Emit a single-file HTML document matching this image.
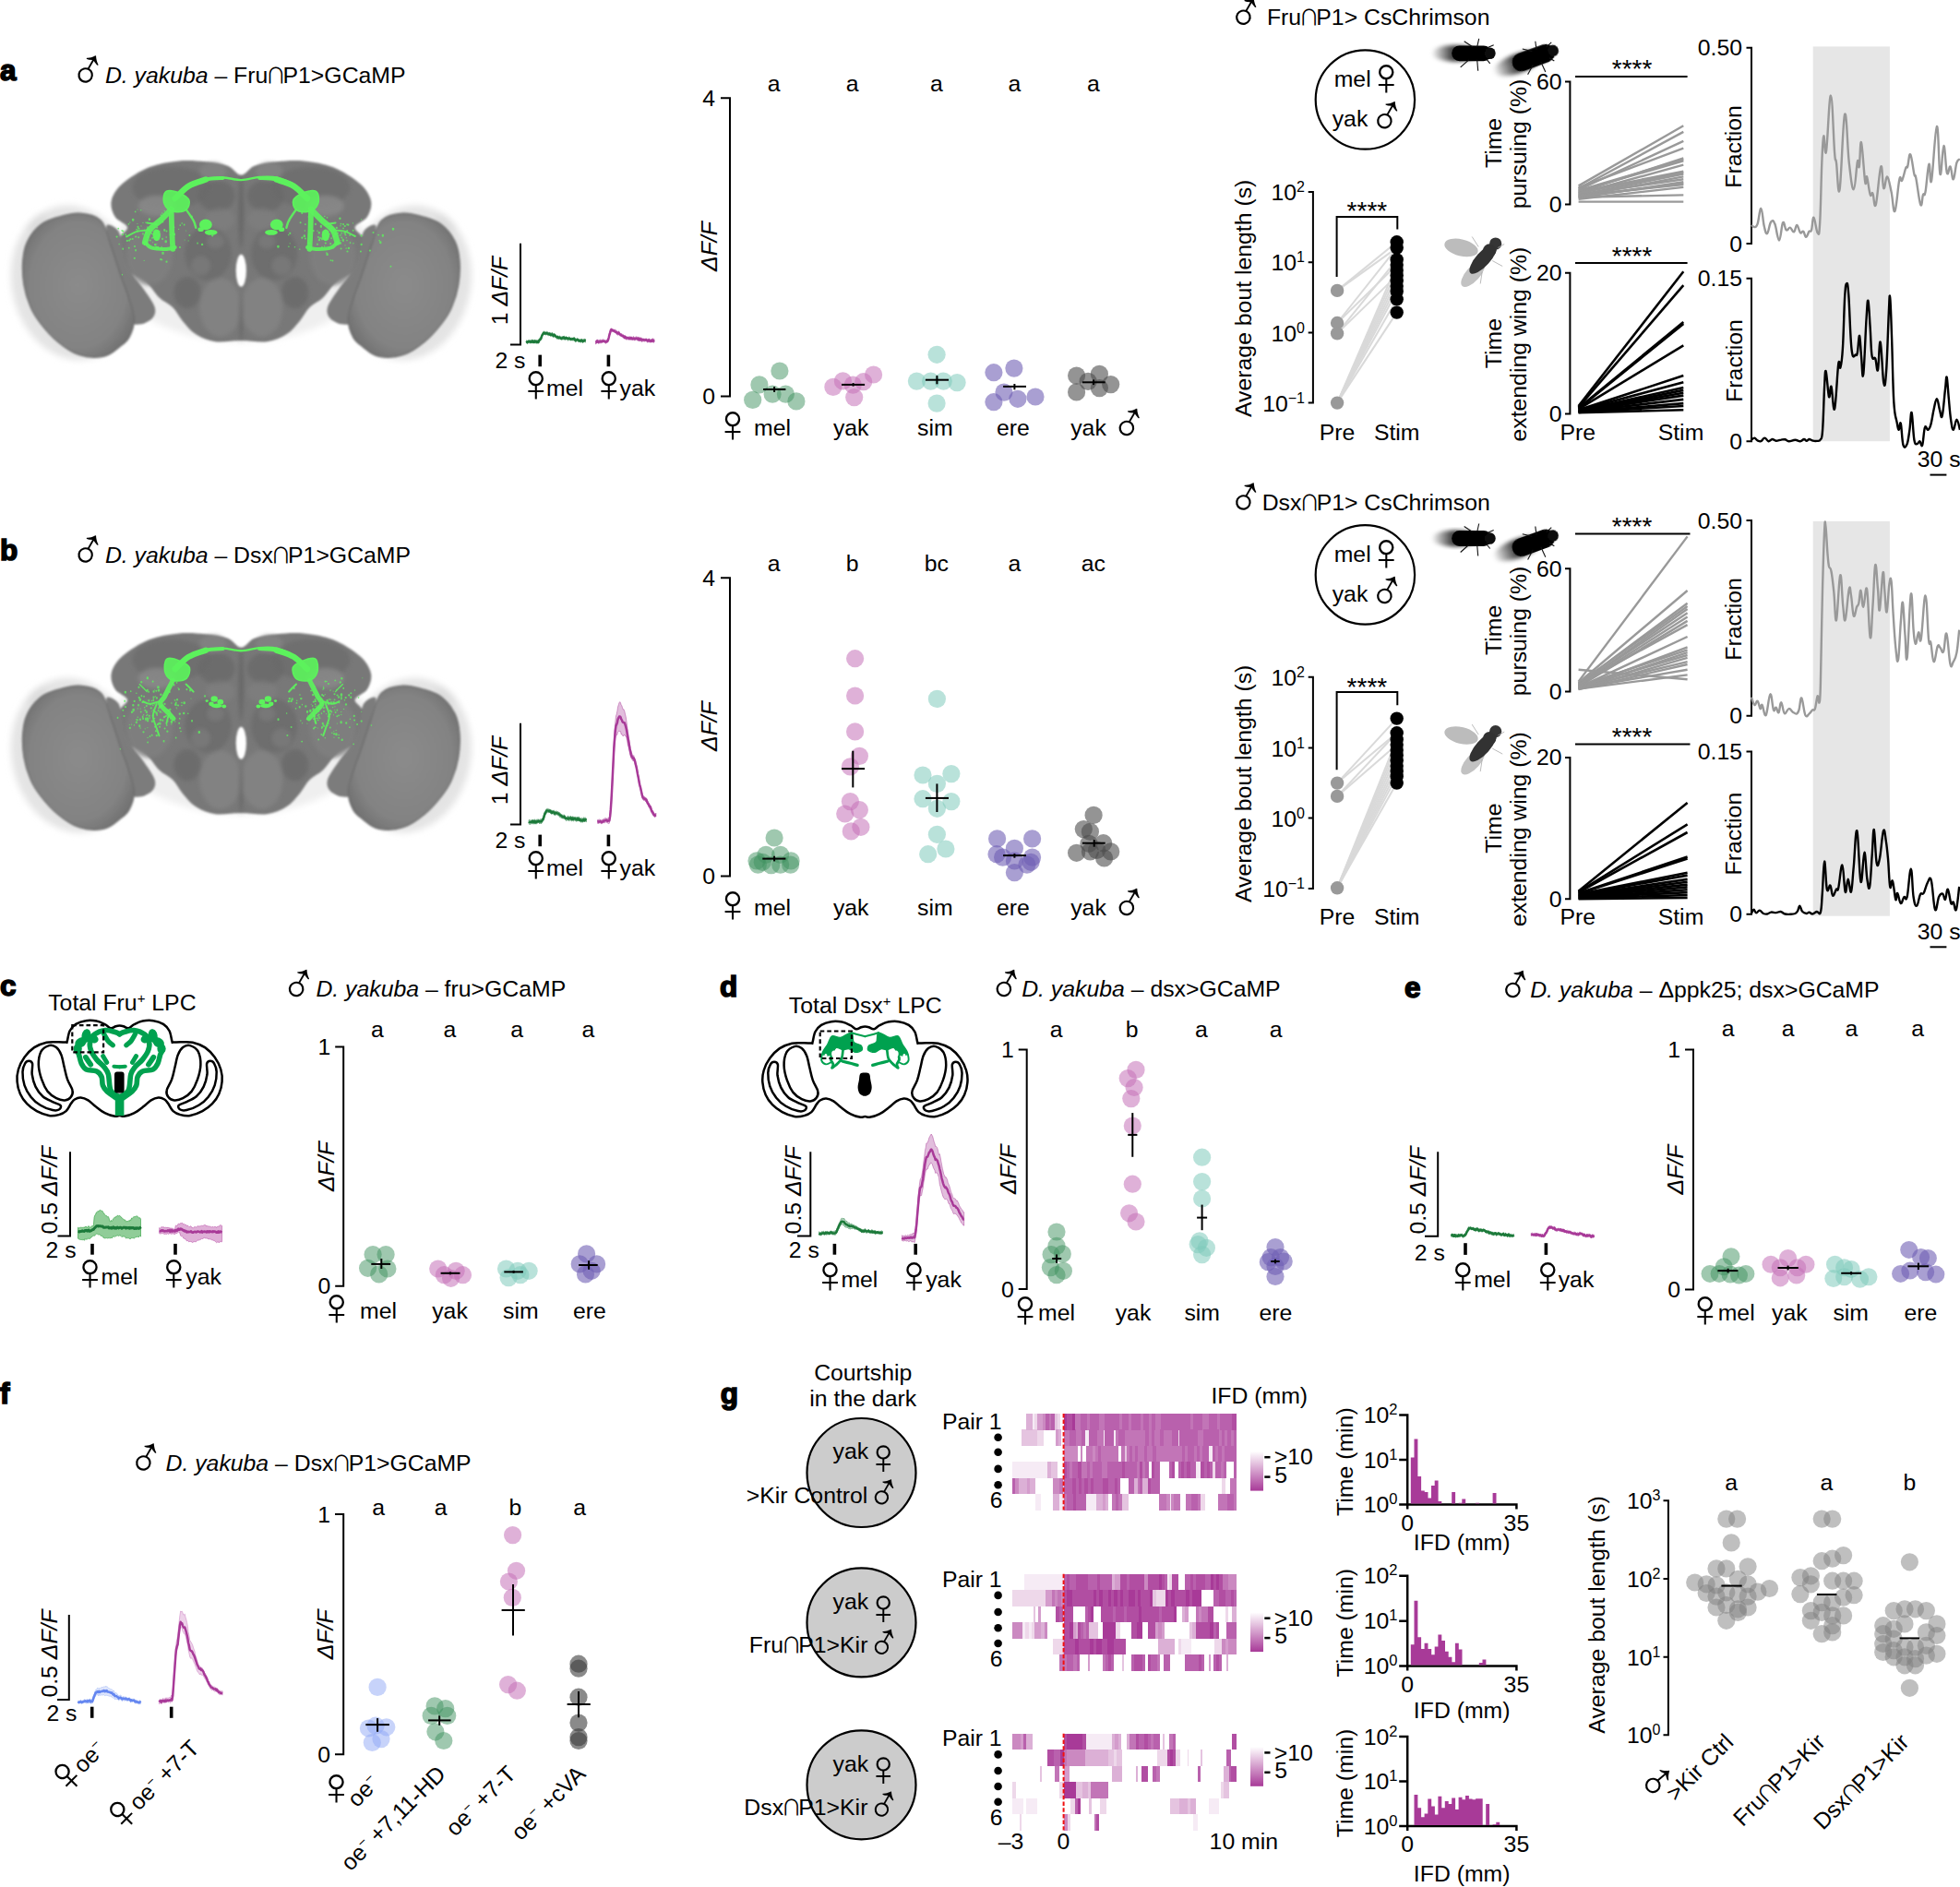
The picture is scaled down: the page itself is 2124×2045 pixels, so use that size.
<!DOCTYPE html><html><head><meta charset="utf-8"><title>figure</title><style>html,body{margin:0;padding:0;background:#fff}svg{display:block}text{font-family:'Liberation Sans',sans-serif;fill:#000}</style></head><body><svg width="2124" height="2045" viewBox="0 0 2124 2045"><rect width="2124" height="2045" fill="#fff"/><defs><filter id="bl05" x="-10%" y="-10%" width="120%" height="120%"><feGaussianBlur stdDeviation="0.5"/></filter><filter id="bl1" x="-10%" y="-10%" width="120%" height="120%"><feGaussianBlur stdDeviation="1.3"/></filter><filter id="bl2" x="-20%" y="-20%" width="140%" height="140%"><feGaussianBlur stdDeviation="3.5"/></filter><linearGradient id="cbar" x1="0" y1="0" x2="0" y2="1"><stop offset="0" stop-color="#fff"/><stop offset="1" stop-color="#a83a98"/></linearGradient><linearGradient id="tailg" x1="0" y1="0" x2="1" y2="0"><stop offset="0" stop-color="#000" stop-opacity="0"/><stop offset="0.45" stop-color="#000" stop-opacity="0.75"/><stop offset="1" stop-color="#000" stop-opacity="0.9"/></linearGradient><radialGradient id="eyeg" cx="0.5" cy="0.5" r="0.62"><stop offset="0" stop-color="#8b8b8b"/><stop offset="0.7" stop-color="#838383"/><stop offset="1" stop-color="#6b6b6b"/></radialGradient><filter id="bl4" x="-20%" y="-20%" width="140%" height="140%"><feGaussianBlur stdDeviation="2"/></filter></defs>
<text x="0.0" y="87.4" font-size="31.5" font-weight="bold" stroke="#000" stroke-width="1.6">a</text>
<text x="-9.9" y="8.0" font-size="62" font-weight="200" style="font-family:'DejaVu Sans',sans-serif" transform="translate(83.8 90.0) translate(8.0 -8.0) rotate(-15) scale(0.95) translate(-8.0 8.0)">♂</text>
<text x="113.9" y="90.0" font-size="24.8"><tspan font-style="italic">D. yakuba</tspan> – Fru<tspan style="font-family:'Noto Sans CJK JP',sans-serif" font-size="0.9em" dx="-2.5" letter-spacing="-3.6">∩</tspan>P1&gt;GCaMP</text>
<g filter="url(#bl2)">
<ellipse cx="261.3" cy="282.7" rx="143.3" ry="87.6" fill="#efefef"/>
<ellipse cx="79.6" cy="306.5" rx="66.9" ry="84.4" fill="#e4e4e4" transform="rotate(-12 79.6 306.5)"/>
<ellipse cx="443.1" cy="306.5" rx="66.9" ry="84.4" fill="#e4e4e4" transform="rotate(12 443.1 306.5)"/>
<ellipse cx="39.8" cy="241.5" rx="13.3" ry="5.8" fill="#dcdcdc" transform="rotate(-42 39.8 241.5)"/>
<ellipse cx="482.9" cy="241.5" rx="13.3" ry="5.8" fill="#dcdcdc" transform="rotate(42 482.9 241.5)"/>
</g>
<g filter="url(#bl1)">
<path d="M261.3,189.8 C256.5,189.8 253.2,182.1 246.7,179.7 C240.3,177.3 231.7,176.1 222.9,175.2 C214.0,174.3 203.9,173.4 193.7,174.4 C183.5,175.4 172.0,177.2 161.8,181.3 C151.7,185.4 139.5,193.0 132.7,199.1 C125.8,205.1 122.0,211.7 120.7,217.7 C119.4,223.6 121.8,230.2 124.7,234.9 C127.6,239.6 137.1,242.3 138.0,246.0 C138.9,249.8 131.4,252.7 130.0,257.5 C128.6,262.2 127.9,268.7 129.5,274.7 C131.0,280.7 134.3,288.0 139.3,293.3 C144.2,298.6 153.7,301.7 159.2,306.5 C164.7,311.4 167.8,318.0 172.5,322.5 C177.1,326.9 182.9,328.9 187.1,333.1 C191.3,337.3 193.5,342.8 197.7,347.7 C201.9,352.5 206.3,358.5 212.3,362.3 C218.2,366.0 225.3,369.1 233.5,370.2 C241.7,371.3 252.1,368.9 261.3,368.9 C270.6,368.9 281.0,371.3 289.2,370.2 C297.4,369.1 304.5,366.0 310.4,362.3 C316.4,358.5 320.8,352.5 325.0,347.7 C329.2,342.8 331.4,337.3 335.6,333.1 C339.8,328.9 345.6,326.9 350.2,322.5 C354.9,318.0 358.0,311.4 363.5,306.5 C369.0,301.7 378.4,298.6 383.4,293.3 C388.3,288.0 391.7,280.7 393.2,274.7 C394.8,268.7 394.1,262.2 392.7,257.5 C391.3,252.7 383.8,249.8 384.7,246.0 C385.6,242.3 395.1,239.6 398.0,234.9 C400.9,230.2 403.3,223.6 402.0,217.7 C400.6,211.7 396.9,205.1 390.0,199.1 C383.2,193.0 371.0,185.4 360.8,181.3 C350.7,177.2 339.2,175.4 329.0,174.4 C318.8,173.4 308.7,174.3 299.8,175.2 C291.0,176.1 282.3,177.3 275.9,179.7 C269.5,182.1 266.2,189.8 261.3,189.8Z" fill="#787878"/>
<path d="M115.4,244.5 C116.7,241.6 125.0,246.0 127.9,249.8 C130.8,253.5 131.3,261.3 132.7,266.7 C134.0,272.2 133.9,277.4 135.8,282.7 C137.8,288.0 141.2,293.3 144.6,298.6 C148.0,303.9 152.7,308.8 156.5,314.5 C160.4,320.2 166.3,328.0 167.7,333.1 C169.1,338.2 167.8,341.9 165.0,345.0 C162.3,348.1 155.7,351.3 151.2,351.6 C146.8,352.0 141.4,351.7 138.5,346.9 C135.6,342.0 135.8,331.4 134.0,322.5 C132.1,313.5 129.7,302.6 127.4,293.3 C125.0,284.0 121.9,274.9 119.9,266.7 C117.9,258.6 114.1,247.3 115.4,244.5Z" fill="#7b7b7b"/>
<path d="M407.3,244.5 C405.9,241.6 397.7,246.0 394.8,249.8 C391.9,253.5 391.4,261.3 390.0,266.7 C388.7,272.2 388.8,277.4 386.8,282.7 C384.9,288.0 381.5,293.3 378.1,298.6 C374.6,303.9 370.0,308.8 366.1,314.5 C362.3,320.2 356.4,328.0 355.0,333.1 C353.6,338.2 354.9,341.9 357.7,345.0 C360.4,348.1 367.0,351.3 371.5,351.6 C375.9,352.0 381.3,351.7 384.2,346.9 C387.1,342.0 386.8,331.4 388.7,322.5 C390.6,313.5 393.0,302.6 395.3,293.3 C397.7,284.0 400.8,274.9 402.8,266.7 C404.7,258.6 408.6,247.3 407.3,244.5Z" fill="#7b7b7b"/>
<path d="M86.2,231.2 C78.4,230.6 69.4,233.4 62.4,235.4 C55.3,237.5 49.2,239.3 43.8,243.7 C38.3,248.0 32.9,254.9 29.7,261.4 C26.5,267.9 25.3,274.7 24.7,282.7 C24.1,290.6 24.6,300.8 26.0,309.2 C27.4,317.6 30.2,326.2 33.2,333.1 C36.1,339.9 38.9,344.1 43.8,350.3 C48.6,356.5 55.3,364.5 62.4,370.2 C69.4,376.0 77.8,382.2 86.2,384.8 C94.6,387.5 105.5,387.7 112.8,386.1 C120.1,384.6 125.5,379.0 130.0,375.5 C134.6,372.1 137.5,370.4 140.1,365.4 C142.7,360.5 145.5,353.0 145.4,345.8 C145.3,338.6 141.5,329.7 139.3,322.5 C137.1,315.3 134.6,309.6 132.1,302.6 C129.7,295.5 126.9,286.6 124.7,280.0 C122.5,273.4 121.4,269.6 118.9,262.8 C116.3,255.9 114.8,244.1 109.3,238.9 C103.9,233.6 94.1,231.8 86.2,231.2Z" fill="url(#eyeg)" stroke="#6c6c6c" stroke-width="1.2"/>
<path d="M436.5,231.2 C444.3,230.6 453.3,233.4 460.3,235.4 C467.4,237.5 473.5,239.3 478.9,243.7 C484.3,248.0 489.8,254.9 493.0,261.4 C496.2,267.9 497.4,274.7 498.0,282.7 C498.6,290.6 498.1,300.8 496.7,309.2 C495.3,317.6 492.5,326.2 489.5,333.1 C486.6,339.9 483.8,344.1 478.9,350.3 C474.0,356.5 467.4,364.5 460.3,370.2 C453.3,376.0 444.9,382.2 436.5,384.8 C428.1,387.5 417.2,387.7 409.9,386.1 C402.6,384.6 397.2,379.0 392.7,375.5 C388.1,372.1 385.2,370.4 382.6,365.4 C380.0,360.5 377.2,353.0 377.3,345.8 C377.4,338.6 381.2,329.7 383.4,322.5 C385.6,315.3 388.1,309.6 390.6,302.6 C393.0,295.5 395.8,286.6 398.0,280.0 C400.2,273.4 401.3,269.6 403.8,262.8 C406.4,255.9 407.9,244.1 413.4,238.9 C418.8,233.6 428.6,231.8 436.5,231.2Z" fill="url(#eyeg)" stroke="#6c6c6c" stroke-width="1.2"/>
</g>
<g filter="url(#bl4)">
<ellipse cx="185.7" cy="203.1" rx="42.5" ry="22.6" fill="#6d6d6d" fill-opacity="0.8"/>
<ellipse cx="337.0" cy="203.1" rx="42.5" ry="22.6" fill="#6d6d6d" fill-opacity="0.8"/>
<ellipse cx="169.8" cy="223.0" rx="19.9" ry="11.1" fill="#8b8b8b" fill-opacity="0.8"/>
<ellipse cx="352.9" cy="223.0" rx="19.9" ry="11.1" fill="#8b8b8b" fill-opacity="0.8"/>
<ellipse cx="230.8" cy="185.8" rx="14.6" ry="10.1" fill="#858585" fill-opacity="0.7"/>
<ellipse cx="291.9" cy="185.8" rx="14.6" ry="10.1" fill="#858585" fill-opacity="0.7"/>
<ellipse cx="234.8" cy="212.4" rx="19.9" ry="17.2" fill="#696969" fill-opacity="0.8"/>
<ellipse cx="287.9" cy="212.4" rx="19.9" ry="17.2" fill="#696969" fill-opacity="0.8"/>
<ellipse cx="161.8" cy="277.4" rx="25.2" ry="31.8" fill="#808080" fill-opacity="0.8"/>
<ellipse cx="360.8" cy="277.4" rx="25.2" ry="31.8" fill="#808080" fill-opacity="0.8"/>
<ellipse cx="225.5" cy="274.7" rx="25.2" ry="29.2" fill="#6b6b6b" fill-opacity="0.8"/>
<ellipse cx="297.2" cy="274.7" rx="25.2" ry="29.2" fill="#6b6b6b" fill-opacity="0.8"/>
<ellipse cx="217.6" cy="288.0" rx="10.6" ry="10.6" fill="#808080" fill-opacity="0.6"/>
<ellipse cx="305.1" cy="288.0" rx="10.6" ry="10.6" fill="#808080" fill-opacity="0.6"/>
<ellipse cx="233.5" cy="261.4" rx="9.3" ry="8.0" fill="#7e7e7e" fill-opacity="0.6"/>
<ellipse cx="289.2" cy="261.4" rx="9.3" ry="8.0" fill="#7e7e7e" fill-opacity="0.6"/>
<ellipse cx="238.8" cy="333.1" rx="22.6" ry="31.8" fill="#858585" fill-opacity="0.75"/>
<ellipse cx="283.9" cy="333.1" rx="22.6" ry="31.8" fill="#858585" fill-opacity="0.75"/>
<ellipse cx="203.0" cy="317.2" rx="14.6" ry="17.2" fill="#696969" fill-opacity="0.8"/>
<ellipse cx="319.7" cy="317.2" rx="14.6" ry="17.2" fill="#696969" fill-opacity="0.8"/>
<ellipse cx="238.8" cy="237.6" rx="15.9" ry="11.9" fill="#808080" fill-opacity="0.6"/>
<ellipse cx="283.9" cy="237.6" rx="15.9" ry="11.9" fill="#808080" fill-opacity="0.6"/>
<ellipse cx="261.3" cy="229.6" rx="2.4" ry="39.8" fill="#5e5e5e" fill-opacity="0.7"/>
<ellipse cx="261.3" cy="343.7" rx="1.6" ry="26.5" fill="#5e5e5e" fill-opacity="0.7"/>
</g>
<g filter="url(#bl1)">
<ellipse cx="261.3" cy="293.3" rx="5.6" ry="17.5" fill="#fff"/>
</g>
<g filter="url(#bl05)" fill="none" stroke-linecap="round" stroke-linejoin="round">
<path d="M189.7,215.0 C192.1,212.8 198.8,205.1 204.3,201.7 C209.8,198.3 216.7,196.1 222.9,194.6 C229.1,193.0 235.0,192.4 241.4,192.5 C247.9,192.5 254.7,195.2 261.3,195.1 C268.0,195.0 274.8,192.4 281.2,191.9 C287.7,191.5 293.6,191.0 299.8,192.5 C306.0,193.9 312.9,196.7 318.4,200.4 C323.9,204.2 330.5,212.6 333.0,215.0" stroke="#5cf25c" stroke-width="2.4"/>
<path d="M189.7,215.0 C192.1,212.8 198.8,205.1 204.3,201.7 C209.8,198.3 219.8,195.8 222.9,194.6" stroke="#5cf25c" stroke-width="6.4"/>
<path d="M204.3,201.7 C207.4,200.5 216.7,196.0 222.9,194.6 C229.1,193.1 238.3,193.2 241.4,193.0" stroke="#5cf25c" stroke-width="4.0"/>
<path d="M180.9,207.0 C183.9,206.0 191.0,207.8 195.0,209.4 C199.0,211.1 203.6,213.9 204.8,216.9 C206.0,219.8 204.5,224.8 202.2,226.9 C199.9,229.1 194.6,229.9 191.0,229.6 C187.5,229.3 183.2,227.7 180.9,225.4 C178.7,223.1 177.2,218.9 177.2,215.8 C177.2,212.7 178.0,208.1 180.9,207.0Z" fill="#5cf25c" stroke="#5cf25c" stroke-width="1.6" fill-opacity="0.92"/>
<path d="M185.7,226.9 C183.7,228.9 177.8,235.1 173.8,238.9 C169.8,242.6 164.6,245.5 161.8,249.5 C159.1,253.5 157.9,260.6 157.1,262.8" stroke="#5cf25c" stroke-width="6.4" stroke-opacity="0.92"/>
<path d="M157.1,262.8 C158.3,263.7 160.6,267.4 164.5,268.6 C168.4,269.8 176.2,270.0 180.4,269.9 C184.6,269.8 188.2,268.4 189.7,268.1" stroke="#5cf25c" stroke-width="4.0" stroke-opacity="0.92"/>
<path d="M185.7,229.6 C185.8,233.1 186.0,244.1 186.3,250.8 C186.5,257.5 187.1,266.7 187.3,269.9" stroke="#5cf25c" stroke-width="5.8" stroke-opacity="0.92"/>
<path d="M201.6,226.9 C203.0,228.9 207.8,235.6 209.6,238.9 C211.4,242.2 211.8,245.5 212.3,246.8" stroke="#5cf25c" stroke-width="2.4" stroke-opacity="0.92"/>
<path d="M161.8,249.5 C159.6,249.7 152.6,249.7 148.6,250.8 C144.6,251.9 139.7,255.2 138.0,256.1" stroke="#5cf25c" stroke-width="1.9" stroke-opacity="0.92"/>
<path d="M169.8,242.9 C168.0,242.6 161.0,241.8 159.2,241.5" stroke="#5cf25c" stroke-width="2.1" stroke-opacity="0.92"/>
<ellipse cx="222.9" cy="243.4" rx="6.9" ry="5.8" fill="#5cf25c" stroke="none"/>
<ellipse cx="228.7" cy="251.9" rx="6.9" ry="2.9" fill="#5cf25c" stroke="none"/>
<ellipse cx="217.6" cy="248.7" rx="3.2" ry="2.4" fill="#5cf25c" stroke="none"/>
<ellipse cx="169.8" cy="254.8" rx="4.2" ry="6.4" fill="#5cf25c" stroke="none"/>
<path d="M139.0,260.6a1.1,1.1 0 1,0 2.3,0a1.1,1.1 0 1,0 -2.3,0M140.4,259.2a0.9,0.9 0 1,0 1.8,0a0.9,0.9 0 1,0 -1.8,0M173.1,269.2a0.9,0.9 0 1,0 1.9,0a0.9,0.9 0 1,0 -1.9,0M166.1,251.0a0.7,0.7 0 1,0 1.4,0a0.7,0.7 0 1,0 -1.4,0M194.0,267.9a1.0,1.0 0 1,0 2.0,0a1.0,1.0 0 1,0 -2.0,0M217.9,264.9a1.2,1.2 0 1,0 2.4,0a1.2,1.2 0 1,0 -2.4,0M148.3,242.5a0.6,0.6 0 1,0 1.2,0a0.6,0.6 0 1,0 -1.2,0M188.2,257.5a0.5,0.5 0 1,0 1.1,0a0.5,0.5 0 1,0 -1.1,0M169.4,264.4a0.5,0.5 0 1,0 1.0,0a0.5,0.5 0 1,0 -1.0,0M142.5,259.0a1.1,1.1 0 1,0 2.2,0a1.1,1.1 0 1,0 -2.2,0M135.4,254.1a0.8,0.8 0 1,0 1.7,0a0.8,0.8 0 1,0 -1.7,0M152.3,244.9a0.7,0.7 0 1,0 1.4,0a0.7,0.7 0 1,0 -1.4,0M229.1,255.5a1.1,1.1 0 1,0 2.2,0a1.1,1.1 0 1,0 -2.2,0M159.3,246.1a0.7,0.7 0 1,0 1.3,0a0.7,0.7 0 1,0 -1.3,0M161.6,260.5a1.0,1.0 0 1,0 2.1,0a1.0,1.0 0 1,0 -2.1,0M132.5,269.7a0.8,0.8 0 1,0 1.5,0a0.8,0.8 0 1,0 -1.5,0M201.2,250.1a0.5,0.5 0 1,0 1.0,0a0.5,0.5 0 1,0 -1.0,0M174.6,281.5a0.8,0.8 0 1,0 1.7,0a0.8,0.8 0 1,0 -1.7,0M183.8,254.6a0.6,0.6 0 1,0 1.1,0a0.6,0.6 0 1,0 -1.1,0M140.1,241.1a0.7,0.7 0 1,0 1.4,0a0.7,0.7 0 1,0 -1.4,0M178.6,261.7a1.2,1.2 0 1,0 2.3,0a1.2,1.2 0 1,0 -2.3,0M164.3,250.2a0.7,0.7 0 1,0 1.3,0a0.7,0.7 0 1,0 -1.3,0M169.1,258.6a1.1,1.1 0 1,0 2.1,0a1.1,1.1 0 1,0 -2.1,0M174.9,269.9a0.8,0.8 0 1,0 1.6,0a0.8,0.8 0 1,0 -1.6,0M175.7,274.2a0.6,0.6 0 1,0 1.2,0a0.6,0.6 0 1,0 -1.2,0M157.6,251.5a0.8,0.8 0 1,0 1.6,0a0.8,0.8 0 1,0 -1.6,0M167.0,265.3a1.2,1.2 0 1,0 2.4,0a1.2,1.2 0 1,0 -2.4,0M169.0,246.5a1.1,1.1 0 1,0 2.2,0a1.1,1.1 0 1,0 -2.2,0M168.3,267.7a1.1,1.1 0 1,0 2.2,0a1.1,1.1 0 1,0 -2.2,0M157.6,251.9a1.2,1.2 0 1,0 2.4,0a1.2,1.2 0 1,0 -2.4,0M167.0,265.1a1.0,1.0 0 1,0 2.1,0a1.0,1.0 0 1,0 -2.1,0M156.0,264.9a0.6,0.6 0 1,0 1.1,0a0.6,0.6 0 1,0 -1.1,0M186.0,264.6a0.7,0.7 0 1,0 1.3,0a0.7,0.7 0 1,0 -1.3,0M148.3,249.3a0.8,0.8 0 1,0 1.6,0a0.8,0.8 0 1,0 -1.6,0M185.7,252.6a0.9,0.9 0 1,0 1.8,0a0.9,0.9 0 1,0 -1.8,0M172.3,250.5a0.6,0.6 0 1,0 1.2,0a0.6,0.6 0 1,0 -1.2,0M194.6,244.1a0.7,0.7 0 1,0 1.3,0a0.7,0.7 0 1,0 -1.3,0M175.4,274.3a1.2,1.2 0 1,0 2.3,0a1.2,1.2 0 1,0 -2.3,0M179.4,283.7a1.1,1.1 0 1,0 2.2,0a1.1,1.1 0 1,0 -2.2,0M147.4,248.6a0.6,0.6 0 1,0 1.1,0a0.6,0.6 0 1,0 -1.1,0M213.4,263.5a0.7,0.7 0 1,0 1.3,0a0.7,0.7 0 1,0 -1.3,0M159.1,247.3a1.1,1.1 0 1,0 2.2,0a1.1,1.1 0 1,0 -2.2,0M150.2,250.5a0.6,0.6 0 1,0 1.2,0a0.6,0.6 0 1,0 -1.2,0M162.4,251.7a0.7,0.7 0 1,0 1.3,0a0.7,0.7 0 1,0 -1.3,0M127.3,247.6a0.9,0.9 0 1,0 1.9,0a0.9,0.9 0 1,0 -1.9,0M155.5,282.3a0.6,0.6 0 1,0 1.3,0a0.6,0.6 0 1,0 -1.3,0M179.4,257.1a0.8,0.8 0 1,0 1.6,0a0.8,0.8 0 1,0 -1.6,0M175.3,258.9a0.8,0.8 0 1,0 1.5,0a0.8,0.8 0 1,0 -1.5,0M154.2,253.4a0.8,0.8 0 1,0 1.5,0a0.8,0.8 0 1,0 -1.5,0M206.8,234.9a1.0,1.0 0 1,0 1.9,0a1.0,1.0 0 1,0 -1.9,0M154.4,241.4a0.6,0.6 0 1,0 1.2,0a0.6,0.6 0 1,0 -1.2,0M167.1,256.6a1.1,1.1 0 1,0 2.3,0a1.1,1.1 0 1,0 -2.3,0M148.5,226.9a0.5,0.5 0 1,0 1.0,0a0.5,0.5 0 1,0 -1.0,0M148.5,245.8a1.0,1.0 0 1,0 2.0,0a1.0,1.0 0 1,0 -2.0,0M131.9,297.7a0.6,0.6 0 1,0 1.1,0a0.6,0.6 0 1,0 -1.1,0M132.2,250.6a1.1,1.1 0 1,0 2.3,0a1.1,1.1 0 1,0 -2.3,0M160.9,237.6a1.1,1.1 0 1,0 2.1,0a1.1,1.1 0 1,0 -2.1,0M179.5,250.5a1.0,1.0 0 1,0 2.0,0a1.0,1.0 0 1,0 -2.0,0M196.4,242.0a0.8,0.8 0 1,0 1.6,0a0.8,0.8 0 1,0 -1.6,0M173.6,233.1a0.9,0.9 0 1,0 1.8,0a0.9,0.9 0 1,0 -1.8,0M149.8,247.8a0.9,0.9 0 1,0 1.8,0a0.9,0.9 0 1,0 -1.8,0M157.2,253.0a0.9,0.9 0 1,0 1.9,0a0.9,0.9 0 1,0 -1.9,0M204.4,255.1a1.0,1.0 0 1,0 2.0,0a1.0,1.0 0 1,0 -2.0,0M138.8,268.7a0.9,0.9 0 1,0 1.8,0a0.9,0.9 0 1,0 -1.8,0M128.6,264.5a0.6,0.6 0 1,0 1.1,0a0.6,0.6 0 1,0 -1.1,0M163.6,253.2a0.9,0.9 0 1,0 1.8,0a0.9,0.9 0 1,0 -1.8,0M149.2,257.2a1.0,1.0 0 1,0 2.0,0a1.0,1.0 0 1,0 -2.0,0M135.9,256.4a1.1,1.1 0 1,0 2.3,0a1.1,1.1 0 1,0 -2.3,0M163.7,257.9a0.7,0.7 0 1,0 1.4,0a0.7,0.7 0 1,0 -1.4,0M158.0,248.9a0.6,0.6 0 1,0 1.2,0a0.6,0.6 0 1,0 -1.2,0M187.9,246.3a0.8,0.8 0 1,0 1.6,0a0.8,0.8 0 1,0 -1.6,0M177.3,249.4a1.0,1.0 0 1,0 1.9,0a1.0,1.0 0 1,0 -1.9,0M170.2,268.1a1.1,1.1 0 1,0 2.1,0a1.1,1.1 0 1,0 -2.1,0M198.9,243.5a0.8,0.8 0 1,0 1.5,0a0.8,0.8 0 1,0 -1.5,0M148.9,250.9a0.6,0.6 0 1,0 1.2,0a0.6,0.6 0 1,0 -1.2,0M125.5,256.6a1.1,1.1 0 1,0 2.2,0a1.1,1.1 0 1,0 -2.2,0M152.1,227.8a0.7,0.7 0 1,0 1.4,0a0.7,0.7 0 1,0 -1.4,0M174.4,267.5a0.7,0.7 0 1,0 1.4,0a0.7,0.7 0 1,0 -1.4,0M168.2,268.2a0.9,0.9 0 1,0 1.9,0a0.9,0.9 0 1,0 -1.9,0M146.1,256.5a1.1,1.1 0 1,0 2.2,0a1.1,1.1 0 1,0 -2.2,0M185.6,254.7a0.6,0.6 0 1,0 1.1,0a0.6,0.6 0 1,0 -1.1,0M203.6,260.9a0.5,0.5 0 1,0 1.1,0a0.5,0.5 0 1,0 -1.1,0M157.1,241.1a0.7,0.7 0 1,0 1.4,0a0.7,0.7 0 1,0 -1.4,0M164.9,253.9a0.6,0.6 0 1,0 1.2,0a0.6,0.6 0 1,0 -1.2,0M159.1,256.9a1.1,1.1 0 1,0 2.2,0a1.1,1.1 0 1,0 -2.2,0M164.8,262.7a0.5,0.5 0 1,0 1.1,0a0.5,0.5 0 1,0 -1.1,0M148.7,246.7a0.9,0.9 0 1,0 1.9,0a0.9,0.9 0 1,0 -1.9,0M143.0,238.2a1.2,1.2 0 1,0 2.3,0a1.2,1.2 0 1,0 -2.3,0M158.4,248.8a0.8,0.8 0 1,0 1.7,0a0.8,0.8 0 1,0 -1.7,0M164.9,257.7a0.8,0.8 0 1,0 1.7,0a0.8,0.8 0 1,0 -1.7,0M161.0,248.8a0.7,0.7 0 1,0 1.4,0a0.7,0.7 0 1,0 -1.4,0M146.2,271.3a0.9,0.9 0 1,0 1.7,0a0.9,0.9 0 1,0 -1.7,0M138.6,242.9a0.8,0.8 0 1,0 1.6,0a0.8,0.8 0 1,0 -1.6,0M175.2,231.0a0.6,0.6 0 1,0 1.1,0a0.6,0.6 0 1,0 -1.1,0M193.0,248.3a0.6,0.6 0 1,0 1.2,0a0.6,0.6 0 1,0 -1.2,0M136.7,260.9a1.1,1.1 0 1,0 2.3,0a1.1,1.1 0 1,0 -2.3,0M144.9,267.0a1.1,1.1 0 1,0 2.2,0a1.1,1.1 0 1,0 -2.2,0M177.5,228.7a0.8,0.8 0 1,0 1.6,0a0.8,0.8 0 1,0 -1.6,0M155.7,249.5a1.0,1.0 0 1,0 2.0,0a1.0,1.0 0 1,0 -2.0,0M175.4,240.6a1.0,1.0 0 1,0 2.0,0a1.0,1.0 0 1,0 -2.0,0M173.1,281.1a1.2,1.2 0 1,0 2.4,0a1.2,1.2 0 1,0 -2.4,0M187.9,254.0a1.1,1.1 0 1,0 2.1,0a1.1,1.1 0 1,0 -2.1,0M144.7,279.8a1.1,1.1 0 1,0 2.2,0a1.1,1.1 0 1,0 -2.2,0M158.9,260.2a0.8,0.8 0 1,0 1.6,0a0.8,0.8 0 1,0 -1.6,0M131.3,249.8a0.8,0.8 0 1,0 1.7,0a0.8,0.8 0 1,0 -1.7,0M199.6,260.0a0.5,0.5 0 1,0 1.1,0a0.5,0.5 0 1,0 -1.1,0M167.5,249.1a0.7,0.7 0 1,0 1.5,0a0.7,0.7 0 1,0 -1.5,0M166.5,249.7a0.6,0.6 0 1,0 1.2,0a0.6,0.6 0 1,0 -1.2,0M131.7,254.1a1.1,1.1 0 1,0 2.2,0a1.1,1.1 0 1,0 -2.2,0M145.8,229.4a0.8,0.8 0 1,0 1.7,0a0.8,0.8 0 1,0 -1.7,0" fill="#5cf25c" fill-opacity="0.8" stroke="none"/>
<path d="M333.0,215.0 C330.5,212.8 323.9,205.1 318.4,201.7 C312.9,198.3 302.9,195.8 299.8,194.6" stroke="#5cf25c" stroke-width="6.4"/>
<path d="M318.4,201.7 C315.3,200.5 306.0,196.0 299.8,194.6 C293.6,193.1 284.3,193.2 281.2,193.0" stroke="#5cf25c" stroke-width="4.0"/>
<path d="M341.7,207.0 C338.8,206.0 331.7,207.8 327.7,209.4 C323.7,211.1 319.1,213.9 317.9,216.9 C316.7,219.8 318.2,224.8 320.5,226.9 C322.8,229.1 328.1,229.9 331.7,229.6 C335.2,229.3 339.4,227.7 341.7,225.4 C344.0,223.1 345.4,218.9 345.4,215.8 C345.4,212.7 344.7,208.1 341.7,207.0Z" fill="#5cf25c" stroke="#5cf25c" stroke-width="1.6" fill-opacity="0.92"/>
<path d="M337.0,226.9 C338.9,228.9 344.9,235.1 348.9,238.9 C352.9,242.6 358.1,245.5 360.8,249.5 C363.6,253.5 364.8,260.6 365.6,262.8" stroke="#5cf25c" stroke-width="6.4" stroke-opacity="0.92"/>
<path d="M365.6,262.8 C364.4,263.7 362.1,267.4 358.2,268.6 C354.3,269.8 346.5,270.0 342.3,269.9 C338.1,269.8 334.5,268.4 333.0,268.1" stroke="#5cf25c" stroke-width="4.0" stroke-opacity="0.92"/>
<path d="M337.0,229.6 C336.9,233.1 336.7,244.1 336.4,250.8 C336.2,257.5 335.5,266.7 335.4,269.9" stroke="#5cf25c" stroke-width="5.8" stroke-opacity="0.92"/>
<path d="M321.0,226.9 C319.7,228.9 314.8,235.6 313.1,238.9 C311.3,242.2 310.9,245.5 310.4,246.8" stroke="#5cf25c" stroke-width="2.4" stroke-opacity="0.92"/>
<path d="M360.8,249.5 C363.0,249.7 370.1,249.7 374.1,250.8 C378.1,251.9 382.9,255.2 384.7,256.1" stroke="#5cf25c" stroke-width="1.9" stroke-opacity="0.92"/>
<path d="M352.9,242.9 C354.6,242.6 361.7,241.8 363.5,241.5" stroke="#5cf25c" stroke-width="2.1" stroke-opacity="0.92"/>
<ellipse cx="299.8" cy="243.4" rx="6.9" ry="5.8" fill="#5cf25c" stroke="none"/>
<ellipse cx="294.0" cy="251.9" rx="6.9" ry="2.9" fill="#5cf25c" stroke="none"/>
<ellipse cx="305.1" cy="248.7" rx="3.2" ry="2.4" fill="#5cf25c" stroke="none"/>
<ellipse cx="352.9" cy="254.8" rx="4.2" ry="6.4" fill="#5cf25c" stroke="none"/>
<path d="M349.5,254.5a0.7,0.7 0 1,0 1.3,0a0.7,0.7 0 1,0 -1.3,0M373.4,254.5a1.0,1.0 0 1,0 2.0,0a1.0,1.0 0 1,0 -2.0,0M372.7,245.0a1.1,1.1 0 1,0 2.2,0a1.1,1.1 0 1,0 -2.2,0M373.4,252.3a0.8,0.8 0 1,0 1.5,0a0.8,0.8 0 1,0 -1.5,0M333.5,234.9a0.6,0.6 0 1,0 1.3,0a0.6,0.6 0 1,0 -1.3,0M326.4,230.8a0.9,0.9 0 1,0 1.7,0a0.9,0.9 0 1,0 -1.7,0M369.3,252.6a0.9,0.9 0 1,0 1.8,0a0.9,0.9 0 1,0 -1.8,0M384.8,255.8a0.5,0.5 0 1,0 1.0,0a0.5,0.5 0 1,0 -1.0,0M333.9,253.4a0.8,0.8 0 1,0 1.6,0a0.8,0.8 0 1,0 -1.6,0M349.3,241.6a0.8,0.8 0 1,0 1.7,0a0.8,0.8 0 1,0 -1.7,0M360.0,252.0a0.9,0.9 0 1,0 1.8,0a0.9,0.9 0 1,0 -1.8,0M399.8,271.6a1.1,1.1 0 1,0 2.3,0a1.1,1.1 0 1,0 -2.3,0M360.3,269.5a0.6,0.6 0 1,0 1.2,0a0.6,0.6 0 1,0 -1.2,0M390.5,265.0a1.1,1.1 0 1,0 2.3,0a1.1,1.1 0 1,0 -2.3,0M374.7,257.7a0.6,0.6 0 1,0 1.3,0a0.6,0.6 0 1,0 -1.3,0M391.0,237.8a0.6,0.6 0 1,0 1.2,0a0.6,0.6 0 1,0 -1.2,0M356.8,253.6a0.6,0.6 0 1,0 1.3,0a0.6,0.6 0 1,0 -1.3,0M353.1,274.1a0.7,0.7 0 1,0 1.5,0a0.7,0.7 0 1,0 -1.5,0M374.6,269.2a0.6,0.6 0 1,0 1.1,0a0.6,0.6 0 1,0 -1.1,0M358.5,250.1a0.9,0.9 0 1,0 1.7,0a0.9,0.9 0 1,0 -1.7,0M357.4,264.1a0.9,0.9 0 1,0 1.7,0a0.9,0.9 0 1,0 -1.7,0M375.2,260.6a0.8,0.8 0 1,0 1.6,0a0.8,0.8 0 1,0 -1.6,0M369.1,254.8a0.6,0.6 0 1,0 1.3,0a0.6,0.6 0 1,0 -1.3,0M376.6,243.6a0.9,0.9 0 1,0 1.7,0a0.9,0.9 0 1,0 -1.7,0M340.8,242.9a1.1,1.1 0 1,0 2.2,0a1.1,1.1 0 1,0 -2.2,0M353.6,275.6a1.1,1.1 0 1,0 2.1,0a1.1,1.1 0 1,0 -2.1,0M343.3,250.2a0.7,0.7 0 1,0 1.4,0a0.7,0.7 0 1,0 -1.4,0M344.6,252.2a1.2,1.2 0 1,0 2.4,0a1.2,1.2 0 1,0 -2.4,0M349.4,252.0a0.7,0.7 0 1,0 1.3,0a0.7,0.7 0 1,0 -1.3,0M359.9,247.0a0.6,0.6 0 1,0 1.1,0a0.6,0.6 0 1,0 -1.1,0M346.9,245.3a1.1,1.1 0 1,0 2.1,0a1.1,1.1 0 1,0 -2.1,0M343.0,264.8a1.0,1.0 0 1,0 2.0,0a1.0,1.0 0 1,0 -2.0,0M344.0,257.0a1.0,1.0 0 1,0 2.0,0a1.0,1.0 0 1,0 -2.0,0M313.2,239.5a0.6,0.6 0 1,0 1.2,0a0.6,0.6 0 1,0 -1.2,0M390.8,255.4a0.9,0.9 0 1,0 1.7,0a0.9,0.9 0 1,0 -1.7,0M362.7,249.0a0.5,0.5 0 1,0 1.1,0a0.5,0.5 0 1,0 -1.1,0M353.0,258.2a0.9,0.9 0 1,0 1.8,0a0.9,0.9 0 1,0 -1.8,0M383.3,254.7a0.6,0.6 0 1,0 1.2,0a0.6,0.6 0 1,0 -1.2,0M351.7,263.5a1.1,1.1 0 1,0 2.2,0a1.1,1.1 0 1,0 -2.2,0M312.2,254.5a0.6,0.6 0 1,0 1.1,0a0.6,0.6 0 1,0 -1.1,0M312.1,267.3a0.8,0.8 0 1,0 1.6,0a0.8,0.8 0 1,0 -1.6,0M355.7,245.6a0.8,0.8 0 1,0 1.7,0a0.8,0.8 0 1,0 -1.7,0M378.3,254.9a0.9,0.9 0 1,0 1.8,0a0.9,0.9 0 1,0 -1.8,0M326.3,257.7a1.1,1.1 0 1,0 2.2,0a1.1,1.1 0 1,0 -2.2,0M348.0,268.1a1.0,1.0 0 1,0 2.0,0a1.0,1.0 0 1,0 -2.0,0M368.4,260.5a0.6,0.6 0 1,0 1.2,0a0.6,0.6 0 1,0 -1.2,0M360.6,256.0a1.1,1.1 0 1,0 2.3,0a1.1,1.1 0 1,0 -2.3,0M347.2,238.5a1.1,1.1 0 1,0 2.2,0a1.1,1.1 0 1,0 -2.2,0M371.2,247.3a0.9,0.9 0 1,0 1.8,0a0.9,0.9 0 1,0 -1.8,0M413.8,255.2a1.1,1.1 0 1,0 2.1,0a1.1,1.1 0 1,0 -2.1,0M359.4,282.4a1.0,1.0 0 1,0 2.0,0a1.0,1.0 0 1,0 -2.0,0M351.0,234.5a0.8,0.8 0 1,0 1.6,0a0.8,0.8 0 1,0 -1.6,0M324.6,241.3a1.0,1.0 0 1,0 2.0,0a1.0,1.0 0 1,0 -2.0,0M353.7,235.9a0.8,0.8 0 1,0 1.6,0a0.8,0.8 0 1,0 -1.6,0M358.7,251.6a0.7,0.7 0 1,0 1.5,0a0.7,0.7 0 1,0 -1.5,0M360.3,256.5a0.7,0.7 0 1,0 1.5,0a0.7,0.7 0 1,0 -1.5,0M375.4,243.3a0.7,0.7 0 1,0 1.3,0a0.7,0.7 0 1,0 -1.3,0M329.7,250.1a0.7,0.7 0 1,0 1.5,0a0.7,0.7 0 1,0 -1.5,0M371.2,243.1a0.9,0.9 0 1,0 1.7,0a0.9,0.9 0 1,0 -1.7,0M422.5,288.7a0.9,0.9 0 1,0 1.9,0a0.9,0.9 0 1,0 -1.9,0M367.2,236.8a1.2,1.2 0 1,0 2.4,0a1.2,1.2 0 1,0 -2.4,0M329.9,258.5a1.0,1.0 0 1,0 2.0,0a1.0,1.0 0 1,0 -2.0,0M358.5,268.2a0.5,0.5 0 1,0 1.1,0a0.5,0.5 0 1,0 -1.1,0M351.1,267.0a0.6,0.6 0 1,0 1.1,0a0.6,0.6 0 1,0 -1.1,0M357.5,282.1a0.9,0.9 0 1,0 1.8,0a0.9,0.9 0 1,0 -1.8,0M409.2,254.6a0.9,0.9 0 1,0 1.8,0a0.9,0.9 0 1,0 -1.8,0M328.8,255.6a1.1,1.1 0 1,0 2.1,0a1.1,1.1 0 1,0 -2.1,0M333.3,263.5a1.0,1.0 0 1,0 2.1,0a1.0,1.0 0 1,0 -2.1,0M313.5,263.8a0.6,0.6 0 1,0 1.2,0a0.6,0.6 0 1,0 -1.2,0M369.3,257.4a0.8,0.8 0 1,0 1.7,0a0.8,0.8 0 1,0 -1.7,0M362.3,253.5a1.2,1.2 0 1,0 2.3,0a1.2,1.2 0 1,0 -2.3,0M378.6,263.1a0.9,0.9 0 1,0 1.8,0a0.9,0.9 0 1,0 -1.8,0M368.1,263.5a1.0,1.0 0 1,0 1.9,0a1.0,1.0 0 1,0 -1.9,0M372.3,252.5a1.0,1.0 0 1,0 2.0,0a1.0,1.0 0 1,0 -2.0,0M358.5,258.1a0.7,0.7 0 1,0 1.3,0a0.7,0.7 0 1,0 -1.3,0M346.0,258.0a1.0,1.0 0 1,0 2.1,0a1.0,1.0 0 1,0 -2.1,0M389.9,272.4a1.0,1.0 0 1,0 2.0,0a1.0,1.0 0 1,0 -2.0,0M300.3,267.2a1.2,1.2 0 1,0 2.3,0a1.2,1.2 0 1,0 -2.3,0M318.7,267.7a0.8,0.8 0 1,0 1.6,0a0.8,0.8 0 1,0 -1.6,0M410.5,260.6a0.7,0.7 0 1,0 1.3,0a0.7,0.7 0 1,0 -1.3,0M403.5,252.0a1.0,1.0 0 1,0 2.0,0a1.0,1.0 0 1,0 -2.0,0M411.3,262.7a1.1,1.1 0 1,0 2.1,0a1.1,1.1 0 1,0 -2.1,0M365.1,252.6a0.9,0.9 0 1,0 1.9,0a0.9,0.9 0 1,0 -1.9,0M370.6,258.3a0.5,0.5 0 1,0 1.1,0a0.5,0.5 0 1,0 -1.1,0M367.5,255.0a0.8,0.8 0 1,0 1.6,0a0.8,0.8 0 1,0 -1.6,0M368.3,244.7a0.7,0.7 0 1,0 1.4,0a0.7,0.7 0 1,0 -1.4,0M375.2,250.0a1.0,1.0 0 1,0 2.1,0a1.0,1.0 0 1,0 -2.1,0M424.9,248.2a1.2,1.2 0 1,0 2.3,0a1.2,1.2 0 1,0 -2.3,0M359.1,247.4a0.6,0.6 0 1,0 1.2,0a0.6,0.6 0 1,0 -1.2,0M330.0,243.1a0.9,0.9 0 1,0 1.9,0a0.9,0.9 0 1,0 -1.9,0M367.2,263.5a1.0,1.0 0 1,0 2.0,0a1.0,1.0 0 1,0 -2.0,0M381.7,249.8a0.9,0.9 0 1,0 1.9,0a0.9,0.9 0 1,0 -1.9,0M357.2,248.4a0.7,0.7 0 1,0 1.3,0a0.7,0.7 0 1,0 -1.3,0M313.2,252.8a1.1,1.1 0 1,0 2.2,0a1.1,1.1 0 1,0 -2.2,0M350.7,257.2a0.7,0.7 0 1,0 1.4,0a0.7,0.7 0 1,0 -1.4,0M382.4,263.7a0.6,0.6 0 1,0 1.1,0a0.6,0.6 0 1,0 -1.1,0M365.1,254.9a0.6,0.6 0 1,0 1.1,0a0.6,0.6 0 1,0 -1.1,0M368.5,242.6a0.9,0.9 0 1,0 1.9,0a0.9,0.9 0 1,0 -1.9,0M373.4,265.9a0.6,0.6 0 1,0 1.3,0a0.6,0.6 0 1,0 -1.3,0M375.4,272.5a1.1,1.1 0 1,0 2.2,0a1.1,1.1 0 1,0 -2.2,0M348.1,258.8a1.1,1.1 0 1,0 2.1,0a1.1,1.1 0 1,0 -2.1,0M381.8,241.8a0.6,0.6 0 1,0 1.3,0a0.6,0.6 0 1,0 -1.3,0M370.8,260.4a1.1,1.1 0 1,0 2.1,0a1.1,1.1 0 1,0 -2.1,0M376.7,268.9a1.2,1.2 0 1,0 2.4,0a1.2,1.2 0 1,0 -2.4,0M368.6,269.5a1.0,1.0 0 1,0 2.0,0a1.0,1.0 0 1,0 -2.0,0M339.0,250.1a0.8,0.8 0 1,0 1.5,0a0.8,0.8 0 1,0 -1.5,0M324.3,270.1a0.6,0.6 0 1,0 1.1,0a0.6,0.6 0 1,0 -1.1,0M335.1,263.8a0.8,0.8 0 1,0 1.7,0a0.8,0.8 0 1,0 -1.7,0M363.8,246.9a1.0,1.0 0 1,0 2.1,0a1.0,1.0 0 1,0 -2.1,0M345.0,259.9a1.0,1.0 0 1,0 1.9,0a1.0,1.0 0 1,0 -1.9,0" fill="#5cf25c" fill-opacity="0.8" stroke="none"/>
</g>
<path d="M553,373.6 H564 V263.8" stroke="#000" stroke-width="2" fill="none"/>
<text x="550.0" y="315.0" font-size="24.8" text-anchor="middle" transform="rotate(-90 550.0 315.0)">1 <tspan font-style="italic">ΔF/F</tspan></text>
<text x="536.4" y="398.6" font-size="24.8">2 s</text>
<line x1="585.2" y1="384.6" x2="585.2" y2="397.2" stroke="#000" stroke-width="3.6" stroke-linecap="butt"/>
<line x1="659.4" y1="384.6" x2="659.4" y2="397.2" stroke="#000" stroke-width="3.6" stroke-linecap="butt"/>
<text x="-13.5" y="6.3" font-size="58.6" font-weight="200" style="font-family:'DejaVu Sans',sans-serif" transform="translate(572.5 428.7)">♀</text>
<text x="592.0" y="428.7" font-size="24.8">mel</text>
<text x="-13.5" y="6.3" font-size="58.6" font-weight="200" style="font-family:'DejaVu Sans',sans-serif" transform="translate(651.5 428.7)">♀</text>
<text x="671.6" y="428.7" font-size="24.8">yak</text>
<path d="M570.5,368.7 L571.2,369.7 L571.9,369.7 L572.7,368.8 L573.4,368.9 L574.1,368.2 L574.8,369.1 L575.5,369.3 L576.3,368.0 L577.0,368.1 L577.7,369.5 L578.4,368.2 L579.1,368.9 L579.8,368.4 L580.6,369.0 L581.3,368.9 L582.0,368.6 L582.7,369.0 L583.4,369.7 L584.2,367.2 L584.9,366.5 L585.6,365.8 L586.3,365.0 L587.0,363.2 L587.8,361.1 L588.5,360.0 L589.2,359.1 L589.9,358.9 L590.6,359.8 L591.4,360.1 L592.1,359.1 L592.8,359.4 L593.5,359.6 L594.2,360.7 L594.9,360.1 L595.7,360.4 L596.4,361.0 L597.1,360.8 L597.8,361.0 L598.5,360.2 L599.3,362.7 L600.0,362.0 L600.7,361.2 L601.4,362.3 L602.1,362.7 L602.9,363.7 L603.6,364.4 L604.3,363.6 L605.0,364.9 L605.7,364.7 L606.5,364.0 L607.2,364.4 L607.9,365.3 L608.6,364.9 L609.3,364.6 L610.1,364.8 L610.8,364.5 L611.5,364.1 L612.2,366.0 L612.9,364.7 L613.6,364.7 L614.4,365.7 L615.1,366.0 L615.8,365.6 L616.5,364.9 L617.2,365.0 L618.0,366.1 L618.7,366.5 L619.4,366.3 L620.1,365.7 L620.8,366.5 L621.6,366.0 L622.3,365.3 L623.0,366.4 L623.7,366.9 L624.4,367.2 L625.2,366.5 L625.9,366.8 L626.6,367.2 L627.3,367.5 L628.0,368.2 L628.7,368.0 L629.5,367.8 L630.2,367.5 L630.9,367.9 L631.6,368.0 L632.3,367.3 L633.1,368.3 L633.8,367.0 L634.5,367.6 L634.5,371.2 L633.8,370.1 L633.1,370.6 L632.3,370.6 L631.6,371.9 L630.9,370.2 L630.2,369.6 L629.5,371.4 L628.7,370.4 L628.0,370.8 L627.3,370.7 L626.6,369.8 L625.9,369.3 L625.2,369.9 L624.4,370.3 L623.7,370.8 L623.0,369.3 L622.3,368.7 L621.6,369.0 L620.8,369.2 L620.1,368.6 L619.4,368.8 L618.7,369.3 L618.0,368.4 L617.2,368.1 L616.5,368.5 L615.8,369.2 L615.1,368.8 L614.4,368.1 L613.6,367.9 L612.9,367.5 L612.2,368.7 L611.5,367.3 L610.8,366.6 L610.1,368.4 L609.3,367.8 L608.6,368.5 L607.9,368.0 L607.2,367.9 L606.5,366.9 L605.7,367.5 L605.0,368.0 L604.3,366.1 L603.6,367.5 L602.9,365.8 L602.1,365.4 L601.4,364.9 L600.7,364.9 L600.0,365.7 L599.3,365.6 L598.5,363.5 L597.8,364.4 L597.1,364.0 L596.4,364.5 L595.7,363.0 L594.9,363.9 L594.2,363.6 L593.5,363.2 L592.8,363.1 L592.1,362.1 L591.4,363.3 L590.6,362.4 L589.9,362.8 L589.2,361.9 L588.5,363.4 L587.8,364.3 L587.0,365.9 L586.3,368.1 L585.6,369.2 L584.9,369.2 L584.2,370.7 L583.4,372.1 L582.7,372.0 L582.0,370.9 L581.3,372.5 L580.6,372.1 L579.8,371.3 L579.1,372.3 L578.4,371.4 L577.7,372.3 L577.0,371.2 L576.3,371.0 L575.5,372.2 L574.8,371.7 L574.1,372.1 L573.4,371.7 L572.7,371.4 L571.9,372.5 L571.2,372.7 L570.5,370.7Z" fill="#1c7a3a" fill-opacity="0.33" stroke="#1c7a3a" stroke-opacity="0.53" stroke-width="0.9"/>
<path d="M570.5,369.7 L571.2,370.9 L571.9,370.7 L572.7,369.9 L573.4,370.3 L574.1,370.2 L574.8,370.5 L575.5,370.8 L576.3,369.7 L577.0,369.5 L577.7,370.8 L578.4,370.2 L579.1,370.7 L579.8,369.5 L580.6,370.2 L581.3,370.7 L582.0,369.9 L582.7,371.0 L583.4,370.9 L584.2,369.1 L584.9,368.2 L585.6,367.7 L586.3,366.9 L587.0,364.5 L587.8,362.8 L588.5,362.0 L589.2,360.7 L589.9,360.9 L590.6,361.3 L591.4,361.5 L592.1,361.2 L592.8,361.3 L593.5,361.5 L594.2,362.0 L594.9,361.9 L595.7,361.5 L596.4,362.8 L597.1,362.5 L597.8,362.7 L598.5,362.2 L599.3,363.7 L600.0,363.8 L600.7,362.9 L601.4,363.5 L602.1,364.5 L602.9,364.8 L603.6,365.5 L604.3,365.0 L605.0,365.9 L605.7,366.0 L606.5,365.6 L607.2,366.2 L607.9,366.8 L608.6,366.8 L609.3,366.3 L610.1,366.5 L610.8,365.6 L611.5,366.0 L612.2,366.9 L612.9,366.4 L613.6,366.0 L614.4,366.7 L615.1,367.1 L615.8,367.1 L616.5,366.7 L617.2,367.0 L618.0,367.2 L618.7,367.7 L619.4,367.4 L620.1,367.4 L620.8,367.6 L621.6,367.0 L622.3,367.2 L623.0,368.4 L623.7,368.9 L624.4,368.4 L625.2,368.2 L625.9,368.0 L626.6,368.6 L627.3,369.5 L628.0,369.3 L628.7,369.0 L629.5,369.6 L630.2,368.6 L630.9,369.2 L631.6,369.9 L632.3,369.4 L633.1,369.2 L633.8,368.9 L634.5,369.4" stroke="#1c7a3a" stroke-width="2.5" fill="none" stroke-linejoin="round"/>
<path d="M645.5,369.2 L646.2,369.1 L646.9,368.5 L647.6,367.8 L648.4,369.2 L649.1,368.6 L649.8,368.6 L650.5,367.9 L651.2,368.2 L651.9,368.2 L652.6,369.0 L653.3,367.6 L654.1,368.2 L654.8,368.8 L655.5,368.2 L656.2,369.3 L656.9,368.6 L657.6,367.8 L658.3,368.5 L659.1,367.2 L659.8,364.4 L660.5,361.0 L661.2,359.0 L661.9,356.0 L662.6,356.0 L663.3,356.7 L664.1,356.4 L664.8,357.5 L665.5,357.3 L666.2,356.8 L666.9,357.9 L667.6,357.7 L668.3,358.4 L669.0,359.8 L669.8,360.0 L670.5,358.7 L671.2,360.2 L671.9,360.9 L672.6,361.4 L673.3,361.8 L674.0,361.6 L674.8,362.6 L675.5,362.8 L676.2,363.6 L676.9,364.1 L677.6,363.5 L678.3,364.6 L679.0,364.6 L679.7,365.2 L680.5,364.8 L681.2,364.9 L681.9,365.4 L682.6,364.5 L683.3,365.8 L684.0,364.7 L684.7,365.7 L685.5,366.2 L686.2,364.5 L686.9,364.9 L687.6,366.3 L688.3,365.2 L689.0,365.3 L689.7,364.8 L690.4,364.9 L691.2,365.9 L691.9,364.9 L692.6,366.3 L693.3,365.6 L694.0,367.1 L694.7,365.6 L695.4,366.7 L696.2,367.0 L696.9,366.9 L697.6,367.0 L698.3,367.3 L699.0,366.9 L699.7,367.1 L700.4,366.7 L701.2,367.8 L701.9,368.5 L702.6,367.4 L703.3,366.8 L704.0,368.0 L704.7,368.4 L705.4,368.7 L706.1,367.1 L706.9,367.7 L707.6,366.6 L708.3,368.5 L709.0,367.6 L709.0,370.0 L708.3,371.6 L707.6,369.6 L706.9,371.1 L706.1,370.8 L705.4,370.9 L704.7,371.1 L704.0,371.3 L703.3,369.5 L702.6,370.3 L701.9,371.4 L701.2,370.6 L700.4,369.7 L699.7,369.5 L699.0,370.0 L698.3,370.1 L697.6,370.1 L696.9,369.1 L696.2,370.4 L695.4,370.5 L694.7,368.6 L694.0,369.7 L693.3,368.7 L692.6,369.7 L691.9,368.6 L691.2,369.6 L690.4,368.1 L689.7,368.2 L689.0,368.4 L688.3,368.7 L687.6,369.1 L686.9,368.1 L686.2,368.3 L685.5,368.5 L684.7,368.4 L684.0,368.2 L683.3,368.3 L682.6,367.4 L681.9,368.5 L681.2,367.3 L680.5,367.9 L679.7,367.9 L679.0,368.4 L678.3,367.9 L677.6,366.5 L676.9,367.1 L676.2,366.7 L675.5,365.2 L674.8,365.3 L674.0,364.7 L673.3,365.0 L672.6,363.9 L671.9,364.1 L671.2,363.6 L670.5,361.9 L669.8,363.0 L669.0,363.3 L668.3,362.0 L667.6,360.8 L666.9,360.8 L666.2,360.4 L665.5,360.0 L664.8,359.8 L664.1,359.0 L663.3,359.5 L662.6,358.2 L661.9,359.4 L661.2,361.7 L660.5,363.7 L659.8,367.2 L659.1,370.0 L658.3,371.4 L657.6,371.3 L656.9,371.9 L656.2,372.4 L655.5,371.5 L654.8,370.8 L654.1,370.8 L653.3,371.1 L652.6,371.2 L651.9,371.4 L651.2,372.0 L650.5,371.8 L649.8,372.1 L649.1,371.9 L648.4,372.5 L647.6,371.5 L646.9,370.8 L646.2,372.5 L645.5,373.0Z" fill="#a83a98" fill-opacity="0.33" stroke="#a83a98" stroke-opacity="0.53" stroke-width="0.9"/>
<path d="M645.5,371.0 L646.2,371.0 L646.9,369.6 L647.6,369.6 L648.4,370.8 L649.1,370.6 L649.8,370.4 L650.5,369.8 L651.2,370.3 L651.9,370.2 L652.6,370.1 L653.3,369.4 L654.1,369.8 L654.8,369.7 L655.5,370.2 L656.2,370.6 L656.9,370.5 L657.6,369.9 L658.3,369.7 L659.1,368.2 L659.8,365.5 L660.5,362.5 L661.2,360.4 L661.9,357.9 L662.6,357.1 L663.3,358.1 L664.1,357.9 L664.8,358.5 L665.5,358.6 L666.2,358.9 L666.9,359.8 L667.6,359.7 L668.3,360.4 L669.0,361.3 L669.8,361.0 L670.5,360.5 L671.2,362.0 L671.9,362.3 L672.6,362.7 L673.3,363.4 L674.0,363.7 L674.8,364.2 L675.5,364.0 L676.2,365.5 L676.9,365.9 L677.6,365.0 L678.3,366.3 L679.0,366.4 L679.7,366.2 L680.5,366.3 L681.2,366.3 L681.9,367.0 L682.6,366.4 L683.3,366.9 L684.0,366.2 L684.7,367.1 L685.5,367.2 L686.2,366.6 L686.9,366.8 L687.6,367.4 L688.3,367.2 L689.0,366.9 L689.7,366.6 L690.4,366.9 L691.2,367.6 L691.9,366.8 L692.6,368.1 L693.3,367.2 L694.0,368.3 L694.7,367.5 L695.4,368.6 L696.2,368.4 L696.9,368.1 L697.6,368.3 L698.3,368.6 L699.0,368.6 L699.7,368.3 L700.4,368.2 L701.2,368.8 L701.9,369.5 L702.6,369.1 L703.3,368.3 L704.0,369.6 L704.7,369.5 L705.4,369.8 L706.1,368.7 L706.9,369.6 L707.6,368.6 L708.3,369.5 L709.0,368.9" stroke="#a83a98" stroke-width="2.5" fill="none" stroke-linejoin="round"/>
<text x="0.0" y="607.4" font-size="31.5" font-weight="bold" stroke="#000" stroke-width="1.6">b</text>
<text x="-9.9" y="8.0" font-size="62" font-weight="200" style="font-family:'DejaVu Sans',sans-serif" transform="translate(83.8 610.0) translate(8.0 -8.0) rotate(-15) scale(0.95) translate(-8.0 8.0)">♂</text>
<text x="113.9" y="610.0" font-size="24.8"><tspan font-style="italic">D. yakuba</tspan> – Dsx<tspan style="font-family:'Noto Sans CJK JP',sans-serif" font-size="0.9em" dx="-2.5" letter-spacing="-3.6">∩</tspan>P1&gt;GCaMP</text>
<g filter="url(#bl2)">
<ellipse cx="261.3" cy="794.7" rx="143.3" ry="87.6" fill="#efefef"/>
<ellipse cx="79.6" cy="818.5" rx="66.9" ry="84.4" fill="#e4e4e4" transform="rotate(-12 79.6 818.5)"/>
<ellipse cx="443.1" cy="818.5" rx="66.9" ry="84.4" fill="#e4e4e4" transform="rotate(12 443.1 818.5)"/>
<ellipse cx="39.8" cy="753.5" rx="13.3" ry="5.8" fill="#dcdcdc" transform="rotate(-42 39.8 753.5)"/>
<ellipse cx="482.9" cy="753.5" rx="13.3" ry="5.8" fill="#dcdcdc" transform="rotate(42 482.9 753.5)"/>
</g>
<g filter="url(#bl1)">
<path d="M261.3,701.8 C256.5,701.8 253.2,694.1 246.7,691.7 C240.3,689.3 231.7,688.1 222.9,687.2 C214.0,686.3 203.9,685.4 193.7,686.4 C183.5,687.4 172.0,689.2 161.8,693.3 C151.7,697.4 139.5,705.0 132.7,711.1 C125.8,717.1 122.0,723.7 120.7,729.7 C119.4,735.6 121.8,742.2 124.7,746.9 C127.6,751.6 137.1,754.3 138.0,758.0 C138.9,761.8 131.4,764.7 130.0,769.5 C128.6,774.2 127.9,780.7 129.5,786.7 C131.0,792.7 134.3,800.0 139.3,805.3 C144.2,810.6 153.7,813.7 159.2,818.5 C164.7,823.4 167.8,830.0 172.5,834.5 C177.1,838.9 182.9,840.9 187.1,845.1 C191.3,849.3 193.5,854.8 197.7,859.7 C201.9,864.5 206.3,870.5 212.3,874.3 C218.2,878.0 225.3,881.1 233.5,882.2 C241.7,883.3 252.1,880.9 261.3,880.9 C270.6,880.9 281.0,883.3 289.2,882.2 C297.4,881.1 304.5,878.0 310.4,874.3 C316.4,870.5 320.8,864.5 325.0,859.7 C329.2,854.8 331.4,849.3 335.6,845.1 C339.8,840.9 345.6,838.9 350.2,834.5 C354.9,830.0 358.0,823.4 363.5,818.5 C369.0,813.7 378.4,810.6 383.4,805.3 C388.3,800.0 391.7,792.7 393.2,786.7 C394.8,780.7 394.1,774.2 392.7,769.5 C391.3,764.7 383.8,761.8 384.7,758.0 C385.6,754.3 395.1,751.6 398.0,746.9 C400.9,742.2 403.3,735.6 402.0,729.7 C400.6,723.7 396.9,717.1 390.0,711.1 C383.2,705.0 371.0,697.4 360.8,693.3 C350.7,689.2 339.2,687.4 329.0,686.4 C318.8,685.4 308.7,686.3 299.8,687.2 C291.0,688.1 282.3,689.3 275.9,691.7 C269.5,694.1 266.2,701.8 261.3,701.8Z" fill="#787878"/>
<path d="M115.4,756.5 C116.7,753.6 125.0,758.0 127.9,761.8 C130.8,765.5 131.3,773.3 132.7,778.7 C134.0,784.2 133.9,789.4 135.8,794.7 C137.8,800.0 141.2,805.3 144.6,810.6 C148.0,815.9 152.7,820.8 156.5,826.5 C160.4,832.2 166.3,840.0 167.7,845.1 C169.1,850.2 167.8,853.9 165.0,857.0 C162.3,860.1 155.7,863.3 151.2,863.6 C146.8,864.0 141.4,863.7 138.5,858.9 C135.6,854.0 135.8,843.4 134.0,834.5 C132.1,825.5 129.7,814.6 127.4,805.3 C125.0,796.0 121.9,786.9 119.9,778.7 C117.9,770.6 114.1,759.3 115.4,756.5Z" fill="#7b7b7b"/>
<path d="M407.3,756.5 C405.9,753.6 397.7,758.0 394.8,761.8 C391.9,765.5 391.4,773.3 390.0,778.7 C388.7,784.2 388.8,789.4 386.8,794.7 C384.9,800.0 381.5,805.3 378.1,810.6 C374.6,815.9 370.0,820.8 366.1,826.5 C362.3,832.2 356.4,840.0 355.0,845.1 C353.6,850.2 354.9,853.9 357.7,857.0 C360.4,860.1 367.0,863.3 371.5,863.6 C375.9,864.0 381.3,863.7 384.2,858.9 C387.1,854.0 386.8,843.4 388.7,834.5 C390.6,825.5 393.0,814.6 395.3,805.3 C397.7,796.0 400.8,786.9 402.8,778.7 C404.7,770.6 408.6,759.3 407.3,756.5Z" fill="#7b7b7b"/>
<path d="M86.2,743.2 C78.4,742.6 69.4,745.4 62.4,747.4 C55.3,749.5 49.2,751.3 43.8,755.7 C38.3,760.0 32.9,766.9 29.7,773.4 C26.5,779.9 25.3,786.7 24.7,794.7 C24.1,802.6 24.6,812.8 26.0,821.2 C27.4,829.6 30.2,838.2 33.2,845.1 C36.1,851.9 38.9,856.1 43.8,862.3 C48.6,868.5 55.3,876.5 62.4,882.2 C69.4,888.0 77.8,894.2 86.2,896.8 C94.6,899.5 105.5,899.7 112.8,898.1 C120.1,896.6 125.5,891.0 130.0,887.5 C134.6,884.1 137.5,882.4 140.1,877.4 C142.7,872.5 145.5,865.0 145.4,857.8 C145.3,850.6 141.5,841.7 139.3,834.5 C137.1,827.3 134.6,821.6 132.1,814.6 C129.7,807.5 126.9,798.6 124.7,792.0 C122.5,785.4 121.4,781.6 118.9,774.8 C116.3,767.9 114.8,756.1 109.3,750.9 C103.9,745.6 94.1,743.8 86.2,743.2Z" fill="url(#eyeg)" stroke="#6c6c6c" stroke-width="1.2"/>
<path d="M436.5,743.2 C444.3,742.6 453.3,745.4 460.3,747.4 C467.4,749.5 473.5,751.3 478.9,755.7 C484.3,760.0 489.8,766.9 493.0,773.4 C496.2,779.9 497.4,786.7 498.0,794.7 C498.6,802.6 498.1,812.8 496.7,821.2 C495.3,829.6 492.5,838.2 489.5,845.1 C486.6,851.9 483.8,856.1 478.9,862.3 C474.0,868.5 467.4,876.5 460.3,882.2 C453.3,888.0 444.9,894.2 436.5,896.8 C428.1,899.5 417.2,899.7 409.9,898.1 C402.6,896.6 397.2,891.0 392.7,887.5 C388.1,884.1 385.2,882.4 382.6,877.4 C380.0,872.5 377.2,865.0 377.3,857.8 C377.4,850.6 381.2,841.7 383.4,834.5 C385.6,827.3 388.1,821.6 390.6,814.6 C393.0,807.5 395.8,798.6 398.0,792.0 C400.2,785.4 401.3,781.6 403.8,774.8 C406.4,767.9 407.9,756.1 413.4,750.9 C418.8,745.6 428.6,743.8 436.5,743.2Z" fill="url(#eyeg)" stroke="#6c6c6c" stroke-width="1.2"/>
</g>
<g filter="url(#bl4)">
<ellipse cx="185.7" cy="715.1" rx="42.5" ry="22.6" fill="#6d6d6d" fill-opacity="0.8"/>
<ellipse cx="337.0" cy="715.1" rx="42.5" ry="22.6" fill="#6d6d6d" fill-opacity="0.8"/>
<ellipse cx="169.8" cy="735.0" rx="19.9" ry="11.1" fill="#8b8b8b" fill-opacity="0.8"/>
<ellipse cx="352.9" cy="735.0" rx="19.9" ry="11.1" fill="#8b8b8b" fill-opacity="0.8"/>
<ellipse cx="230.8" cy="697.8" rx="14.6" ry="10.1" fill="#858585" fill-opacity="0.7"/>
<ellipse cx="291.9" cy="697.8" rx="14.6" ry="10.1" fill="#858585" fill-opacity="0.7"/>
<ellipse cx="234.8" cy="724.4" rx="19.9" ry="17.2" fill="#696969" fill-opacity="0.8"/>
<ellipse cx="287.9" cy="724.4" rx="19.9" ry="17.2" fill="#696969" fill-opacity="0.8"/>
<ellipse cx="161.8" cy="789.4" rx="25.2" ry="31.8" fill="#808080" fill-opacity="0.8"/>
<ellipse cx="360.8" cy="789.4" rx="25.2" ry="31.8" fill="#808080" fill-opacity="0.8"/>
<ellipse cx="225.5" cy="786.7" rx="25.2" ry="29.2" fill="#6b6b6b" fill-opacity="0.8"/>
<ellipse cx="297.2" cy="786.7" rx="25.2" ry="29.2" fill="#6b6b6b" fill-opacity="0.8"/>
<ellipse cx="217.6" cy="800.0" rx="10.6" ry="10.6" fill="#808080" fill-opacity="0.6"/>
<ellipse cx="305.1" cy="800.0" rx="10.6" ry="10.6" fill="#808080" fill-opacity="0.6"/>
<ellipse cx="233.5" cy="773.4" rx="9.3" ry="8.0" fill="#7e7e7e" fill-opacity="0.6"/>
<ellipse cx="289.2" cy="773.4" rx="9.3" ry="8.0" fill="#7e7e7e" fill-opacity="0.6"/>
<ellipse cx="238.8" cy="845.1" rx="22.6" ry="31.8" fill="#858585" fill-opacity="0.75"/>
<ellipse cx="283.9" cy="845.1" rx="22.6" ry="31.8" fill="#858585" fill-opacity="0.75"/>
<ellipse cx="203.0" cy="829.2" rx="14.6" ry="17.2" fill="#696969" fill-opacity="0.8"/>
<ellipse cx="319.7" cy="829.2" rx="14.6" ry="17.2" fill="#696969" fill-opacity="0.8"/>
<ellipse cx="238.8" cy="749.6" rx="15.9" ry="11.9" fill="#808080" fill-opacity="0.6"/>
<ellipse cx="283.9" cy="749.6" rx="15.9" ry="11.9" fill="#808080" fill-opacity="0.6"/>
<ellipse cx="261.3" cy="741.6" rx="2.4" ry="39.8" fill="#5e5e5e" fill-opacity="0.7"/>
<ellipse cx="261.3" cy="855.7" rx="1.6" ry="26.5" fill="#5e5e5e" fill-opacity="0.7"/>
</g>
<g filter="url(#bl1)">
<ellipse cx="261.3" cy="805.3" rx="5.6" ry="17.5" fill="#fff"/>
</g>
<g filter="url(#bl05)" fill="none" stroke-linecap="round" stroke-linejoin="round">
<path d="M189.7,725.1 C192.1,722.9 198.8,715.3 204.3,711.9 C209.8,708.5 216.7,706.3 222.9,704.7 C229.1,703.2 235.0,702.5 241.4,702.6 C247.9,702.7 254.7,705.3 261.3,705.2 C268.0,705.2 274.8,702.5 281.2,702.1 C287.7,701.6 293.6,701.2 299.8,702.6 C306.0,704.0 312.9,706.8 318.4,710.6 C323.9,714.3 330.5,722.7 333.0,725.1" stroke="#5cf25c" stroke-width="2.4"/>
<path d="M189.7,725.1 C192.1,722.9 198.8,715.3 204.3,711.9 C209.8,708.5 219.8,705.9 222.9,704.7" stroke="#5cf25c" stroke-width="6.4"/>
<path d="M204.3,711.9 C207.4,710.7 216.7,706.2 222.9,704.7 C229.1,703.3 238.3,703.4 241.4,703.1" stroke="#5cf25c" stroke-width="4.0"/>
<path d="M181.5,713.7 C184.4,712.6 191.8,715.0 195.8,716.7 C199.8,718.3 204.3,720.5 205.4,723.6 C206.4,726.7 204.7,732.8 202.2,735.2 C199.6,737.6 193.4,738.1 190.0,737.9 C186.5,737.6 183.4,736.0 181.5,733.6 C179.5,731.2 178.3,726.9 178.3,723.6 C178.3,720.2 178.6,714.9 181.5,713.7Z" fill="#5cf25c" stroke="#5cf25c" stroke-width="1.6" fill-opacity="0.92"/>
<path d="M187.1,737.6 C185.6,740.5 180.5,750.7 178.3,754.9 C176.1,759.1 173.0,759.7 173.8,762.8 C174.6,765.9 180.7,770.8 183.1,773.4 C185.4,776.1 187.1,777.9 187.8,778.7" stroke="#5cf25c" stroke-width="5.3" stroke-opacity="0.92"/>
<path d="M172.5,760.2 C170.7,760.6 164.7,762.8 161.8,762.8 C159.0,762.8 156.3,760.6 155.2,760.2" stroke="#5cf25c" stroke-width="2.1" stroke-opacity="0.92"/>
<path d="M169.8,762.8 C169.1,765.0 165.8,771.7 165.8,776.1 C165.8,780.5 168.7,785.8 169.8,789.4 C170.9,792.9 172.0,796.0 172.5,797.3" stroke="#5cf25c" stroke-width="1.9" stroke-opacity="0.92"/>
<path d="M201.6,741.6 C203.0,742.9 208.3,748.2 209.6,749.6" stroke="#5cf25c" stroke-width="2.1" stroke-opacity="0.92"/>
<path d="M159.2,749.6 C157.9,748.2 152.6,742.9 151.2,741.6" stroke="#5cf25c" stroke-width="1.3" stroke-opacity="0.92"/>
<path d="M183.1,773.4 C182.6,775.2 180.9,782.3 180.4,784.0" stroke="#5cf25c" stroke-width="1.9" stroke-opacity="0.92"/>
<ellipse cx="232.2" cy="757.5" rx="3.7" ry="3.2" fill="#5cf25c" stroke="none"/>
<ellipse cx="238.8" cy="760.7" rx="3.4" ry="2.9" fill="#5cf25c" stroke="none"/>
<ellipse cx="234.8" cy="764.9" rx="5.8" ry="2.4" fill="#5cf25c" stroke="none"/>
<ellipse cx="229.0" cy="762.8" rx="2.7" ry="2.4" fill="#5cf25c" stroke="none"/>
<ellipse cx="242.8" cy="765.5" rx="2.4" ry="1.9" fill="#5cf25c" stroke="none"/>
<ellipse cx="224.2" cy="759.6" rx="1.6" ry="1.3" fill="#5cf25c" stroke="none"/>
<path d="M142.0,771.8a1.0,1.0 0 1,0 1.9,0a1.0,1.0 0 1,0 -1.9,0M170.8,770.0a0.8,0.8 0 1,0 1.5,0a0.8,0.8 0 1,0 -1.5,0M163.7,796.8a1.0,1.0 0 1,0 2.0,0a1.0,1.0 0 1,0 -2.0,0M149.8,756.0a1.0,1.0 0 1,0 1.9,0a1.0,1.0 0 1,0 -1.9,0M181.4,781.7a0.6,0.6 0 1,0 1.2,0a0.6,0.6 0 1,0 -1.2,0M174.1,765.0a1.1,1.1 0 1,0 2.1,0a1.1,1.1 0 1,0 -2.1,0M194.3,779.1a0.7,0.7 0 1,0 1.5,0a0.7,0.7 0 1,0 -1.5,0M139.8,785.4a0.5,0.5 0 1,0 1.0,0a0.5,0.5 0 1,0 -1.0,0M207.2,781.3a0.9,0.9 0 1,0 1.7,0a0.9,0.9 0 1,0 -1.7,0M214.7,793.5a1.2,1.2 0 1,0 2.3,0a1.2,1.2 0 1,0 -2.3,0M184.0,779.0a0.6,0.6 0 1,0 1.2,0a0.6,0.6 0 1,0 -1.2,0M159.3,788.6a0.6,0.6 0 1,0 1.2,0a0.6,0.6 0 1,0 -1.2,0M167.2,763.2a0.6,0.6 0 1,0 1.2,0a0.6,0.6 0 1,0 -1.2,0M176.6,753.4a0.8,0.8 0 1,0 1.6,0a0.8,0.8 0 1,0 -1.6,0M151.6,757.9a0.8,0.8 0 1,0 1.5,0a0.8,0.8 0 1,0 -1.5,0M198.0,773.0a1.2,1.2 0 1,0 2.4,0a1.2,1.2 0 1,0 -2.4,0M196.2,764.6a0.7,0.7 0 1,0 1.5,0a0.7,0.7 0 1,0 -1.5,0M150.3,786.6a1.0,1.0 0 1,0 1.9,0a1.0,1.0 0 1,0 -1.9,0M179.3,775.8a0.8,0.8 0 1,0 1.5,0a0.8,0.8 0 1,0 -1.5,0M135.2,766.1a0.9,0.9 0 1,0 1.7,0a0.9,0.9 0 1,0 -1.7,0M203.0,773.3a0.8,0.8 0 1,0 1.6,0a0.8,0.8 0 1,0 -1.6,0M155.9,766.8a0.8,0.8 0 1,0 1.6,0a0.8,0.8 0 1,0 -1.6,0M144.9,785.8a0.6,0.6 0 1,0 1.1,0a0.6,0.6 0 1,0 -1.1,0M157.8,765.1a1.0,1.0 0 1,0 2.0,0a1.0,1.0 0 1,0 -2.0,0M183.6,771.1a0.7,0.7 0 1,0 1.5,0a0.7,0.7 0 1,0 -1.5,0M165.0,764.2a0.8,0.8 0 1,0 1.6,0a0.8,0.8 0 1,0 -1.6,0M172.8,780.7a0.8,0.8 0 1,0 1.7,0a0.8,0.8 0 1,0 -1.7,0M189.2,763.5a1.2,1.2 0 1,0 2.3,0a1.2,1.2 0 1,0 -2.3,0M189.9,799.5a0.8,0.8 0 1,0 1.5,0a0.8,0.8 0 1,0 -1.5,0M180.2,792.7a1.1,1.1 0 1,0 2.3,0a1.1,1.1 0 1,0 -2.3,0M183.4,768.7a1.0,1.0 0 1,0 2.1,0a1.0,1.0 0 1,0 -2.1,0M161.8,778.1a0.5,0.5 0 1,0 1.0,0a0.5,0.5 0 1,0 -1.0,0M193.6,773.6a1.2,1.2 0 1,0 2.4,0a1.2,1.2 0 1,0 -2.4,0M191.3,768.0a0.5,0.5 0 1,0 1.0,0a0.5,0.5 0 1,0 -1.0,0M154.4,793.3a1.1,1.1 0 1,0 2.2,0a1.1,1.1 0 1,0 -2.2,0M160.4,759.3a0.9,0.9 0 1,0 1.7,0a0.9,0.9 0 1,0 -1.7,0M143.3,771.3a0.7,0.7 0 1,0 1.4,0a0.7,0.7 0 1,0 -1.4,0M206.4,757.0a0.6,0.6 0 1,0 1.2,0a0.6,0.6 0 1,0 -1.2,0M159.4,799.4a0.7,0.7 0 1,0 1.4,0a0.7,0.7 0 1,0 -1.4,0M189.8,761.5a1.0,1.0 0 1,0 2.0,0a1.0,1.0 0 1,0 -2.0,0M165.5,757.5a0.7,0.7 0 1,0 1.4,0a0.7,0.7 0 1,0 -1.4,0M167.9,792.3a1.0,1.0 0 1,0 2.0,0a1.0,1.0 0 1,0 -2.0,0M195.2,792.6a0.8,0.8 0 1,0 1.6,0a0.8,0.8 0 1,0 -1.6,0M169.7,785.1a1.2,1.2 0 1,0 2.4,0a1.2,1.2 0 1,0 -2.4,0M144.5,759.9a1.1,1.1 0 1,0 2.3,0a1.1,1.1 0 1,0 -2.3,0M199.5,761.8a0.8,0.8 0 1,0 1.6,0a0.8,0.8 0 1,0 -1.6,0M134.8,750.1a1.1,1.1 0 1,0 2.1,0a1.1,1.1 0 1,0 -2.1,0M154.0,761.0a0.8,0.8 0 1,0 1.5,0a0.8,0.8 0 1,0 -1.5,0M167.2,747.7a0.5,0.5 0 1,0 1.0,0a0.5,0.5 0 1,0 -1.0,0M158.8,734.8a1.1,1.1 0 1,0 2.1,0a1.1,1.1 0 1,0 -2.1,0M201.6,747.1a0.9,0.9 0 1,0 1.7,0a0.9,0.9 0 1,0 -1.7,0M173.7,753.0a0.6,0.6 0 1,0 1.1,0a0.6,0.6 0 1,0 -1.1,0M159.0,779.1a1.2,1.2 0 1,0 2.3,0a1.2,1.2 0 1,0 -2.3,0M160.2,749.7a0.9,0.9 0 1,0 1.9,0a0.9,0.9 0 1,0 -1.9,0M185.1,782.0a1.0,1.0 0 1,0 2.0,0a1.0,1.0 0 1,0 -2.0,0M158.0,775.5a0.8,0.8 0 1,0 1.6,0a0.8,0.8 0 1,0 -1.6,0M156.6,789.8a0.6,0.6 0 1,0 1.2,0a0.6,0.6 0 1,0 -1.2,0M182.4,775.6a1.0,1.0 0 1,0 2.0,0a1.0,1.0 0 1,0 -2.0,0M170.3,744.8a1.2,1.2 0 1,0 2.3,0a1.2,1.2 0 1,0 -2.3,0M165.9,771.1a0.8,0.8 0 1,0 1.7,0a0.8,0.8 0 1,0 -1.7,0M157.9,771.6a1.0,1.0 0 1,0 1.9,0a1.0,1.0 0 1,0 -1.9,0M161.6,778.0a0.7,0.7 0 1,0 1.5,0a0.7,0.7 0 1,0 -1.5,0M171.2,767.4a0.8,0.8 0 1,0 1.5,0a0.8,0.8 0 1,0 -1.5,0M166.7,778.6a0.8,0.8 0 1,0 1.6,0a0.8,0.8 0 1,0 -1.6,0M176.7,803.2a0.9,0.9 0 1,0 1.7,0a0.9,0.9 0 1,0 -1.7,0M165.4,759.2a0.8,0.8 0 1,0 1.7,0a0.8,0.8 0 1,0 -1.7,0M141.1,749.1a0.7,0.7 0 1,0 1.3,0a0.7,0.7 0 1,0 -1.3,0M133.4,776.0a1.1,1.1 0 1,0 2.2,0a1.1,1.1 0 1,0 -2.2,0M172.0,787.7a1.0,1.0 0 1,0 2.1,0a1.0,1.0 0 1,0 -2.1,0M146.9,782.7a1.0,1.0 0 1,0 1.9,0a1.0,1.0 0 1,0 -1.9,0M192.1,764.6a1.0,1.0 0 1,0 2.0,0a1.0,1.0 0 1,0 -2.0,0M151.3,789.0a0.7,0.7 0 1,0 1.5,0a0.7,0.7 0 1,0 -1.5,0M151.5,768.1a0.7,0.7 0 1,0 1.4,0a0.7,0.7 0 1,0 -1.4,0M177.7,776.7a0.9,0.9 0 1,0 1.8,0a0.9,0.9 0 1,0 -1.8,0M168.7,773.0a1.1,1.1 0 1,0 2.1,0a1.1,1.1 0 1,0 -2.1,0M159.2,804.5a0.9,0.9 0 1,0 1.8,0a0.9,0.9 0 1,0 -1.8,0M139.7,788.9a1.1,1.1 0 1,0 2.3,0a1.1,1.1 0 1,0 -2.3,0M164.7,775.6a0.9,0.9 0 1,0 1.9,0a0.9,0.9 0 1,0 -1.9,0M182.7,749.9a1.0,1.0 0 1,0 2.1,0a1.0,1.0 0 1,0 -2.1,0M147.2,779.7a0.7,0.7 0 1,0 1.4,0a0.7,0.7 0 1,0 -1.4,0M153.9,776.7a0.8,0.8 0 1,0 1.5,0a0.8,0.8 0 1,0 -1.5,0M142.0,785.2a0.6,0.6 0 1,0 1.2,0a0.6,0.6 0 1,0 -1.2,0M172.6,779.9a1.2,1.2 0 1,0 2.4,0a1.2,1.2 0 1,0 -2.4,0M162.7,767.4a1.1,1.1 0 1,0 2.2,0a1.1,1.1 0 1,0 -2.2,0M193.2,747.1a0.8,0.8 0 1,0 1.5,0a0.8,0.8 0 1,0 -1.5,0M167.7,754.6a0.6,0.6 0 1,0 1.2,0a0.6,0.6 0 1,0 -1.2,0M192.4,745.6a0.6,0.6 0 1,0 1.3,0a0.6,0.6 0 1,0 -1.3,0M172.1,765.7a0.7,0.7 0 1,0 1.4,0a0.7,0.7 0 1,0 -1.4,0M180.5,768.9a0.6,0.6 0 1,0 1.2,0a0.6,0.6 0 1,0 -1.2,0M165.9,755.1a0.6,0.6 0 1,0 1.3,0a0.6,0.6 0 1,0 -1.3,0M175.2,780.7a1.1,1.1 0 1,0 2.2,0a1.1,1.1 0 1,0 -2.2,0M162.1,763.5a1.0,1.0 0 1,0 2.0,0a1.0,1.0 0 1,0 -2.0,0M149.2,764.2a0.9,0.9 0 1,0 1.7,0a0.9,0.9 0 1,0 -1.7,0M149.6,744.8a0.9,0.9 0 1,0 1.7,0a0.9,0.9 0 1,0 -1.7,0M155.1,754.7a0.9,0.9 0 1,0 1.9,0a0.9,0.9 0 1,0 -1.9,0M154.2,778.8a0.9,0.9 0 1,0 1.7,0a0.9,0.9 0 1,0 -1.7,0M165.4,755.6a1.1,1.1 0 1,0 2.3,0a1.1,1.1 0 1,0 -2.3,0M132.3,769.8a1.0,1.0 0 1,0 2.0,0a1.0,1.0 0 1,0 -2.0,0M196.1,761.6a0.8,0.8 0 1,0 1.6,0a0.8,0.8 0 1,0 -1.6,0M147.7,780.3a1.0,1.0 0 1,0 2.1,0a1.0,1.0 0 1,0 -2.1,0M174.5,761.0a0.5,0.5 0 1,0 1.1,0a0.5,0.5 0 1,0 -1.1,0M175.3,772.3a0.5,0.5 0 1,0 1.1,0a0.5,0.5 0 1,0 -1.1,0M183.3,768.8a0.6,0.6 0 1,0 1.2,0a0.6,0.6 0 1,0 -1.2,0M158.5,747.9a1.2,1.2 0 1,0 2.4,0a1.2,1.2 0 1,0 -2.4,0M198.5,761.7a1.2,1.2 0 1,0 2.3,0a1.2,1.2 0 1,0 -2.3,0M181.8,770.1a1.1,1.1 0 1,0 2.3,0a1.1,1.1 0 1,0 -2.3,0M156.3,769.8a1.0,1.0 0 1,0 2.1,0a1.0,1.0 0 1,0 -2.1,0M148.5,777.3a0.7,0.7 0 1,0 1.4,0a0.7,0.7 0 1,0 -1.4,0M169.3,774.9a0.9,0.9 0 1,0 1.8,0a0.9,0.9 0 1,0 -1.8,0M221.0,754.4a1.0,1.0 0 1,0 2.1,0a1.0,1.0 0 1,0 -2.1,0M185.2,762.0a0.7,0.7 0 1,0 1.4,0a0.7,0.7 0 1,0 -1.4,0M191.1,758.2a1.0,1.0 0 1,0 1.9,0a1.0,1.0 0 1,0 -1.9,0M182.3,769.0a0.8,0.8 0 1,0 1.7,0a0.8,0.8 0 1,0 -1.7,0M164.6,738.6a1.0,1.0 0 1,0 2.1,0a1.0,1.0 0 1,0 -2.1,0M159.0,781.3a1.1,1.1 0 1,0 2.2,0a1.1,1.1 0 1,0 -2.2,0M190.5,766.9a0.6,0.6 0 1,0 1.3,0a0.6,0.6 0 1,0 -1.3,0M152.7,754.2a0.8,0.8 0 1,0 1.5,0a0.8,0.8 0 1,0 -1.5,0M171.1,783.7a0.9,0.9 0 1,0 1.9,0a0.9,0.9 0 1,0 -1.9,0M184.8,782.3a1.2,1.2 0 1,0 2.3,0a1.2,1.2 0 1,0 -2.3,0M168.6,756.0a0.8,0.8 0 1,0 1.6,0a0.8,0.8 0 1,0 -1.6,0M193.2,783.7a0.9,0.9 0 1,0 1.9,0a0.9,0.9 0 1,0 -1.9,0M179.8,785.9a0.9,0.9 0 1,0 1.8,0a0.9,0.9 0 1,0 -1.8,0M153.1,760.9a0.7,0.7 0 1,0 1.4,0a0.7,0.7 0 1,0 -1.4,0M129.6,811.8a0.7,0.7 0 1,0 1.5,0a0.7,0.7 0 1,0 -1.5,0M148.6,767.9a0.6,0.6 0 1,0 1.2,0a0.6,0.6 0 1,0 -1.2,0M158.9,774.5a0.7,0.7 0 1,0 1.5,0a0.7,0.7 0 1,0 -1.5,0M157.1,779.1a1.2,1.2 0 1,0 2.3,0a1.2,1.2 0 1,0 -2.3,0M164.0,781.8a1.0,1.0 0 1,0 1.9,0a1.0,1.0 0 1,0 -1.9,0M151.0,779.7a1.0,1.0 0 1,0 1.9,0a1.0,1.0 0 1,0 -1.9,0M194.0,778.7a0.6,0.6 0 1,0 1.1,0a0.6,0.6 0 1,0 -1.1,0M168.6,797.1a1.2,1.2 0 1,0 2.4,0a1.2,1.2 0 1,0 -2.4,0M163.7,759.5a0.8,0.8 0 1,0 1.6,0a0.8,0.8 0 1,0 -1.6,0M161.9,798.0a0.7,0.7 0 1,0 1.3,0a0.7,0.7 0 1,0 -1.3,0M177.6,789.5a0.9,0.9 0 1,0 1.9,0a0.9,0.9 0 1,0 -1.9,0M150.7,758.4a1.2,1.2 0 1,0 2.3,0a1.2,1.2 0 1,0 -2.3,0M126.8,777.8a0.8,0.8 0 1,0 1.5,0a0.8,0.8 0 1,0 -1.5,0M151.7,771.4a1.0,1.0 0 1,0 2.0,0a1.0,1.0 0 1,0 -2.0,0M169.1,756.4a0.9,0.9 0 1,0 1.7,0a0.9,0.9 0 1,0 -1.7,0M165.6,749.5a1.0,1.0 0 1,0 1.9,0a1.0,1.0 0 1,0 -1.9,0M147.1,751.3a0.7,0.7 0 1,0 1.5,0a0.7,0.7 0 1,0 -1.5,0M167.2,771.5a1.1,1.1 0 1,0 2.2,0a1.1,1.1 0 1,0 -2.2,0M173.2,752.8a1.2,1.2 0 1,0 2.4,0a1.2,1.2 0 1,0 -2.4,0M177.4,762.9a1.1,1.1 0 1,0 2.2,0a1.1,1.1 0 1,0 -2.2,0M154.9,774.7a0.7,0.7 0 1,0 1.4,0a0.7,0.7 0 1,0 -1.4,0M164.1,770.8a0.5,0.5 0 1,0 1.1,0a0.5,0.5 0 1,0 -1.1,0M181.0,777.3a0.6,0.6 0 1,0 1.2,0a0.6,0.6 0 1,0 -1.2,0M194.3,789.0a0.8,0.8 0 1,0 1.5,0a0.8,0.8 0 1,0 -1.5,0M143.5,769.4a1.2,1.2 0 1,0 2.3,0a1.2,1.2 0 1,0 -2.3,0M176.8,777.2a1.1,1.1 0 1,0 2.2,0a1.1,1.1 0 1,0 -2.2,0M205.2,748.3a0.9,0.9 0 1,0 1.7,0a0.9,0.9 0 1,0 -1.7,0M160.6,775.8a1.1,1.1 0 1,0 2.3,0a1.1,1.1 0 1,0 -2.3,0M171.0,748.1a1.1,1.1 0 1,0 2.1,0a1.1,1.1 0 1,0 -2.1,0M167.1,787.7a1.1,1.1 0 1,0 2.3,0a1.1,1.1 0 1,0 -2.3,0M189.2,782.0a0.6,0.6 0 1,0 1.3,0a0.6,0.6 0 1,0 -1.3,0M187.5,742.2a1.0,1.0 0 1,0 1.9,0a1.0,1.0 0 1,0 -1.9,0M165.4,769.4a0.8,0.8 0 1,0 1.7,0a0.8,0.8 0 1,0 -1.7,0M157.4,780.6a0.6,0.6 0 1,0 1.1,0a0.6,0.6 0 1,0 -1.1,0M188.7,758.8a0.9,0.9 0 1,0 1.8,0a0.9,0.9 0 1,0 -1.8,0M190.6,739.8a0.9,0.9 0 1,0 1.8,0a0.9,0.9 0 1,0 -1.8,0M134.4,759.7a0.8,0.8 0 1,0 1.5,0a0.8,0.8 0 1,0 -1.5,0M172.1,766.1a1.1,1.1 0 1,0 2.1,0a1.1,1.1 0 1,0 -2.1,0M143.1,764.3a1.2,1.2 0 1,0 2.4,0a1.2,1.2 0 1,0 -2.4,0M172.3,784.1a1.1,1.1 0 1,0 2.1,0a1.1,1.1 0 1,0 -2.1,0M168.3,748.7a1.0,1.0 0 1,0 2.1,0a1.0,1.0 0 1,0 -2.1,0M152.3,739.3a1.0,1.0 0 1,0 1.9,0a1.0,1.0 0 1,0 -1.9,0M159.3,778.0a0.6,0.6 0 1,0 1.1,0a0.6,0.6 0 1,0 -1.1,0M172.5,771.4a1.2,1.2 0 1,0 2.4,0a1.2,1.2 0 1,0 -2.4,0M185.2,784.9a0.6,0.6 0 1,0 1.2,0a0.6,0.6 0 1,0 -1.2,0M191.6,764.0a0.6,0.6 0 1,0 1.2,0a0.6,0.6 0 1,0 -1.2,0M185.7,740.1a1.2,1.2 0 1,0 2.4,0a1.2,1.2 0 1,0 -2.4,0" fill="#5cf25c" fill-opacity="0.8" stroke="none"/>
<path d="M333.0,725.1 C330.5,722.9 323.9,715.3 318.4,711.9 C312.9,708.5 302.9,705.9 299.8,704.7" stroke="#5cf25c" stroke-width="6.4"/>
<path d="M318.4,711.9 C315.3,710.7 306.0,706.2 299.8,704.7 C293.6,703.3 284.3,703.4 281.2,703.1" stroke="#5cf25c" stroke-width="4.0"/>
<path d="M341.2,713.7 C338.3,712.6 330.9,715.0 326.9,716.7 C322.9,718.3 318.4,720.5 317.3,723.6 C316.3,726.7 317.9,732.8 320.5,735.2 C323.1,737.6 329.3,738.1 332.7,737.9 C336.2,737.6 339.3,736.0 341.2,733.6 C343.2,731.2 344.4,726.9 344.4,723.6 C344.4,720.2 344.1,714.9 341.2,713.7Z" fill="#5cf25c" stroke="#5cf25c" stroke-width="1.6" fill-opacity="0.92"/>
<path d="M335.6,737.6 C337.1,740.5 342.2,750.7 344.4,754.9 C346.6,759.1 349.7,759.7 348.9,762.8 C348.1,765.9 342.0,770.8 339.6,773.4 C337.3,776.1 335.6,777.9 334.8,778.7" stroke="#5cf25c" stroke-width="5.3" stroke-opacity="0.92"/>
<path d="M350.2,760.2 C352.0,760.6 358.0,762.8 360.8,762.8 C363.7,762.8 366.4,760.6 367.5,760.2" stroke="#5cf25c" stroke-width="2.1" stroke-opacity="0.92"/>
<path d="M352.9,762.8 C353.5,765.0 356.9,771.7 356.9,776.1 C356.9,780.5 354.0,785.8 352.9,789.4 C351.8,792.9 350.7,796.0 350.2,797.3" stroke="#5cf25c" stroke-width="1.9" stroke-opacity="0.92"/>
<path d="M321.0,741.6 C319.7,742.9 314.4,748.2 313.1,749.6" stroke="#5cf25c" stroke-width="2.1" stroke-opacity="0.92"/>
<path d="M363.5,749.6 C364.8,748.2 370.1,742.9 371.5,741.6" stroke="#5cf25c" stroke-width="1.3" stroke-opacity="0.92"/>
<path d="M339.6,773.4 C340.1,775.2 341.8,782.3 342.3,784.0" stroke="#5cf25c" stroke-width="1.9" stroke-opacity="0.92"/>
<ellipse cx="290.5" cy="757.5" rx="3.7" ry="3.2" fill="#5cf25c" stroke="none"/>
<ellipse cx="283.9" cy="760.7" rx="3.4" ry="2.9" fill="#5cf25c" stroke="none"/>
<ellipse cx="287.9" cy="764.9" rx="5.8" ry="2.4" fill="#5cf25c" stroke="none"/>
<ellipse cx="293.7" cy="762.8" rx="2.7" ry="2.4" fill="#5cf25c" stroke="none"/>
<ellipse cx="279.9" cy="765.5" rx="2.4" ry="1.9" fill="#5cf25c" stroke="none"/>
<ellipse cx="298.5" cy="759.6" rx="1.6" ry="1.3" fill="#5cf25c" stroke="none"/>
<path d="M348.8,784.1a1.0,1.0 0 1,0 1.9,0a1.0,1.0 0 1,0 -1.9,0M356.8,788.4a1.0,1.0 0 1,0 2.0,0a1.0,1.0 0 1,0 -2.0,0M351.5,738.5a1.0,1.0 0 1,0 2.1,0a1.0,1.0 0 1,0 -2.1,0M359.0,794.2a0.8,0.8 0 1,0 1.6,0a0.8,0.8 0 1,0 -1.6,0M350.1,771.0a0.9,0.9 0 1,0 1.9,0a0.9,0.9 0 1,0 -1.9,0M357.2,773.6a0.8,0.8 0 1,0 1.7,0a0.8,0.8 0 1,0 -1.7,0M366.2,775.3a0.9,0.9 0 1,0 1.8,0a0.9,0.9 0 1,0 -1.8,0M373.8,763.4a1.2,1.2 0 1,0 2.4,0a1.2,1.2 0 1,0 -2.4,0M338.8,760.6a1.1,1.1 0 1,0 2.2,0a1.1,1.1 0 1,0 -2.2,0M369.7,802.5a0.5,0.5 0 1,0 1.1,0a0.5,0.5 0 1,0 -1.1,0M369.8,801.7a1.0,1.0 0 1,0 1.9,0a1.0,1.0 0 1,0 -1.9,0M355.7,757.8a0.6,0.6 0 1,0 1.2,0a0.6,0.6 0 1,0 -1.2,0M345.6,766.7a0.6,0.6 0 1,0 1.2,0a0.6,0.6 0 1,0 -1.2,0M383.1,780.5a1.0,1.0 0 1,0 2.0,0a1.0,1.0 0 1,0 -2.0,0M319.8,767.9a0.8,0.8 0 1,0 1.6,0a0.8,0.8 0 1,0 -1.6,0M338.6,760.8a0.5,0.5 0 1,0 1.1,0a0.5,0.5 0 1,0 -1.1,0M314.8,759.8a1.0,1.0 0 1,0 1.9,0a1.0,1.0 0 1,0 -1.9,0M364.7,769.5a0.7,0.7 0 1,0 1.3,0a0.7,0.7 0 1,0 -1.3,0M344.5,771.0a0.8,0.8 0 1,0 1.7,0a0.8,0.8 0 1,0 -1.7,0M317.8,745.7a0.9,0.9 0 1,0 1.7,0a0.9,0.9 0 1,0 -1.7,0M361.5,752.3a1.0,1.0 0 1,0 2.1,0a1.0,1.0 0 1,0 -2.1,0M336.2,748.4a0.9,0.9 0 1,0 1.8,0a0.9,0.9 0 1,0 -1.8,0M341.8,783.8a0.8,0.8 0 1,0 1.6,0a0.8,0.8 0 1,0 -1.6,0M345.0,776.9a0.8,0.8 0 1,0 1.6,0a0.8,0.8 0 1,0 -1.6,0M340.5,788.0a0.7,0.7 0 1,0 1.5,0a0.7,0.7 0 1,0 -1.5,0M323.9,766.3a0.9,0.9 0 1,0 1.7,0a0.9,0.9 0 1,0 -1.7,0M369.2,774.5a0.6,0.6 0 1,0 1.3,0a0.6,0.6 0 1,0 -1.3,0M311.9,760.0a1.0,1.0 0 1,0 1.9,0a1.0,1.0 0 1,0 -1.9,0M358.1,760.9a0.9,0.9 0 1,0 1.8,0a0.9,0.9 0 1,0 -1.8,0M343.8,780.4a0.9,0.9 0 1,0 1.8,0a0.9,0.9 0 1,0 -1.8,0M345.4,778.3a1.0,1.0 0 1,0 2.0,0a1.0,1.0 0 1,0 -2.0,0M391.1,771.3a0.6,0.6 0 1,0 1.2,0a0.6,0.6 0 1,0 -1.2,0M314.7,788.0a0.9,0.9 0 1,0 1.9,0a0.9,0.9 0 1,0 -1.9,0M360.5,749.1a0.6,0.6 0 1,0 1.2,0a0.6,0.6 0 1,0 -1.2,0M330.2,765.5a1.1,1.1 0 1,0 2.3,0a1.1,1.1 0 1,0 -2.3,0M343.0,778.3a0.9,0.9 0 1,0 1.8,0a0.9,0.9 0 1,0 -1.8,0M351.6,799.7a0.7,0.7 0 1,0 1.4,0a0.7,0.7 0 1,0 -1.4,0M342.4,772.7a0.7,0.7 0 1,0 1.4,0a0.7,0.7 0 1,0 -1.4,0M315.8,757.6a1.0,1.0 0 1,0 1.9,0a1.0,1.0 0 1,0 -1.9,0M356.6,770.2a1.1,1.1 0 1,0 2.2,0a1.1,1.1 0 1,0 -2.2,0M343.4,775.7a0.8,0.8 0 1,0 1.6,0a0.8,0.8 0 1,0 -1.6,0M344.7,760.4a0.5,0.5 0 1,0 1.1,0a0.5,0.5 0 1,0 -1.1,0M349.9,767.0a1.0,1.0 0 1,0 2.0,0a1.0,1.0 0 1,0 -2.0,0M342.3,778.5a0.6,0.6 0 1,0 1.3,0a0.6,0.6 0 1,0 -1.3,0M390.6,781.6a1.1,1.1 0 1,0 2.2,0a1.1,1.1 0 1,0 -2.2,0M360.0,766.6a0.6,0.6 0 1,0 1.2,0a0.6,0.6 0 1,0 -1.2,0M361.0,795.3a1.1,1.1 0 1,0 2.3,0a1.1,1.1 0 1,0 -2.3,0M335.2,770.4a1.2,1.2 0 1,0 2.3,0a1.2,1.2 0 1,0 -2.3,0M347.8,773.4a0.7,0.7 0 1,0 1.4,0a0.7,0.7 0 1,0 -1.4,0M340.7,760.1a1.0,1.0 0 1,0 2.0,0a1.0,1.0 0 1,0 -2.0,0M332.3,784.0a0.6,0.6 0 1,0 1.2,0a0.6,0.6 0 1,0 -1.2,0M377.1,753.4a1.1,1.1 0 1,0 2.2,0a1.1,1.1 0 1,0 -2.2,0M401.6,786.1a0.8,0.8 0 1,0 1.6,0a0.8,0.8 0 1,0 -1.6,0M312.6,757.1a1.2,1.2 0 1,0 2.4,0a1.2,1.2 0 1,0 -2.4,0M340.2,776.0a1.0,1.0 0 1,0 2.0,0a1.0,1.0 0 1,0 -2.0,0M341.1,760.0a1.0,1.0 0 1,0 2.1,0a1.0,1.0 0 1,0 -2.1,0M354.0,768.3a0.6,0.6 0 1,0 1.1,0a0.6,0.6 0 1,0 -1.1,0M338.4,768.7a1.2,1.2 0 1,0 2.3,0a1.2,1.2 0 1,0 -2.3,0M367.6,739.5a1.1,1.1 0 1,0 2.3,0a1.1,1.1 0 1,0 -2.3,0M374.3,783.5a1.0,1.0 0 1,0 1.9,0a1.0,1.0 0 1,0 -1.9,0M354.7,761.6a1.1,1.1 0 1,0 2.2,0a1.1,1.1 0 1,0 -2.2,0M340.8,782.5a1.0,1.0 0 1,0 2.0,0a1.0,1.0 0 1,0 -2.0,0M353.3,738.4a0.7,0.7 0 1,0 1.4,0a0.7,0.7 0 1,0 -1.4,0M361.2,792.6a0.5,0.5 0 1,0 1.1,0a0.5,0.5 0 1,0 -1.1,0M340.8,758.2a0.8,0.8 0 1,0 1.5,0a0.8,0.8 0 1,0 -1.5,0M363.6,791.4a0.6,0.6 0 1,0 1.2,0a0.6,0.6 0 1,0 -1.2,0M347.8,772.6a0.6,0.6 0 1,0 1.2,0a0.6,0.6 0 1,0 -1.2,0M392.3,734.7a0.5,0.5 0 1,0 1.0,0a0.5,0.5 0 1,0 -1.0,0M369.1,771.6a0.7,0.7 0 1,0 1.4,0a0.7,0.7 0 1,0 -1.4,0M357.0,774.5a0.8,0.8 0 1,0 1.6,0a0.8,0.8 0 1,0 -1.6,0M353.0,773.7a0.6,0.6 0 1,0 1.2,0a0.6,0.6 0 1,0 -1.2,0M325.1,757.1a1.2,1.2 0 1,0 2.4,0a1.2,1.2 0 1,0 -2.4,0M340.3,744.1a0.7,0.7 0 1,0 1.3,0a0.7,0.7 0 1,0 -1.3,0M310.4,797.1a1.0,1.0 0 1,0 2.0,0a1.0,1.0 0 1,0 -2.0,0M353.6,759.4a1.1,1.1 0 1,0 2.1,0a1.1,1.1 0 1,0 -2.1,0M360.0,766.6a0.6,0.6 0 1,0 1.3,0a0.6,0.6 0 1,0 -1.3,0M326.9,763.6a0.6,0.6 0 1,0 1.1,0a0.6,0.6 0 1,0 -1.1,0M325.1,781.0a0.7,0.7 0 1,0 1.5,0a0.7,0.7 0 1,0 -1.5,0M362.2,769.3a0.6,0.6 0 1,0 1.2,0a0.6,0.6 0 1,0 -1.2,0M371.9,768.4a0.6,0.6 0 1,0 1.3,0a0.6,0.6 0 1,0 -1.3,0M340.5,782.1a0.6,0.6 0 1,0 1.2,0a0.6,0.6 0 1,0 -1.2,0M332.9,775.0a0.5,0.5 0 1,0 1.1,0a0.5,0.5 0 1,0 -1.1,0M355.0,741.1a1.0,1.0 0 1,0 2.0,0a1.0,1.0 0 1,0 -2.0,0M341.4,765.2a0.8,0.8 0 1,0 1.6,0a0.8,0.8 0 1,0 -1.6,0M358.0,771.3a1.1,1.1 0 1,0 2.2,0a1.1,1.1 0 1,0 -2.2,0M300.6,779.6a1.0,1.0 0 1,0 1.9,0a1.0,1.0 0 1,0 -1.9,0M345.2,767.6a1.1,1.1 0 1,0 2.3,0a1.1,1.1 0 1,0 -2.3,0M320.6,761.9a0.9,0.9 0 1,0 1.8,0a0.9,0.9 0 1,0 -1.8,0M364.5,753.5a1.1,1.1 0 1,0 2.2,0a1.1,1.1 0 1,0 -2.2,0M372.7,758.7a0.8,0.8 0 1,0 1.6,0a0.8,0.8 0 1,0 -1.6,0M368.8,752.9a1.2,1.2 0 1,0 2.3,0a1.2,1.2 0 1,0 -2.3,0M349.5,754.0a1.0,1.0 0 1,0 2.0,0a1.0,1.0 0 1,0 -2.0,0M349.8,786.3a0.9,0.9 0 1,0 1.7,0a0.9,0.9 0 1,0 -1.7,0M353.3,762.0a0.6,0.6 0 1,0 1.2,0a0.6,0.6 0 1,0 -1.2,0M341.7,788.3a0.6,0.6 0 1,0 1.2,0a0.6,0.6 0 1,0 -1.2,0M387.8,756.1a0.8,0.8 0 1,0 1.6,0a0.8,0.8 0 1,0 -1.6,0M347.9,789.3a0.8,0.8 0 1,0 1.6,0a0.8,0.8 0 1,0 -1.6,0M362.6,772.0a1.0,1.0 0 1,0 2.0,0a1.0,1.0 0 1,0 -2.0,0M382.3,806.3a0.8,0.8 0 1,0 1.7,0a0.8,0.8 0 1,0 -1.7,0M369.1,735.2a1.2,1.2 0 1,0 2.4,0a1.2,1.2 0 1,0 -2.4,0M310.1,773.0a0.6,0.6 0 1,0 1.1,0a0.6,0.6 0 1,0 -1.1,0M321.1,759.3a0.7,0.7 0 1,0 1.4,0a0.7,0.7 0 1,0 -1.4,0M357.2,748.1a0.8,0.8 0 1,0 1.6,0a0.8,0.8 0 1,0 -1.6,0M366.2,755.5a1.0,1.0 0 1,0 1.9,0a1.0,1.0 0 1,0 -1.9,0M352.6,766.5a0.9,0.9 0 1,0 1.9,0a0.9,0.9 0 1,0 -1.9,0M362.4,737.4a0.9,0.9 0 1,0 1.8,0a0.9,0.9 0 1,0 -1.8,0M362.3,765.8a0.6,0.6 0 1,0 1.3,0a0.6,0.6 0 1,0 -1.3,0M346.5,764.6a1.1,1.1 0 1,0 2.3,0a1.1,1.1 0 1,0 -2.3,0M338.9,779.1a0.9,0.9 0 1,0 1.9,0a0.9,0.9 0 1,0 -1.9,0M332.0,771.4a1.1,1.1 0 1,0 2.1,0a1.1,1.1 0 1,0 -2.1,0M361.0,774.7a0.5,0.5 0 1,0 1.1,0a0.5,0.5 0 1,0 -1.1,0M343.6,765.7a1.0,1.0 0 1,0 1.9,0a1.0,1.0 0 1,0 -1.9,0M361.7,758.3a0.9,0.9 0 1,0 1.8,0a0.9,0.9 0 1,0 -1.8,0M357.2,758.1a0.7,0.7 0 1,0 1.3,0a0.7,0.7 0 1,0 -1.3,0M340.8,763.1a0.8,0.8 0 1,0 1.7,0a0.8,0.8 0 1,0 -1.7,0M382.7,775.9a1.1,1.1 0 1,0 2.2,0a1.1,1.1 0 1,0 -2.2,0M349.8,745.9a0.9,0.9 0 1,0 1.8,0a0.9,0.9 0 1,0 -1.8,0M331.7,779.5a0.8,0.8 0 1,0 1.6,0a0.8,0.8 0 1,0 -1.6,0M351.6,752.7a0.6,0.6 0 1,0 1.2,0a0.6,0.6 0 1,0 -1.2,0M378.1,788.2a0.8,0.8 0 1,0 1.7,0a0.8,0.8 0 1,0 -1.7,0M355.3,763.4a0.7,0.7 0 1,0 1.3,0a0.7,0.7 0 1,0 -1.3,0M354.4,786.4a0.6,0.6 0 1,0 1.2,0a0.6,0.6 0 1,0 -1.2,0M336.7,763.3a0.5,0.5 0 1,0 1.0,0a0.5,0.5 0 1,0 -1.0,0M350.5,786.9a0.9,0.9 0 1,0 1.9,0a0.9,0.9 0 1,0 -1.9,0M348.6,761.9a1.2,1.2 0 1,0 2.4,0a1.2,1.2 0 1,0 -2.4,0M338.2,753.0a1.0,1.0 0 1,0 1.9,0a1.0,1.0 0 1,0 -1.9,0M356.1,776.6a0.5,0.5 0 1,0 1.0,0a0.5,0.5 0 1,0 -1.0,0M314.2,760.1a0.8,0.8 0 1,0 1.6,0a0.8,0.8 0 1,0 -1.6,0M368.9,757.3a1.0,1.0 0 1,0 2.0,0a1.0,1.0 0 1,0 -2.0,0M327.0,783.7a0.6,0.6 0 1,0 1.2,0a0.6,0.6 0 1,0 -1.2,0M373.6,756.1a1.1,1.1 0 1,0 2.2,0a1.1,1.1 0 1,0 -2.2,0M360.6,761.5a1.1,1.1 0 1,0 2.1,0a1.1,1.1 0 1,0 -2.1,0M368.6,782.7a1.1,1.1 0 1,0 2.1,0a1.1,1.1 0 1,0 -2.1,0M343.4,767.1a0.8,0.8 0 1,0 1.6,0a0.8,0.8 0 1,0 -1.6,0M366.3,796.5a0.8,0.8 0 1,0 1.6,0a0.8,0.8 0 1,0 -1.6,0M324.2,753.0a0.8,0.8 0 1,0 1.6,0a0.8,0.8 0 1,0 -1.6,0M350.0,744.2a0.6,0.6 0 1,0 1.2,0a0.6,0.6 0 1,0 -1.2,0M354.7,776.4a1.1,1.1 0 1,0 2.2,0a1.1,1.1 0 1,0 -2.2,0M364.3,776.3a1.0,1.0 0 1,0 2.0,0a1.0,1.0 0 1,0 -2.0,0M341.7,767.4a1.0,1.0 0 1,0 2.0,0a1.0,1.0 0 1,0 -2.0,0M347.4,796.0a1.0,1.0 0 1,0 2.0,0a1.0,1.0 0 1,0 -2.0,0M349.4,747.2a0.6,0.6 0 1,0 1.2,0a0.6,0.6 0 1,0 -1.2,0M346.6,761.9a0.9,0.9 0 1,0 1.8,0a0.9,0.9 0 1,0 -1.8,0M337.8,764.9a0.8,0.8 0 1,0 1.7,0a0.8,0.8 0 1,0 -1.7,0M364.2,747.6a0.7,0.7 0 1,0 1.5,0a0.7,0.7 0 1,0 -1.5,0M386.1,785.1a1.0,1.0 0 1,0 2.0,0a1.0,1.0 0 1,0 -2.0,0M338.9,789.5a1.1,1.1 0 1,0 2.2,0a1.1,1.1 0 1,0 -2.2,0M383.8,748.0a0.7,0.7 0 1,0 1.4,0a0.7,0.7 0 1,0 -1.4,0M361.3,799.1a0.7,0.7 0 1,0 1.4,0a0.7,0.7 0 1,0 -1.4,0M344.4,774.6a1.1,1.1 0 1,0 2.2,0a1.1,1.1 0 1,0 -2.2,0M346.4,758.6a1.0,1.0 0 1,0 2.0,0a1.0,1.0 0 1,0 -2.0,0M344.0,789.1a0.5,0.5 0 1,0 1.0,0a0.5,0.5 0 1,0 -1.0,0M379.4,755.8a0.9,0.9 0 1,0 1.7,0a0.9,0.9 0 1,0 -1.7,0M358.5,762.4a0.8,0.8 0 1,0 1.6,0a0.8,0.8 0 1,0 -1.6,0M348.1,753.1a1.0,1.0 0 1,0 2.0,0a1.0,1.0 0 1,0 -2.0,0M379.3,751.3a1.0,1.0 0 1,0 2.0,0a1.0,1.0 0 1,0 -2.0,0M363.4,795.8a1.1,1.1 0 1,0 2.1,0a1.1,1.1 0 1,0 -2.1,0M378.6,779.3a0.8,0.8 0 1,0 1.6,0a0.8,0.8 0 1,0 -1.6,0M366.7,761.6a0.8,0.8 0 1,0 1.6,0a0.8,0.8 0 1,0 -1.6,0M366.1,799.6a0.9,0.9 0 1,0 1.9,0a0.9,0.9 0 1,0 -1.9,0M369.1,755.4a0.8,0.8 0 1,0 1.7,0a0.8,0.8 0 1,0 -1.7,0M339.8,788.6a0.8,0.8 0 1,0 1.6,0a0.8,0.8 0 1,0 -1.6,0M364.7,784.0a0.6,0.6 0 1,0 1.2,0a0.6,0.6 0 1,0 -1.2,0M371.5,745.8a0.8,0.8 0 1,0 1.5,0a0.8,0.8 0 1,0 -1.5,0M326.2,803.6a0.9,0.9 0 1,0 1.9,0a0.9,0.9 0 1,0 -1.9,0M355.4,774.4a0.9,0.9 0 1,0 1.8,0a0.9,0.9 0 1,0 -1.8,0M344.2,801.5a1.0,1.0 0 1,0 2.0,0a1.0,1.0 0 1,0 -2.0,0M355.5,784.2a0.6,0.6 0 1,0 1.1,0a0.6,0.6 0 1,0 -1.1,0M348.0,788.2a1.1,1.1 0 1,0 2.2,0a1.1,1.1 0 1,0 -2.2,0" fill="#5cf25c" fill-opacity="0.8" stroke="none"/>
</g>
<path d="M553,893.6 H564 V783.8" stroke="#000" stroke-width="2" fill="none"/>
<text x="550.0" y="835.0" font-size="24.8" text-anchor="middle" transform="rotate(-90 550.0 835.0)">1 <tspan font-style="italic">ΔF/F</tspan></text>
<text x="536.4" y="918.6" font-size="24.8">2 s</text>
<line x1="585.2" y1="904.6" x2="585.2" y2="917.2" stroke="#000" stroke-width="3.6" stroke-linecap="butt"/>
<line x1="659.4" y1="904.6" x2="659.4" y2="917.2" stroke="#000" stroke-width="3.6" stroke-linecap="butt"/>
<text x="-13.5" y="6.3" font-size="58.6" font-weight="200" style="font-family:'DejaVu Sans',sans-serif" transform="translate(572.5 948.7)">♀</text>
<text x="592.0" y="948.7" font-size="24.8">mel</text>
<text x="-13.5" y="6.3" font-size="58.6" font-weight="200" style="font-family:'DejaVu Sans',sans-serif" transform="translate(651.5 948.7)">♀</text>
<text x="671.6" y="948.7" font-size="24.8">yak</text>
<path d="M573.0,888.7 L573.7,888.6 L574.4,888.6 L575.1,889.5 L575.8,889.0 L576.5,888.3 L577.2,888.1 L577.9,889.7 L578.6,888.2 L579.3,887.8 L580.0,889.8 L580.7,888.4 L581.4,888.8 L582.1,887.7 L582.8,888.6 L583.5,887.7 L584.2,888.5 L584.9,888.9 L585.6,887.5 L586.3,888.6 L587.0,887.9 L587.7,886.6 L588.4,886.1 L589.2,884.0 L589.9,881.5 L590.6,879.6 L591.3,878.9 L592.0,876.6 L592.7,876.8 L593.4,876.3 L594.1,876.7 L594.8,876.8 L595.5,876.9 L596.2,877.9 L596.9,877.1 L597.6,878.9 L598.3,878.5 L599.0,877.9 L599.7,878.5 L600.4,878.1 L601.1,880.1 L601.8,879.3 L602.5,878.9 L603.2,879.3 L603.9,879.3 L604.6,879.5 L605.3,880.3 L606.0,880.0 L606.7,881.3 L607.4,881.7 L608.1,882.3 L608.8,882.9 L609.5,883.1 L610.2,883.3 L610.9,883.1 L611.6,883.0 L612.3,884.8 L613.0,885.3 L613.7,885.5 L614.4,885.2 L615.1,884.6 L615.8,884.1 L616.5,885.7 L617.2,885.0 L617.9,884.8 L618.6,884.1 L619.3,885.6 L620.1,885.8 L620.8,884.6 L621.5,885.4 L622.2,885.7 L622.9,885.3 L623.6,885.4 L624.3,885.6 L625.0,886.2 L625.7,885.1 L626.4,886.5 L627.1,884.9 L627.8,886.2 L628.5,886.6 L629.2,886.6 L629.9,887.1 L630.6,886.5 L631.3,887.6 L632.0,886.2 L632.7,885.8 L633.4,887.3 L634.1,885.7 L634.8,886.4 L635.5,887.2 L635.5,890.7 L634.8,890.6 L634.1,889.9 L633.4,891.0 L632.7,890.3 L632.0,890.3 L631.3,891.4 L630.6,890.8 L629.9,891.1 L629.2,891.1 L628.5,890.5 L627.8,890.1 L627.1,889.0 L626.4,889.7 L625.7,889.2 L625.0,890.4 L624.3,889.9 L623.6,889.7 L622.9,888.4 L622.2,889.6 L621.5,890.1 L620.8,888.9 L620.1,889.6 L619.3,890.0 L618.6,888.8 L617.9,888.5 L617.2,889.6 L616.5,889.6 L615.8,888.3 L615.1,889.4 L614.4,888.8 L613.7,889.5 L613.0,889.1 L612.3,887.9 L611.6,886.7 L610.9,886.9 L610.2,887.3 L609.5,886.9 L608.8,887.0 L608.1,885.5 L607.4,886.3 L606.7,885.4 L606.0,885.0 L605.3,883.4 L604.6,883.5 L603.9,883.4 L603.2,882.7 L602.5,883.1 L601.8,882.8 L601.1,883.9 L600.4,882.2 L599.7,882.5 L599.0,881.5 L598.3,882.3 L597.6,882.4 L596.9,881.5 L596.2,881.1 L595.5,880.4 L594.8,880.9 L594.1,880.0 L593.4,880.6 L592.7,880.2 L592.0,880.5 L591.3,883.1 L590.6,882.8 L589.9,885.6 L589.2,888.3 L588.4,890.0 L587.7,890.3 L587.0,892.1 L586.3,892.9 L585.6,891.6 L584.9,892.9 L584.2,892.1 L583.5,891.5 L582.8,891.9 L582.1,892.4 L581.4,893.0 L580.7,891.8 L580.0,893.3 L579.3,891.9 L578.6,892.5 L577.9,893.3 L577.2,892.1 L576.5,892.2 L575.8,893.1 L575.1,893.0 L574.4,893.3 L573.7,893.5 L573.0,892.2Z" fill="#1c7a3a" fill-opacity="0.33" stroke="#1c7a3a" stroke-opacity="0.53" stroke-width="0.9"/>
<path d="M573.0,890.6 L573.7,891.1 L574.4,890.8 L575.1,891.1 L575.8,891.1 L576.5,890.1 L577.2,890.0 L577.9,891.2 L578.6,890.3 L579.3,890.1 L580.0,891.3 L580.7,890.4 L581.4,890.9 L582.1,890.2 L582.8,890.4 L583.5,889.6 L584.2,890.3 L584.9,890.6 L585.6,890.1 L586.3,890.4 L587.0,890.2 L587.7,888.5 L588.4,888.2 L589.2,886.2 L589.9,883.7 L590.6,881.3 L591.3,880.9 L592.0,878.8 L592.7,878.5 L593.4,878.6 L594.1,878.5 L594.8,879.0 L595.5,878.5 L596.2,879.5 L596.9,879.3 L597.6,880.5 L598.3,880.8 L599.0,879.8 L599.7,880.2 L600.4,880.5 L601.1,881.7 L601.8,880.9 L602.5,881.3 L603.2,881.0 L603.9,881.5 L604.6,881.6 L605.3,881.8 L606.0,882.5 L606.7,882.9 L607.4,883.8 L608.1,883.8 L608.8,884.6 L609.5,884.9 L610.2,885.5 L610.9,885.4 L611.6,884.9 L612.3,886.4 L613.0,886.9 L613.7,887.1 L614.4,886.8 L615.1,887.2 L615.8,886.5 L616.5,887.5 L617.2,887.1 L617.9,886.7 L618.6,886.4 L619.3,887.7 L620.1,887.9 L620.8,886.6 L621.5,887.8 L622.2,887.3 L622.9,886.9 L623.6,887.3 L624.3,888.1 L625.0,888.4 L625.7,887.2 L626.4,888.2 L627.1,887.4 L627.8,888.6 L628.5,888.1 L629.2,889.1 L629.9,889.3 L630.6,888.7 L631.3,889.5 L632.0,888.5 L632.7,888.2 L633.4,889.1 L634.1,888.2 L634.8,888.5 L635.5,888.9" stroke="#1c7a3a" stroke-width="2.5" fill="none" stroke-linejoin="round"/>
<path d="M647.5,888.5 L648.2,888.2 L648.9,888.6 L649.6,887.8 L650.4,888.4 L651.1,888.2 L651.8,889.7 L652.5,888.5 L653.2,888.1 L653.9,887.7 L654.6,887.3 L655.3,886.9 L656.1,886.4 L656.8,886.9 L657.5,887.1 L658.2,887.2 L658.9,886.6 L659.6,886.5 L660.3,886.8 L661.1,881.1 L661.8,873.4 L662.5,862.5 L663.2,848.9 L663.9,835.1 L664.6,820.0 L665.3,804.2 L666.1,792.3 L666.8,782.3 L667.5,775.9 L668.2,774.0 L668.9,770.4 L669.6,766.1 L670.3,763.7 L671.0,761.6 L671.8,760.6 L672.5,761.7 L673.2,764.0 L673.9,764.8 L674.6,767.3 L675.3,769.0 L676.0,768.7 L676.8,770.7 L677.5,773.9 L678.2,776.7 L678.9,781.4 L679.6,786.5 L680.3,792.3 L681.0,796.4 L681.7,801.4 L682.5,806.8 L683.2,810.7 L683.9,814.0 L684.6,815.9 L685.3,817.8 L686.0,819.6 L686.7,818.6 L687.5,821.4 L688.2,822.5 L688.9,826.9 L689.6,829.1 L690.3,833.0 L691.0,836.7 L691.7,840.6 L692.4,843.8 L693.2,848.9 L693.9,850.7 L694.6,854.3 L695.3,857.7 L696.0,860.4 L696.7,862.2 L697.4,862.6 L698.2,863.4 L698.9,863.6 L699.6,864.5 L700.3,864.7 L701.0,866.2 L701.7,867.8 L702.4,869.2 L703.2,870.0 L703.9,871.9 L704.6,872.6 L705.3,874.2 L706.0,876.4 L706.7,877.6 L707.4,878.2 L708.1,880.7 L708.9,880.8 L709.6,882.2 L710.3,881.7 L711.0,881.0 L711.0,885.1 L710.3,885.1 L709.6,885.7 L708.9,884.4 L708.1,884.5 L707.4,882.8 L706.7,882.1 L706.0,881.0 L705.3,878.1 L704.6,876.2 L703.9,876.4 L703.2,874.6 L702.4,872.7 L701.7,872.1 L701.0,870.5 L700.3,867.9 L699.6,868.9 L698.9,867.4 L698.2,867.3 L697.4,867.4 L696.7,866.6 L696.0,865.0 L695.3,860.9 L694.6,857.5 L693.9,855.2 L693.2,852.5 L692.4,848.4 L691.7,843.7 L691.0,841.0 L690.3,836.6 L689.6,833.2 L688.9,830.4 L688.2,827.9 L687.5,825.9 L686.7,823.9 L686.0,824.8 L685.3,823.6 L684.6,822.6 L683.9,821.6 L683.2,819.1 L682.5,816.3 L681.7,812.0 L681.0,809.0 L680.3,807.2 L679.6,802.5 L678.9,799.5 L678.2,797.7 L677.5,797.6 L676.8,796.3 L676.0,796.5 L675.3,798.0 L674.6,797.1 L673.9,795.6 L673.2,795.9 L672.5,792.6 L671.8,792.7 L671.0,792.0 L670.3,792.4 L669.6,793.1 L668.9,796.1 L668.2,797.1 L667.5,797.5 L666.8,800.5 L666.1,808.8 L665.3,818.4 L664.6,832.0 L663.9,845.6 L663.2,858.4 L662.5,871.6 L661.8,880.7 L661.1,887.9 L660.3,892.3 L659.6,892.6 L658.9,892.0 L658.2,892.1 L657.5,891.0 L656.8,890.8 L656.1,891.1 L655.3,891.9 L654.6,891.9 L653.9,891.2 L653.2,892.2 L652.5,892.3 L651.8,893.1 L651.1,892.0 L650.4,891.9 L649.6,891.9 L648.9,892.2 L648.2,892.9 L647.5,892.2Z" fill="#a83a98" fill-opacity="0.33" stroke="#a83a98" stroke-opacity="0.53" stroke-width="0.9"/>
<path d="M647.5,890.6 L648.2,890.3 L648.9,890.8 L649.6,890.3 L650.4,890.0 L651.1,890.5 L651.8,891.1 L652.5,890.8 L653.2,890.6 L653.9,889.5 L654.6,889.9 L655.3,889.3 L656.1,889.0 L656.8,888.7 L657.5,888.8 L658.2,889.8 L658.9,889.6 L659.6,889.5 L660.3,889.4 L661.1,884.9 L661.8,877.4 L662.5,867.0 L663.2,854.1 L663.9,840.1 L664.6,825.8 L665.3,811.0 L666.1,800.3 L666.8,791.7 L667.5,786.6 L668.2,785.1 L668.9,783.3 L669.6,779.4 L670.3,777.8 L671.0,776.6 L671.8,776.5 L672.5,777.1 L673.2,779.4 L673.9,780.4 L674.6,782.2 L675.3,783.1 L676.0,783.0 L676.8,783.4 L677.5,785.4 L678.2,787.6 L678.9,790.5 L679.6,794.5 L680.3,799.4 L681.0,802.4 L681.7,806.7 L682.5,811.5 L683.2,814.5 L683.9,817.8 L684.6,819.8 L685.3,820.6 L686.0,821.9 L686.7,821.5 L687.5,823.5 L688.2,825.3 L688.9,828.7 L689.6,831.2 L690.3,834.7 L691.0,839.0 L691.7,842.1 L692.4,846.2 L693.2,850.5 L693.9,852.8 L694.6,856.0 L695.3,859.2 L696.0,862.6 L696.7,864.3 L697.4,865.0 L698.2,865.7 L698.9,865.6 L699.6,866.4 L700.3,866.5 L701.0,868.4 L701.7,869.9 L702.4,871.2 L703.2,872.2 L703.9,874.1 L704.6,874.1 L705.3,876.0 L706.0,878.6 L706.7,879.7 L707.4,880.4 L708.1,882.4 L708.9,882.8 L709.6,883.9 L710.3,883.5 L711.0,883.5" stroke="#a83a98" stroke-width="2.5" fill="none" stroke-linejoin="round"/>
<path d="M781,106.3 H791 V429.4 H781" stroke="#000" stroke-width="2" fill="none"/>
<text x="775.0" y="114.5" font-size="24.8" text-anchor="end">4</text>
<text x="775.0" y="438.0" font-size="24.8" text-anchor="end">0</text>
<text x="777.0" y="267.0" font-size="24.8" text-anchor="middle" transform="rotate(-90 777.0 267.0)"><tspan font-style="italic">ΔF/F</tspan></text>
<text x="838.6" y="98.6" font-size="24.8" text-anchor="middle">a</text>
<text x="923.7" y="98.6" font-size="24.8" text-anchor="middle">a</text>
<text x="1014.9" y="98.6" font-size="24.8" text-anchor="middle">a</text>
<text x="1099.4" y="98.6" font-size="24.8" text-anchor="middle">a</text>
<text x="1184.9" y="98.6" font-size="24.8" text-anchor="middle">a</text>
<text x="-13.5" y="6.3" font-size="58.6" font-weight="200" style="font-family:'DejaVu Sans',sans-serif" transform="translate(785.7 472.3)">♀</text>
<text x="837.1" y="472.3" font-size="24.8" text-anchor="middle">mel</text>
<text x="922.2" y="472.3" font-size="24.8" text-anchor="middle">yak</text>
<text x="1013.4" y="472.3" font-size="24.8" text-anchor="middle">sim</text>
<text x="1097.9" y="472.3" font-size="24.8" text-anchor="middle">ere</text>
<text x="1179.5" y="472.3" font-size="24.8" text-anchor="middle">yak</text>
<text x="-9.9" y="8.0" font-size="62" font-weight="200" style="font-family:'DejaVu Sans',sans-serif" transform="translate(1212.0 472.3) translate(8.0 -8.0) rotate(-15) scale(0.95) translate(-8.0 8.0)">♂</text>
<circle cx="844.9" cy="402.0" r="9.6" fill="#3f9160" fill-opacity="0.5"/>
<circle cx="822.9" cy="416.9" r="9.6" fill="#3f9160" fill-opacity="0.5"/>
<circle cx="815.7" cy="433.4" r="9.6" fill="#3f9160" fill-opacity="0.5"/>
<circle cx="837.1" cy="427.1" r="9.6" fill="#3f9160" fill-opacity="0.5"/>
<circle cx="851.4" cy="427.1" r="9.6" fill="#3f9160" fill-opacity="0.5"/>
<circle cx="862.9" cy="434.9" r="9.6" fill="#3f9160" fill-opacity="0.5"/>
<circle cx="902.9" cy="419.4" r="9.6" fill="#c571b8" fill-opacity="0.55"/>
<circle cx="913.4" cy="412.9" r="9.6" fill="#c571b8" fill-opacity="0.55"/>
<circle cx="924.3" cy="417.1" r="9.6" fill="#c571b8" fill-opacity="0.55"/>
<circle cx="935.7" cy="413.7" r="9.6" fill="#c571b8" fill-opacity="0.55"/>
<circle cx="946.6" cy="406.0" r="9.6" fill="#c571b8" fill-opacity="0.55"/>
<circle cx="925.7" cy="430.6" r="9.6" fill="#c571b8" fill-opacity="0.55"/>
<circle cx="1015.1" cy="384.3" r="9.6" fill="#7fcabb" fill-opacity="0.55"/>
<circle cx="993.4" cy="413.1" r="9.6" fill="#7fcabb" fill-opacity="0.55"/>
<circle cx="1008.6" cy="413.1" r="9.6" fill="#7fcabb" fill-opacity="0.55"/>
<circle cx="1022.3" cy="413.1" r="9.6" fill="#7fcabb" fill-opacity="0.55"/>
<circle cx="1037.1" cy="414.6" r="9.6" fill="#7fcabb" fill-opacity="0.55"/>
<circle cx="1015.1" cy="437.1" r="9.6" fill="#7fcabb" fill-opacity="0.55"/>
<circle cx="1076.9" cy="403.7" r="9.6" fill="#6f5fb4" fill-opacity="0.6"/>
<circle cx="1098.9" cy="399.1" r="9.6" fill="#6f5fb4" fill-opacity="0.6"/>
<circle cx="1088.0" cy="425.1" r="9.6" fill="#6f5fb4" fill-opacity="0.6"/>
<circle cx="1076.9" cy="435.7" r="9.6" fill="#6f5fb4" fill-opacity="0.6"/>
<circle cx="1102.9" cy="432.3" r="9.6" fill="#6f5fb4" fill-opacity="0.6"/>
<circle cx="1122.0" cy="430.0" r="9.6" fill="#6f5fb4" fill-opacity="0.6"/>
<circle cx="1166.6" cy="407.1" r="9.6" fill="#4d4d4d" fill-opacity="0.6"/>
<circle cx="1191.4" cy="405.4" r="9.6" fill="#4d4d4d" fill-opacity="0.6"/>
<circle cx="1179.1" cy="413.4" r="9.6" fill="#4d4d4d" fill-opacity="0.6"/>
<circle cx="1166.6" cy="424.9" r="9.6" fill="#4d4d4d" fill-opacity="0.6"/>
<circle cx="1191.4" cy="420.6" r="9.6" fill="#4d4d4d" fill-opacity="0.6"/>
<circle cx="1203.7" cy="416.6" r="9.6" fill="#4d4d4d" fill-opacity="0.6"/>
<line x1="827.1" y1="422.0" x2="851.4" y2="422.0" stroke="#000" stroke-width="2" stroke-linecap="butt"/>
<line x1="839.1" y1="419.1" x2="839.1" y2="424.9" stroke="#000" stroke-width="2" stroke-linecap="butt"/>
<line x1="912.0" y1="416.9" x2="937.1" y2="416.9" stroke="#000" stroke-width="2" stroke-linecap="butt"/>
<line x1="924.6" y1="415.1" x2="924.6" y2="418.6" stroke="#000" stroke-width="2" stroke-linecap="butt"/>
<line x1="1002.9" y1="411.7" x2="1028.0" y2="411.7" stroke="#000" stroke-width="2" stroke-linecap="butt"/>
<line x1="1015.4" y1="407.1" x2="1015.4" y2="416.3" stroke="#000" stroke-width="2" stroke-linecap="butt"/>
<line x1="1087.1" y1="418.9" x2="1112.0" y2="418.9" stroke="#000" stroke-width="2" stroke-linecap="butt"/>
<line x1="1099.4" y1="416.0" x2="1099.4" y2="422.3" stroke="#000" stroke-width="2" stroke-linecap="butt"/>
<line x1="1172.9" y1="414.3" x2="1197.7" y2="414.3" stroke="#000" stroke-width="2" stroke-linecap="butt"/>
<line x1="1185.1" y1="411.4" x2="1185.1" y2="417.1" stroke="#000" stroke-width="2" stroke-linecap="butt"/>
<path d="M781,626.3 H791 V949.4 H781" stroke="#000" stroke-width="2" fill="none"/>
<text x="775.0" y="634.5" font-size="24.8" text-anchor="end">4</text>
<text x="775.0" y="958.0" font-size="24.8" text-anchor="end">0</text>
<text x="777.0" y="787.0" font-size="24.8" text-anchor="middle" transform="rotate(-90 777.0 787.0)"><tspan font-style="italic">ΔF/F</tspan></text>
<text x="838.6" y="618.6" font-size="24.8" text-anchor="middle">a</text>
<text x="923.7" y="618.6" font-size="24.8" text-anchor="middle">b</text>
<text x="1014.9" y="618.6" font-size="24.8" text-anchor="middle">bc</text>
<text x="1099.4" y="618.6" font-size="24.8" text-anchor="middle">a</text>
<text x="1184.9" y="618.6" font-size="24.8" text-anchor="middle">ac</text>
<text x="-13.5" y="6.3" font-size="58.6" font-weight="200" style="font-family:'DejaVu Sans',sans-serif" transform="translate(785.7 992.3)">♀</text>
<text x="837.1" y="992.3" font-size="24.8" text-anchor="middle">mel</text>
<text x="922.2" y="992.3" font-size="24.8" text-anchor="middle">yak</text>
<text x="1013.4" y="992.3" font-size="24.8" text-anchor="middle">sim</text>
<text x="1097.9" y="992.3" font-size="24.8" text-anchor="middle">ere</text>
<text x="1179.5" y="992.3" font-size="24.8" text-anchor="middle">yak</text>
<text x="-9.9" y="8.0" font-size="62" font-weight="200" style="font-family:'DejaVu Sans',sans-serif" transform="translate(1212.0 992.3) translate(8.0 -8.0) rotate(-15) scale(0.95) translate(-8.0 8.0)">♂</text>
<circle cx="839.1" cy="908.0" r="9.6" fill="#3f9160" fill-opacity="0.5"/>
<circle cx="830.0" cy="926.3" r="9.6" fill="#3f9160" fill-opacity="0.5"/>
<circle cx="845.7" cy="926.3" r="9.6" fill="#3f9160" fill-opacity="0.5"/>
<circle cx="820.0" cy="932.9" r="9.6" fill="#3f9160" fill-opacity="0.5"/>
<circle cx="857.1" cy="932.9" r="9.6" fill="#3f9160" fill-opacity="0.5"/>
<circle cx="821.4" cy="937.1" r="9.6" fill="#3f9160" fill-opacity="0.5"/>
<circle cx="835.7" cy="937.7" r="9.6" fill="#3f9160" fill-opacity="0.5"/>
<circle cx="845.7" cy="937.1" r="9.6" fill="#3f9160" fill-opacity="0.5"/>
<circle cx="856.6" cy="937.1" r="9.6" fill="#3f9160" fill-opacity="0.5"/>
<circle cx="826.3" cy="934.3" r="9.6" fill="#3f9160" fill-opacity="0.5"/>
<circle cx="926.6" cy="713.7" r="9.6" fill="#c571b8" fill-opacity="0.55"/>
<circle cx="926.6" cy="754.0" r="9.6" fill="#c571b8" fill-opacity="0.55"/>
<circle cx="926.6" cy="792.9" r="9.6" fill="#c571b8" fill-opacity="0.55"/>
<circle cx="931.4" cy="819.4" r="9.6" fill="#c571b8" fill-opacity="0.55"/>
<circle cx="921.4" cy="830.9" r="9.6" fill="#c571b8" fill-opacity="0.55"/>
<circle cx="921.4" cy="868.6" r="9.6" fill="#c571b8" fill-opacity="0.55"/>
<circle cx="931.4" cy="877.7" r="9.6" fill="#c571b8" fill-opacity="0.55"/>
<circle cx="915.7" cy="882.0" r="9.6" fill="#c571b8" fill-opacity="0.55"/>
<circle cx="932.9" cy="896.3" r="9.6" fill="#c571b8" fill-opacity="0.55"/>
<circle cx="922.3" cy="900.9" r="9.6" fill="#c571b8" fill-opacity="0.55"/>
<circle cx="1015.4" cy="757.4" r="9.6" fill="#7fcabb" fill-opacity="0.55"/>
<circle cx="1000.0" cy="840.0" r="9.6" fill="#7fcabb" fill-opacity="0.55"/>
<circle cx="1030.9" cy="838.6" r="9.6" fill="#7fcabb" fill-opacity="0.55"/>
<circle cx="1015.4" cy="849.4" r="9.6" fill="#7fcabb" fill-opacity="0.55"/>
<circle cx="1000.0" cy="865.7" r="9.6" fill="#7fcabb" fill-opacity="0.55"/>
<circle cx="1030.9" cy="868.6" r="9.6" fill="#7fcabb" fill-opacity="0.55"/>
<circle cx="1015.4" cy="876.3" r="9.6" fill="#7fcabb" fill-opacity="0.55"/>
<circle cx="1015.4" cy="904.3" r="9.6" fill="#7fcabb" fill-opacity="0.55"/>
<circle cx="1024.9" cy="920.0" r="9.6" fill="#7fcabb" fill-opacity="0.55"/>
<circle cx="1005.7" cy="925.7" r="9.6" fill="#7fcabb" fill-opacity="0.55"/>
<circle cx="1080.6" cy="908.9" r="9.6" fill="#6f5fb4" fill-opacity="0.6"/>
<circle cx="1118.6" cy="908.9" r="9.6" fill="#6f5fb4" fill-opacity="0.6"/>
<circle cx="1099.4" cy="919.4" r="9.6" fill="#6f5fb4" fill-opacity="0.6"/>
<circle cx="1080.0" cy="925.7" r="9.6" fill="#6f5fb4" fill-opacity="0.6"/>
<circle cx="1118.6" cy="929.1" r="9.6" fill="#6f5fb4" fill-opacity="0.6"/>
<circle cx="1086.6" cy="929.1" r="9.6" fill="#6f5fb4" fill-opacity="0.6"/>
<circle cx="1099.4" cy="932.9" r="9.6" fill="#6f5fb4" fill-opacity="0.6"/>
<circle cx="1117.1" cy="934.3" r="9.6" fill="#6f5fb4" fill-opacity="0.6"/>
<circle cx="1112.9" cy="937.1" r="9.6" fill="#6f5fb4" fill-opacity="0.6"/>
<circle cx="1099.4" cy="945.7" r="9.6" fill="#6f5fb4" fill-opacity="0.6"/>
<circle cx="1185.1" cy="883.4" r="9.6" fill="#4d4d4d" fill-opacity="0.6"/>
<circle cx="1174.3" cy="898.6" r="9.6" fill="#4d4d4d" fill-opacity="0.6"/>
<circle cx="1181.4" cy="901.4" r="9.6" fill="#4d4d4d" fill-opacity="0.6"/>
<circle cx="1166.6" cy="924.3" r="9.6" fill="#4d4d4d" fill-opacity="0.6"/>
<circle cx="1203.7" cy="922.9" r="9.6" fill="#4d4d4d" fill-opacity="0.6"/>
<circle cx="1195.7" cy="913.7" r="9.6" fill="#4d4d4d" fill-opacity="0.6"/>
<circle cx="1181.4" cy="922.9" r="9.6" fill="#4d4d4d" fill-opacity="0.6"/>
<circle cx="1188.6" cy="921.4" r="9.6" fill="#4d4d4d" fill-opacity="0.6"/>
<circle cx="1196.6" cy="930.0" r="9.6" fill="#4d4d4d" fill-opacity="0.6"/>
<circle cx="1180.0" cy="914.3" r="9.6" fill="#4d4d4d" fill-opacity="0.6"/>
<line x1="826.3" y1="930.6" x2="851.4" y2="930.6" stroke="#000" stroke-width="2" stroke-linecap="butt"/>
<line x1="839.1" y1="927.7" x2="839.1" y2="933.4" stroke="#000" stroke-width="2" stroke-linecap="butt"/>
<line x1="912.0" y1="833.1" x2="937.1" y2="833.1" stroke="#000" stroke-width="2" stroke-linecap="butt"/>
<line x1="924.3" y1="813.7" x2="924.3" y2="853.4" stroke="#000" stroke-width="2" stroke-linecap="butt"/>
<line x1="1002.9" y1="864.9" x2="1028.0" y2="864.9" stroke="#000" stroke-width="2" stroke-linecap="butt"/>
<line x1="1015.4" y1="849.4" x2="1015.4" y2="880.0" stroke="#000" stroke-width="2" stroke-linecap="butt"/>
<line x1="1087.1" y1="927.1" x2="1112.0" y2="927.1" stroke="#000" stroke-width="2" stroke-linecap="butt"/>
<line x1="1099.4" y1="925.1" x2="1099.4" y2="929.7" stroke="#000" stroke-width="2" stroke-linecap="butt"/>
<line x1="1172.9" y1="913.7" x2="1197.7" y2="913.7" stroke="#000" stroke-width="2" stroke-linecap="butt"/>
<line x1="1185.7" y1="910.0" x2="1185.7" y2="917.7" stroke="#000" stroke-width="2" stroke-linecap="butt"/>
<text x="-9.9" y="8.0" font-size="62" font-weight="200" style="font-family:'DejaVu Sans',sans-serif" transform="translate(1338.6 27.1) translate(8.0 -8.0) rotate(-15) scale(0.95) translate(-8.0 8.0)">♂</text>
<text x="1372.9" y="27.1" font-size="24.8">Fru<tspan style="font-family:'Noto Sans CJK JP',sans-serif" font-size="0.9em" dx="-2.5" letter-spacing="-3.6">∩</tspan>P1&gt; CsChrimson</text>
<circle cx="1479.4" cy="108.0" r="53.7" fill="#fff" stroke="#000" stroke-width="2.2"/>
<text x="1445.7" y="94.3" font-size="24.8">mel</text>
<text x="-13.5" y="6.3" font-size="58.6" font-weight="200" style="font-family:'DejaVu Sans',sans-serif" transform="translate(1494.0 96.8)">♀</text>
<text x="1443.7" y="136.6" font-size="24.8">yak</text>
<text x="-9.9" y="8.0" font-size="62" font-weight="200" style="font-family:'DejaVu Sans',sans-serif" transform="translate(1491.5 139.6) translate(8.0 -8.0) rotate(-15) scale(0.95) translate(-8.0 8.0)">♂</text>
<path d="M1417.7,208.0 H1422.9 V436.6 H1417.7 M1417.7,284.3 H1422.9 M1417.7,360.6 H1422.9" stroke="#000" stroke-width="2" fill="none"/>
<text x="1414.0" y="217.0" font-size="24.8" text-anchor="end">10<tspan font-size="16" dy="-9">2</tspan></text>
<text x="1414.0" y="293.3" font-size="24.8" text-anchor="end">10<tspan font-size="16" dy="-9">1</tspan></text>
<text x="1414.0" y="369.6" font-size="24.8" text-anchor="end">10<tspan font-size="16" dy="-9">0</tspan></text>
<text x="1414.0" y="445.6" font-size="24.8" text-anchor="end">10<tspan font-size="16" dy="-9">−1</tspan></text>
<text x="1355.7" y="323.3" font-size="24.8" text-anchor="middle" transform="rotate(-90 1355.7 323.3)">Average bout length (s)</text>
<text x="1449.1" y="476.6" font-size="24.8" text-anchor="middle">Pre</text>
<text x="1513.7" y="476.6" font-size="24.8" text-anchor="middle">Stim</text>
<path d="M1448.6,300.0 V234.9 H1514.3 V248.6" stroke="#000" stroke-width="2" fill="none"/>
<text x="1481.4" y="238.4" font-size="28" text-anchor="middle">****</text>
<line x1="1449.1" y1="314.9" x2="1513.7" y2="262.3" stroke="#d9d9d9" stroke-width="2" stroke-linecap="butt"/>
<line x1="1449.1" y1="350.0" x2="1513.7" y2="268.6" stroke="#d9d9d9" stroke-width="2" stroke-linecap="butt"/>
<line x1="1449.1" y1="361.4" x2="1513.7" y2="281.4" stroke="#d9d9d9" stroke-width="2" stroke-linecap="butt"/>
<line x1="1449.1" y1="436.6" x2="1513.7" y2="287.1" stroke="#d9d9d9" stroke-width="2" stroke-linecap="butt"/>
<line x1="1449.1" y1="436.6" x2="1513.7" y2="292.9" stroke="#d9d9d9" stroke-width="2" stroke-linecap="butt"/>
<line x1="1449.1" y1="436.6" x2="1513.7" y2="298.6" stroke="#d9d9d9" stroke-width="2" stroke-linecap="butt"/>
<line x1="1449.1" y1="436.6" x2="1513.7" y2="304.3" stroke="#d9d9d9" stroke-width="2" stroke-linecap="butt"/>
<line x1="1449.1" y1="436.6" x2="1513.7" y2="310.0" stroke="#d9d9d9" stroke-width="2" stroke-linecap="butt"/>
<line x1="1449.1" y1="436.6" x2="1513.7" y2="315.7" stroke="#d9d9d9" stroke-width="2" stroke-linecap="butt"/>
<line x1="1449.1" y1="436.6" x2="1513.7" y2="324.3" stroke="#d9d9d9" stroke-width="2" stroke-linecap="butt"/>
<line x1="1449.1" y1="436.6" x2="1513.7" y2="338.6" stroke="#d9d9d9" stroke-width="2" stroke-linecap="butt"/>
<line x1="1449.1" y1="314.9" x2="1513.7" y2="268.6" stroke="#d9d9d9" stroke-width="2" stroke-linecap="butt"/>
<line x1="1449.1" y1="350.0" x2="1513.7" y2="287.1" stroke="#d9d9d9" stroke-width="2" stroke-linecap="butt"/>
<line x1="1449.1" y1="361.4" x2="1513.7" y2="298.6" stroke="#d9d9d9" stroke-width="2" stroke-linecap="butt"/>
<circle cx="1449.1" cy="314.9" r="7.2" fill="#999"/>
<circle cx="1449.1" cy="350.0" r="7.2" fill="#999"/>
<circle cx="1449.1" cy="361.4" r="7.2" fill="#999"/>
<circle cx="1449.1" cy="436.6" r="7.2" fill="#999"/>
<circle cx="1513.7" cy="262.3" r="7.2" fill="#000"/>
<circle cx="1513.7" cy="268.6" r="7.2" fill="#000"/>
<circle cx="1513.7" cy="281.4" r="7.2" fill="#000"/>
<circle cx="1513.7" cy="287.1" r="7.2" fill="#000"/>
<circle cx="1513.7" cy="292.9" r="7.2" fill="#000"/>
<circle cx="1513.7" cy="298.6" r="7.2" fill="#000"/>
<circle cx="1513.7" cy="304.3" r="7.2" fill="#000"/>
<circle cx="1513.7" cy="310.0" r="7.2" fill="#000"/>
<circle cx="1513.7" cy="315.7" r="7.2" fill="#000"/>
<circle cx="1513.7" cy="324.3" r="7.2" fill="#000"/>
<circle cx="1513.7" cy="338.6" r="7.2" fill="#000"/>
<g transform="rotate(0 1595.7 57.8)">
<g filter="url(#bl4)"><ellipse cx="1576.7" cy="57.8" rx="25.5" ry="8.9" fill="url(#tailg)"/></g>
<g filter="url(#bl05)"><rect x="1573.2" y="49.4" width="43.0" height="16.8" rx="8.4" fill="#050505"/><ellipse cx="1614.7" cy="57.8" rx="6" ry="6.3" fill="#080808"/></g>
<line x1="1595.7" y1="50.8" x2="1586.7" y2="44.8" stroke="#111" stroke-width="1.1" stroke-linecap="butt"/>
<line x1="1600.7" y1="50.8" x2="1602.7" y2="41.8" stroke="#111" stroke-width="1.1" stroke-linecap="butt"/>
<line x1="1611.7" y1="51.8" x2="1618.7" y2="48.8" stroke="#111" stroke-width="1.1" stroke-linecap="butt"/>
<line x1="1591.7" y1="64.8" x2="1582.7" y2="72.8" stroke="#111" stroke-width="1.1" stroke-linecap="butt"/>
<line x1="1600.7" y1="64.8" x2="1601.7" y2="76.8" stroke="#111" stroke-width="1.1" stroke-linecap="butt"/>
<line x1="1610.7" y1="63.8" x2="1614.7" y2="68.8" stroke="#111" stroke-width="1.1" stroke-linecap="butt"/>
</g>
<g transform="rotate(-20 1662.7 62.2)">
<g filter="url(#bl4)"><ellipse cx="1643.7" cy="62.2" rx="28" ry="10.5" fill="url(#tailg)"/></g>
<g filter="url(#bl05)"><rect x="1637.7" y="52.2" width="48.0" height="20.0" rx="10" fill="#050505"/><ellipse cx="1684.2" cy="62.2" rx="6" ry="6.3" fill="#080808"/></g>
<line x1="1662.7" y1="55.2" x2="1653.7" y2="49.2" stroke="#111" stroke-width="1.1" stroke-linecap="butt"/>
<line x1="1667.7" y1="55.2" x2="1669.7" y2="46.2" stroke="#111" stroke-width="1.1" stroke-linecap="butt"/>
<line x1="1678.7" y1="56.2" x2="1685.7" y2="53.2" stroke="#111" stroke-width="1.1" stroke-linecap="butt"/>
<line x1="1658.7" y1="69.2" x2="1649.7" y2="77.2" stroke="#111" stroke-width="1.1" stroke-linecap="butt"/>
<line x1="1667.7" y1="69.2" x2="1668.7" y2="81.2" stroke="#111" stroke-width="1.1" stroke-linecap="butt"/>
<line x1="1677.7" y1="68.2" x2="1681.7" y2="73.2" stroke="#111" stroke-width="1.1" stroke-linecap="butt"/>
</g>
<g filter="url(#bl05)">
<ellipse cx="1583.5" cy="268.4" rx="18.6" ry="9" fill="#bcbcbc" transform="rotate(14 1583.5 268.4)"/>
<ellipse cx="1596.3" cy="296.9" rx="17.5" ry="7.6" fill="#c2c2c2" transform="rotate(-48 1596.3 296.9)"/>
<ellipse cx="1607.2" cy="280.7" rx="20.5" ry="7.6" fill="#333" transform="rotate(-48 1607.2 280.7)"/>
<circle cx="1620.7" cy="264.0" r="6.6" fill="#363636"/>
<circle cx="1614.2" cy="271.5" r="7.2" fill="#333"/>
</g>
<line x1="1602.2" y1="267.5" x2="1595.2" y2="256.5" stroke="#aaa" stroke-width="0.8" stroke-linecap="butt"/>
<line x1="1617.2" y1="282.5" x2="1628.2" y2="288.5" stroke="#aaa" stroke-width="0.8" stroke-linecap="butt"/>
<line x1="1606.2" y1="294.5" x2="1604.2" y2="307.5" stroke="#aaa" stroke-width="0.8" stroke-linecap="butt"/>
<line x1="1623.2" y1="268.5" x2="1630.2" y2="264.5" stroke="#aaa" stroke-width="0.8" stroke-linecap="butt"/>
<path d="M1696,88.6 H1701.4 V221.4 H1696" stroke="#000" stroke-width="2" fill="none"/>
<text x="1692.5" y="97.1" font-size="24.8" text-anchor="end">60</text>
<text x="1692.5" y="229.9" font-size="24.8" text-anchor="end">0</text>
<line x1="1707.0" y1="82.9" x2="1828.6" y2="82.9" stroke="#000" stroke-width="2" stroke-linecap="butt"/>
<text x="1768.6" y="84.4" font-size="28" text-anchor="middle">****</text>
<text x="1627.1" y="155.0" font-size="24.8" text-anchor="middle" transform="rotate(-90 1627.1 155.0)">Time</text>
<text x="1654.3" y="156.0" font-size="24.8" text-anchor="middle" transform="rotate(-90 1654.3 156.0)">pursuing (%)</text>
<line x1="1710.6" y1="201.4" x2="1824.3" y2="136.3" stroke="#999" stroke-width="2.4" stroke-linecap="butt"/>
<line x1="1710.6" y1="204.3" x2="1824.3" y2="142.9" stroke="#999" stroke-width="2.4" stroke-linecap="butt"/>
<line x1="1710.6" y1="205.7" x2="1824.3" y2="152.9" stroke="#999" stroke-width="2.4" stroke-linecap="butt"/>
<line x1="1710.6" y1="203.4" x2="1824.3" y2="160.6" stroke="#999" stroke-width="2.4" stroke-linecap="butt"/>
<line x1="1710.6" y1="208.6" x2="1824.3" y2="171.4" stroke="#999" stroke-width="2.4" stroke-linecap="butt"/>
<line x1="1710.6" y1="207.1" x2="1824.3" y2="174.3" stroke="#999" stroke-width="2.4" stroke-linecap="butt"/>
<line x1="1710.6" y1="210.0" x2="1824.3" y2="178.6" stroke="#999" stroke-width="2.4" stroke-linecap="butt"/>
<line x1="1710.6" y1="208.0" x2="1824.3" y2="185.7" stroke="#999" stroke-width="2.4" stroke-linecap="butt"/>
<line x1="1710.6" y1="211.4" x2="1824.3" y2="188.6" stroke="#999" stroke-width="2.4" stroke-linecap="butt"/>
<line x1="1710.6" y1="212.9" x2="1824.3" y2="191.4" stroke="#999" stroke-width="2.4" stroke-linecap="butt"/>
<line x1="1710.6" y1="210.9" x2="1824.3" y2="194.3" stroke="#999" stroke-width="2.4" stroke-linecap="butt"/>
<line x1="1710.6" y1="214.3" x2="1824.3" y2="197.1" stroke="#999" stroke-width="2.4" stroke-linecap="butt"/>
<line x1="1710.6" y1="212.0" x2="1824.3" y2="200.0" stroke="#999" stroke-width="2.4" stroke-linecap="butt"/>
<line x1="1710.6" y1="215.7" x2="1824.3" y2="202.9" stroke="#999" stroke-width="2.4" stroke-linecap="butt"/>
<line x1="1710.6" y1="213.7" x2="1824.3" y2="211.4" stroke="#999" stroke-width="2.4" stroke-linecap="butt"/>
<line x1="1710.6" y1="218.6" x2="1824.3" y2="218.6" stroke="#999" stroke-width="2.4" stroke-linecap="butt"/>
<line x1="1710.6" y1="206.3" x2="1824.3" y2="172.9" stroke="#999" stroke-width="2.4" stroke-linecap="butt"/>
<line x1="1710.6" y1="209.4" x2="1824.3" y2="187.1" stroke="#999" stroke-width="2.4" stroke-linecap="butt"/>
<line x1="1710.6" y1="212.9" x2="1824.3" y2="198.6" stroke="#999" stroke-width="2.4" stroke-linecap="butt"/>
<path d="M1696,295.7 H1701.4 V448.6 H1696" stroke="#000" stroke-width="2" fill="none"/>
<text x="1692.5" y="304.2" font-size="24.8" text-anchor="end">20</text>
<text x="1692.5" y="457.1" font-size="24.8" text-anchor="end">0</text>
<line x1="1707.0" y1="285.1" x2="1828.6" y2="285.1" stroke="#000" stroke-width="2" stroke-linecap="butt"/>
<text x="1768.6" y="286.6" font-size="28" text-anchor="middle">****</text>
<text x="1627.1" y="372.1" font-size="24.8" text-anchor="middle" transform="rotate(-90 1627.1 372.1)">Time</text>
<text x="1654.3" y="373.1" font-size="24.8" text-anchor="middle" transform="rotate(-90 1654.3 373.1)">extending wing (%)</text>
<line x1="1710.6" y1="440.0" x2="1824.3" y2="294.3" stroke="#000" stroke-width="2.6" stroke-linecap="butt"/>
<line x1="1710.6" y1="441.4" x2="1824.3" y2="309.1" stroke="#000" stroke-width="2.6" stroke-linecap="butt"/>
<line x1="1710.6" y1="442.3" x2="1824.3" y2="349.1" stroke="#000" stroke-width="2.6" stroke-linecap="butt"/>
<line x1="1710.6" y1="442.9" x2="1824.3" y2="350.9" stroke="#000" stroke-width="2.6" stroke-linecap="butt"/>
<line x1="1710.6" y1="443.4" x2="1824.3" y2="374.3" stroke="#000" stroke-width="2.6" stroke-linecap="butt"/>
<line x1="1710.6" y1="444.3" x2="1824.3" y2="407.1" stroke="#000" stroke-width="2.6" stroke-linecap="butt"/>
<line x1="1710.6" y1="444.6" x2="1824.3" y2="414.3" stroke="#000" stroke-width="2.6" stroke-linecap="butt"/>
<line x1="1710.6" y1="445.1" x2="1824.3" y2="420.0" stroke="#000" stroke-width="2.6" stroke-linecap="butt"/>
<line x1="1710.6" y1="445.4" x2="1824.3" y2="422.9" stroke="#000" stroke-width="2.6" stroke-linecap="butt"/>
<line x1="1710.6" y1="445.7" x2="1824.3" y2="425.7" stroke="#000" stroke-width="2.6" stroke-linecap="butt"/>
<line x1="1710.6" y1="446.0" x2="1824.3" y2="428.6" stroke="#000" stroke-width="2.6" stroke-linecap="butt"/>
<line x1="1710.6" y1="446.3" x2="1824.3" y2="432.9" stroke="#000" stroke-width="2.6" stroke-linecap="butt"/>
<line x1="1710.6" y1="446.6" x2="1824.3" y2="437.1" stroke="#000" stroke-width="2.6" stroke-linecap="butt"/>
<line x1="1710.6" y1="446.9" x2="1824.3" y2="440.0" stroke="#000" stroke-width="2.6" stroke-linecap="butt"/>
<line x1="1710.6" y1="447.1" x2="1824.3" y2="444.3" stroke="#000" stroke-width="2.6" stroke-linecap="butt"/>
<text x="1709.8" y="476.6" font-size="24.8" text-anchor="middle">Pre</text>
<text x="1821.5" y="476.6" font-size="24.8" text-anchor="middle">Stim</text>
<rect x="1964.7" y="50.4" width="83.2" height="427.8" fill="#e6e6e6"/>
<path d="M1892.5,51.8 H1898 V264.1 H1892.5" stroke="#000" stroke-width="2" fill="none"/>
<text x="1888.0" y="60.3" font-size="24.8" text-anchor="end">0.50</text>
<text x="1888.0" y="272.6" font-size="24.8" text-anchor="end">0</text>
<text x="1887.5" y="158.9" font-size="24.8" text-anchor="middle" transform="rotate(-90 1887.5 158.9)">Fraction</text>
<path d="M1892.5,301.8 H1898 V478.2 H1892.5" stroke="#000" stroke-width="2" fill="none"/>
<text x="1888.0" y="310.3" font-size="24.8" text-anchor="end">0.15</text>
<text x="1888.0" y="486.7" font-size="24.8" text-anchor="end">0</text>
<text x="1887.5" y="391.0" font-size="24.8" text-anchor="middle" transform="rotate(-90 1887.5 391.0)">Fraction</text>
<text x="2077.7" y="505.8" font-size="24.8">30 s</text>
<line x1="2091.5" y1="514.6" x2="2109.4" y2="514.6" stroke="#000" stroke-width="2" stroke-linecap="butt"/>
<path d="M1898.0,243.9 C1898.6,244.4 1900.0,246.4 1901.3,246.1 C1902.6,245.9 1903.2,246.6 1904.6,242.6 C1906.0,238.5 1907.0,225.5 1908.4,226.0 C1909.9,226.6 1910.4,239.9 1911.8,245.3 C1913.1,250.7 1913.6,254.0 1915.1,253.0 C1916.5,252.0 1917.5,242.4 1919.2,240.4 C1920.8,238.3 1921.6,238.5 1923.3,242.6 C1925.1,246.6 1926.3,260.7 1928.0,260.5 C1929.8,260.2 1930.6,243.4 1932.1,241.2 C1933.7,239.0 1934.2,248.3 1935.7,249.4 C1937.3,250.6 1938.2,246.3 1939.9,246.7 C1941.5,247.1 1942.5,251.9 1944.0,251.4 C1945.5,250.8 1945.9,243.8 1947.3,243.9 C1948.7,244.1 1949.5,250.8 1950.9,252.2 C1952.3,253.6 1952.9,249.9 1954.2,250.8 C1955.5,251.8 1956.0,256.9 1957.2,256.9 C1958.5,256.9 1959.4,252.3 1960.5,250.8 C1961.7,249.3 1962.0,252.5 1963.0,249.4 C1964.0,246.4 1964.2,235.1 1965.5,235.7 C1966.8,236.2 1968.3,250.8 1969.6,252.2 C1971.0,253.6 1971.2,257.7 1972.1,242.6 C1973.1,227.4 1973.5,195.4 1974.3,176.4 C1975.1,157.4 1975.3,149.9 1976.3,147.5 C1977.2,145.0 1977.5,172.8 1979.0,164.0 C1980.6,155.2 1982.1,103.1 1984.0,103.4 C1985.8,103.6 1986.9,150.8 1988.1,165.4 C1989.3,180.0 1988.9,168.4 1990.0,176.4 C1991.1,184.4 1991.8,215.8 1993.6,205.3 C1995.4,194.9 1997.1,129.8 1999.1,124.0 C2001.2,118.2 2001.9,160.1 2003.8,176.4 C2005.7,192.7 2007.0,205.6 2008.8,205.3 C2010.6,205.1 2011.7,180.0 2012.9,175.0 C2014.1,170.1 2014.0,184.7 2014.8,180.5 C2015.7,176.4 2015.8,151.0 2017.0,154.4 C2018.3,157.7 2020.0,189.6 2021.2,197.1 C2022.4,204.5 2022.0,188.8 2023.1,191.6 C2024.2,194.3 2025.4,207.3 2026.7,210.9 C2028.0,214.4 2028.2,207.3 2029.4,209.5 C2030.7,211.7 2031.0,227.7 2032.8,221.9 C2034.5,216.1 2036.6,184.1 2038.3,180.5 C2040.0,177.0 2039.9,201.8 2041.3,204.0 C2042.7,206.2 2043.5,190.7 2045.2,191.6 C2046.8,192.4 2047.9,200.7 2049.6,208.1 C2051.2,215.5 2051.7,231.5 2053.4,228.8 C2055.2,226.0 2056.8,200.9 2058.4,194.3 C2059.9,187.7 2059.8,198.2 2061.1,195.7 C2062.5,193.2 2064.1,185.0 2065.3,181.9 C2066.5,178.9 2066.2,183.5 2067.2,180.5 C2068.2,177.6 2068.8,165.7 2070.2,167.3 C2071.7,169.0 2073.2,183.7 2074.4,188.8 C2075.6,193.9 2074.9,186.3 2076.3,192.9 C2077.7,199.6 2079.7,218.3 2081.3,221.9 C2082.8,225.5 2083.0,213.6 2084.0,210.9 C2085.1,208.1 2085.2,214.7 2086.5,208.1 C2087.8,201.5 2089.0,180.3 2090.4,177.8 C2091.7,175.3 2091.4,203.9 2093.1,195.7 C2094.8,187.5 2097.0,138.4 2098.9,137.0 C2100.8,135.6 2101.0,184.6 2102.5,188.8 C2104.0,193.0 2104.9,158.2 2106.4,157.9 C2107.8,157.7 2108.5,182.9 2109.9,187.4 C2111.4,192.0 2112.1,179.2 2113.5,180.5 C2114.9,181.9 2115.4,195.1 2116.8,194.3 C2118.2,193.5 2119.0,180.8 2120.4,176.4 C2121.8,172.0 2123.3,173.1 2124.0,172.3" stroke="#999" stroke-width="2.4" fill="none" stroke-linejoin="round"/>
<path d="M1898.0,476.8 C1898.6,476.4 1900.0,474.5 1901.3,474.6 C1902.6,474.8 1903.2,476.7 1904.6,477.4 C1906.0,478.1 1906.6,478.8 1908.2,478.2 C1909.7,477.7 1910.7,474.6 1912.3,474.6 C1914.0,474.6 1914.8,477.9 1916.4,478.2 C1918.1,478.5 1918.9,476.1 1920.6,476.0 C1922.2,475.9 1922.8,477.6 1924.7,477.7 C1926.6,477.8 1928.3,476.8 1930.2,476.6 C1932.1,476.3 1932.7,476.0 1934.4,476.3 C1936.0,476.6 1936.3,478.1 1938.5,478.2 C1940.7,478.3 1942.9,476.8 1945.4,476.8 C1947.9,476.8 1949.0,478.4 1950.9,478.2 C1952.8,478.1 1953.6,476.1 1955.0,476.0 C1956.4,476.0 1956.7,477.9 1957.8,477.9 C1958.9,477.9 1959.2,476.1 1960.5,476.0 C1961.9,476.0 1963.0,477.3 1964.7,477.7 C1966.3,478.1 1967.2,478.2 1968.8,477.9 C1970.5,477.7 1971.7,478.7 1972.9,476.3 C1974.2,473.9 1974.3,477.3 1975.1,465.8 C1976.0,454.4 1976.4,431.6 1977.1,419.0 C1977.8,406.3 1977.7,400.2 1978.7,402.4 C1979.7,404.6 1980.9,426.7 1982.0,430.0 C1983.2,433.3 1983.3,416.3 1984.5,419.0 C1985.7,421.6 1986.6,448.1 1988.1,443.2 C1989.6,438.4 1991.0,403.7 1992.2,394.7 C1993.5,385.7 1993.5,401.7 1994.4,398.3 C1995.4,394.9 1996.0,392.8 1996.9,377.6 C1997.9,362.5 1998.3,336.5 1999.1,322.5 C2000.0,308.4 2000.2,307.9 2001.1,307.3 C2001.9,306.8 2002.2,305.4 2003.3,319.7 C2004.4,334.1 2005.0,366.0 2006.6,379.0 C2008.1,392.0 2009.7,384.0 2011.0,384.5 C2012.2,385.1 2012.1,385.9 2012.9,381.8 C2013.7,377.6 2014.3,363.0 2015.1,363.8 C2015.9,364.7 2016.2,377.5 2017.0,385.9 C2017.9,394.3 2018.1,414.0 2019.3,405.7 C2020.4,397.5 2021.5,360.5 2022.6,344.5 C2023.6,328.6 2023.7,323.9 2024.5,326.1 C2025.3,328.3 2025.9,343.6 2026.7,355.6 C2027.5,367.5 2027.5,379.3 2028.6,385.9 C2029.7,392.5 2030.9,385.6 2032.2,388.6 C2033.5,391.7 2033.9,404.6 2035.0,401.0 C2036.1,397.5 2036.4,368.0 2037.7,370.7 C2039.0,373.5 2040.0,408.5 2041.3,414.8 C2042.6,421.2 2043.0,417.6 2044.1,402.4 C2045.2,387.3 2046.0,355.0 2046.8,339.0 C2047.6,323.0 2047.5,317.0 2048.2,322.5 C2048.9,328.0 2049.3,344.0 2050.1,366.6 C2050.9,389.2 2051.2,417.3 2052.3,435.5 C2053.4,453.7 2054.6,451.5 2055.6,457.6 C2056.7,463.6 2056.7,465.5 2057.6,465.8 C2058.4,466.1 2058.8,455.6 2059.8,458.9 C2060.8,462.2 2061.1,477.9 2062.5,482.4 C2063.9,486.8 2065.3,484.3 2066.7,481.0 C2068.0,477.7 2068.4,472.6 2069.4,465.8 C2070.4,459.0 2070.6,444.9 2071.6,447.1 C2072.6,449.3 2073.2,470.1 2074.4,476.8 C2075.6,483.6 2076.5,480.7 2077.7,481.0 C2078.9,481.3 2079.3,477.9 2080.4,478.2 C2081.5,478.5 2082.1,485.4 2083.2,482.4 C2084.3,479.3 2084.7,466.4 2086.0,463.1 C2087.2,459.8 2088.0,466.4 2089.3,465.8 C2090.5,465.3 2091.0,464.7 2092.3,460.3 C2093.6,455.9 2094.3,449.4 2095.6,443.8 C2096.9,438.1 2097.6,432.2 2098.9,432.2 C2100.2,432.2 2100.8,440.1 2101.9,443.8 C2103.1,447.5 2103.5,455.1 2104.7,450.7 C2105.9,446.3 2107.0,430.1 2108.0,421.7 C2109.0,413.3 2108.9,406.6 2109.7,408.8 C2110.4,411.0 2111.0,423.5 2111.9,432.7 C2112.7,442.0 2113.1,448.2 2114.1,454.8 C2115.1,461.4 2115.6,465.8 2116.8,465.8 C2118.1,465.8 2119.0,454.8 2120.4,454.8 C2121.8,454.8 2123.3,463.6 2124.0,465.8" stroke="#000" stroke-width="2.4" fill="none" stroke-linejoin="round"/>
<text x="-9.9" y="8.0" font-size="62" font-weight="200" style="font-family:'DejaVu Sans',sans-serif" transform="translate(1338.6 552.9) translate(8.0 -8.0) rotate(-15) scale(0.95) translate(-8.0 8.0)">♂</text>
<text x="1367.7" y="552.9" font-size="24.8">Dsx<tspan style="font-family:'Noto Sans CJK JP',sans-serif" font-size="0.9em" dx="-2.5" letter-spacing="-3.6">∩</tspan>P1&gt; CsChrimson</text>
<circle cx="1479.4" cy="622.9" r="53.7" fill="#fff" stroke="#000" stroke-width="2.2"/>
<text x="1445.7" y="609.2" font-size="24.8">mel</text>
<text x="-13.5" y="6.3" font-size="58.6" font-weight="200" style="font-family:'DejaVu Sans',sans-serif" transform="translate(1494.0 611.7)">♀</text>
<text x="1443.7" y="651.5" font-size="24.8">yak</text>
<text x="-9.9" y="8.0" font-size="62" font-weight="200" style="font-family:'DejaVu Sans',sans-serif" transform="translate(1491.5 654.5) translate(8.0 -8.0) rotate(-15) scale(0.95) translate(-8.0 8.0)">♂</text>
<path d="M1417.7,733.7 H1422.9 V962.9 H1417.7 M1417.7,810.6 H1422.9 M1417.7,886.6 H1422.9" stroke="#000" stroke-width="2" fill="none"/>
<text x="1414.0" y="742.7" font-size="24.8" text-anchor="end">10<tspan font-size="16" dy="-9">2</tspan></text>
<text x="1414.0" y="819.6" font-size="24.8" text-anchor="end">10<tspan font-size="16" dy="-9">1</tspan></text>
<text x="1414.0" y="895.6" font-size="24.8" text-anchor="end">10<tspan font-size="16" dy="-9">0</tspan></text>
<text x="1414.0" y="971.9" font-size="24.8" text-anchor="end">10<tspan font-size="16" dy="-9">−1</tspan></text>
<text x="1355.7" y="849.3" font-size="24.8" text-anchor="middle" transform="rotate(-90 1355.7 849.3)">Average bout length (s)</text>
<text x="1449.1" y="1002.3" font-size="24.8" text-anchor="middle">Pre</text>
<text x="1513.7" y="1002.3" font-size="24.8" text-anchor="middle">Stim</text>
<path d="M1448.6,834.3 V750.0 H1514.3 V764.3" stroke="#000" stroke-width="2" fill="none"/>
<text x="1481.4" y="753.5" font-size="28" text-anchor="middle">****</text>
<line x1="1449.1" y1="848.6" x2="1513.7" y2="778.6" stroke="#d9d9d9" stroke-width="2" stroke-linecap="butt"/>
<line x1="1449.1" y1="862.9" x2="1513.7" y2="794.3" stroke="#d9d9d9" stroke-width="2" stroke-linecap="butt"/>
<line x1="1449.1" y1="962.3" x2="1513.7" y2="801.4" stroke="#d9d9d9" stroke-width="2" stroke-linecap="butt"/>
<line x1="1449.1" y1="962.3" x2="1513.7" y2="807.1" stroke="#d9d9d9" stroke-width="2" stroke-linecap="butt"/>
<line x1="1449.1" y1="962.3" x2="1513.7" y2="812.9" stroke="#d9d9d9" stroke-width="2" stroke-linecap="butt"/>
<line x1="1449.1" y1="962.3" x2="1513.7" y2="818.6" stroke="#d9d9d9" stroke-width="2" stroke-linecap="butt"/>
<line x1="1449.1" y1="962.3" x2="1513.7" y2="824.3" stroke="#d9d9d9" stroke-width="2" stroke-linecap="butt"/>
<line x1="1449.1" y1="962.3" x2="1513.7" y2="830.0" stroke="#d9d9d9" stroke-width="2" stroke-linecap="butt"/>
<line x1="1449.1" y1="962.3" x2="1513.7" y2="835.7" stroke="#d9d9d9" stroke-width="2" stroke-linecap="butt"/>
<line x1="1449.1" y1="962.3" x2="1513.7" y2="841.4" stroke="#d9d9d9" stroke-width="2" stroke-linecap="butt"/>
<line x1="1449.1" y1="962.3" x2="1513.7" y2="848.6" stroke="#d9d9d9" stroke-width="2" stroke-linecap="butt"/>
<line x1="1449.1" y1="848.6" x2="1513.7" y2="794.3" stroke="#d9d9d9" stroke-width="2" stroke-linecap="butt"/>
<line x1="1449.1" y1="862.9" x2="1513.7" y2="807.1" stroke="#d9d9d9" stroke-width="2" stroke-linecap="butt"/>
<circle cx="1449.1" cy="848.6" r="7.2" fill="#999"/>
<circle cx="1449.1" cy="862.9" r="7.2" fill="#999"/>
<circle cx="1449.1" cy="962.3" r="7.2" fill="#999"/>
<circle cx="1513.7" cy="778.6" r="7.2" fill="#000"/>
<circle cx="1513.7" cy="794.3" r="7.2" fill="#000"/>
<circle cx="1513.7" cy="801.4" r="7.2" fill="#000"/>
<circle cx="1513.7" cy="807.1" r="7.2" fill="#000"/>
<circle cx="1513.7" cy="812.9" r="7.2" fill="#000"/>
<circle cx="1513.7" cy="818.6" r="7.2" fill="#000"/>
<circle cx="1513.7" cy="824.3" r="7.2" fill="#000"/>
<circle cx="1513.7" cy="830.0" r="7.2" fill="#000"/>
<circle cx="1513.7" cy="835.7" r="7.2" fill="#000"/>
<circle cx="1513.7" cy="841.4" r="7.2" fill="#000"/>
<circle cx="1513.7" cy="848.6" r="7.2" fill="#000"/>
<g transform="rotate(0 1595.7 583.5)">
<g filter="url(#bl4)"><ellipse cx="1576.7" cy="583.5" rx="25.5" ry="8.9" fill="url(#tailg)"/></g>
<g filter="url(#bl05)"><rect x="1573.2" y="575.1" width="43.0" height="16.8" rx="8.4" fill="#050505"/><ellipse cx="1614.7" cy="583.5" rx="6" ry="6.3" fill="#080808"/></g>
<line x1="1595.7" y1="576.5" x2="1586.7" y2="570.5" stroke="#111" stroke-width="1.1" stroke-linecap="butt"/>
<line x1="1600.7" y1="576.5" x2="1602.7" y2="567.5" stroke="#111" stroke-width="1.1" stroke-linecap="butt"/>
<line x1="1611.7" y1="577.5" x2="1618.7" y2="574.5" stroke="#111" stroke-width="1.1" stroke-linecap="butt"/>
<line x1="1591.7" y1="590.5" x2="1582.7" y2="598.5" stroke="#111" stroke-width="1.1" stroke-linecap="butt"/>
<line x1="1600.7" y1="590.5" x2="1601.7" y2="602.5" stroke="#111" stroke-width="1.1" stroke-linecap="butt"/>
<line x1="1610.7" y1="589.5" x2="1614.7" y2="594.5" stroke="#111" stroke-width="1.1" stroke-linecap="butt"/>
</g>
<g transform="rotate(-20 1662.7 587.9)">
<g filter="url(#bl4)"><ellipse cx="1643.7" cy="587.9" rx="28" ry="10.5" fill="url(#tailg)"/></g>
<g filter="url(#bl05)"><rect x="1637.7" y="577.9" width="48.0" height="20.0" rx="10" fill="#050505"/><ellipse cx="1684.2" cy="587.9" rx="6" ry="6.3" fill="#080808"/></g>
<line x1="1662.7" y1="580.9" x2="1653.7" y2="574.9" stroke="#111" stroke-width="1.1" stroke-linecap="butt"/>
<line x1="1667.7" y1="580.9" x2="1669.7" y2="571.9" stroke="#111" stroke-width="1.1" stroke-linecap="butt"/>
<line x1="1678.7" y1="581.9" x2="1685.7" y2="578.9" stroke="#111" stroke-width="1.1" stroke-linecap="butt"/>
<line x1="1658.7" y1="594.9" x2="1649.7" y2="602.9" stroke="#111" stroke-width="1.1" stroke-linecap="butt"/>
<line x1="1667.7" y1="594.9" x2="1668.7" y2="606.9" stroke="#111" stroke-width="1.1" stroke-linecap="butt"/>
<line x1="1677.7" y1="593.9" x2="1681.7" y2="598.9" stroke="#111" stroke-width="1.1" stroke-linecap="butt"/>
</g>
<g filter="url(#bl05)">
<ellipse cx="1583.5" cy="797.0" rx="18.6" ry="9" fill="#bcbcbc" transform="rotate(14 1583.5 797.0)"/>
<ellipse cx="1596.3" cy="825.5" rx="17.5" ry="7.6" fill="#c2c2c2" transform="rotate(-48 1596.3 825.5)"/>
<ellipse cx="1607.2" cy="809.3" rx="20.5" ry="7.6" fill="#333" transform="rotate(-48 1607.2 809.3)"/>
<circle cx="1620.7" cy="792.6" r="6.6" fill="#363636"/>
<circle cx="1614.2" cy="800.1" r="7.2" fill="#333"/>
</g>
<line x1="1602.2" y1="796.1" x2="1595.2" y2="785.1" stroke="#aaa" stroke-width="0.8" stroke-linecap="butt"/>
<line x1="1617.2" y1="811.1" x2="1628.2" y2="817.1" stroke="#aaa" stroke-width="0.8" stroke-linecap="butt"/>
<line x1="1606.2" y1="823.1" x2="1604.2" y2="836.1" stroke="#aaa" stroke-width="0.8" stroke-linecap="butt"/>
<line x1="1623.2" y1="797.1" x2="1630.2" y2="793.1" stroke="#aaa" stroke-width="0.8" stroke-linecap="butt"/>
<path d="M1696,616.3 H1701.4 V749.4 H1696" stroke="#000" stroke-width="2" fill="none"/>
<text x="1692.5" y="624.8" font-size="24.8" text-anchor="end">60</text>
<text x="1692.5" y="757.9" font-size="24.8" text-anchor="end">0</text>
<line x1="1707.0" y1="578.6" x2="1831.5" y2="578.6" stroke="#000" stroke-width="2" stroke-linecap="butt"/>
<text x="1768.6" y="580.1" font-size="28" text-anchor="middle">****</text>
<text x="1627.1" y="682.9" font-size="24.8" text-anchor="middle" transform="rotate(-90 1627.1 682.9)">Time</text>
<text x="1654.3" y="683.9" font-size="24.8" text-anchor="middle" transform="rotate(-90 1654.3 683.9)">pursuing (%)</text>
<line x1="1710.6" y1="738.6" x2="1828.6" y2="581.4" stroke="#999" stroke-width="2.4" stroke-linecap="butt"/>
<line x1="1710.6" y1="740.0" x2="1828.6" y2="640.0" stroke="#999" stroke-width="2.4" stroke-linecap="butt"/>
<line x1="1710.6" y1="741.4" x2="1828.6" y2="653.7" stroke="#999" stroke-width="2.4" stroke-linecap="butt"/>
<line x1="1710.6" y1="740.6" x2="1828.6" y2="657.1" stroke="#999" stroke-width="2.4" stroke-linecap="butt"/>
<line x1="1710.6" y1="742.9" x2="1828.6" y2="660.0" stroke="#999" stroke-width="2.4" stroke-linecap="butt"/>
<line x1="1710.6" y1="742.3" x2="1828.6" y2="664.3" stroke="#999" stroke-width="2.4" stroke-linecap="butt"/>
<line x1="1710.6" y1="743.4" x2="1828.6" y2="668.6" stroke="#999" stroke-width="2.4" stroke-linecap="butt"/>
<line x1="1710.6" y1="744.3" x2="1828.6" y2="672.9" stroke="#999" stroke-width="2.4" stroke-linecap="butt"/>
<line x1="1710.6" y1="741.7" x2="1828.6" y2="677.1" stroke="#999" stroke-width="2.4" stroke-linecap="butt"/>
<line x1="1710.6" y1="745.1" x2="1828.6" y2="690.0" stroke="#999" stroke-width="2.4" stroke-linecap="butt"/>
<line x1="1710.6" y1="745.7" x2="1828.6" y2="701.4" stroke="#999" stroke-width="2.4" stroke-linecap="butt"/>
<line x1="1710.6" y1="743.7" x2="1828.6" y2="704.3" stroke="#999" stroke-width="2.4" stroke-linecap="butt"/>
<line x1="1710.6" y1="746.3" x2="1828.6" y2="707.1" stroke="#999" stroke-width="2.4" stroke-linecap="butt"/>
<line x1="1710.6" y1="744.6" x2="1828.6" y2="710.0" stroke="#999" stroke-width="2.4" stroke-linecap="butt"/>
<line x1="1710.6" y1="746.9" x2="1828.6" y2="712.9" stroke="#999" stroke-width="2.4" stroke-linecap="butt"/>
<line x1="1710.6" y1="745.4" x2="1828.6" y2="717.1" stroke="#999" stroke-width="2.4" stroke-linecap="butt"/>
<line x1="1710.6" y1="747.1" x2="1828.6" y2="720.0" stroke="#999" stroke-width="2.4" stroke-linecap="butt"/>
<line x1="1710.6" y1="746.0" x2="1828.6" y2="725.7" stroke="#999" stroke-width="2.4" stroke-linecap="butt"/>
<line x1="1710.6" y1="746.6" x2="1828.6" y2="731.4" stroke="#999" stroke-width="2.4" stroke-linecap="butt"/>
<line x1="1710.6" y1="725.7" x2="1828.6" y2="736.3" stroke="#999" stroke-width="2.4" stroke-linecap="butt"/>
<path d="M1696,820.9 H1701.4 V974.3 H1696" stroke="#000" stroke-width="2" fill="none"/>
<text x="1692.5" y="829.4" font-size="24.8" text-anchor="end">20</text>
<text x="1692.5" y="982.8" font-size="24.8" text-anchor="end">0</text>
<line x1="1707.0" y1="806.6" x2="1831.5" y2="806.6" stroke="#000" stroke-width="2" stroke-linecap="butt"/>
<text x="1768.6" y="808.1" font-size="28" text-anchor="middle">****</text>
<text x="1627.1" y="897.6" font-size="24.8" text-anchor="middle" transform="rotate(-90 1627.1 897.6)">Time</text>
<text x="1654.3" y="898.6" font-size="24.8" text-anchor="middle" transform="rotate(-90 1654.3 898.6)">extending wing (%)</text>
<line x1="1710.6" y1="965.7" x2="1828.6" y2="870.0" stroke="#000" stroke-width="2.6" stroke-linecap="butt"/>
<line x1="1710.6" y1="966.6" x2="1828.6" y2="893.4" stroke="#000" stroke-width="2.6" stroke-linecap="butt"/>
<line x1="1710.6" y1="967.1" x2="1828.6" y2="902.0" stroke="#000" stroke-width="2.6" stroke-linecap="butt"/>
<line x1="1710.6" y1="968.0" x2="1828.6" y2="928.6" stroke="#000" stroke-width="2.6" stroke-linecap="butt"/>
<line x1="1710.6" y1="968.6" x2="1828.6" y2="930.6" stroke="#000" stroke-width="2.6" stroke-linecap="butt"/>
<line x1="1710.6" y1="969.1" x2="1828.6" y2="945.7" stroke="#000" stroke-width="2.6" stroke-linecap="butt"/>
<line x1="1710.6" y1="969.7" x2="1828.6" y2="948.6" stroke="#000" stroke-width="2.6" stroke-linecap="butt"/>
<line x1="1710.6" y1="970.3" x2="1828.6" y2="952.9" stroke="#000" stroke-width="2.6" stroke-linecap="butt"/>
<line x1="1710.6" y1="970.9" x2="1828.6" y2="955.7" stroke="#000" stroke-width="2.6" stroke-linecap="butt"/>
<line x1="1710.6" y1="971.4" x2="1828.6" y2="958.6" stroke="#000" stroke-width="2.6" stroke-linecap="butt"/>
<line x1="1710.6" y1="972.0" x2="1828.6" y2="961.4" stroke="#000" stroke-width="2.6" stroke-linecap="butt"/>
<line x1="1710.6" y1="972.6" x2="1828.6" y2="964.3" stroke="#000" stroke-width="2.6" stroke-linecap="butt"/>
<line x1="1710.6" y1="973.1" x2="1828.6" y2="967.1" stroke="#000" stroke-width="2.6" stroke-linecap="butt"/>
<line x1="1710.6" y1="973.7" x2="1828.6" y2="970.0" stroke="#000" stroke-width="2.6" stroke-linecap="butt"/>
<line x1="1710.6" y1="974.3" x2="1828.6" y2="972.9" stroke="#000" stroke-width="2.6" stroke-linecap="butt"/>
<text x="1709.8" y="1002.3" font-size="24.8" text-anchor="middle">Pre</text>
<text x="1821.5" y="1002.3" font-size="24.8" text-anchor="middle">Stim</text>
<rect x="1964.7" y="564.9" width="83.2" height="427.8" fill="#e6e6e6"/>
<path d="M1892.5,564.1 H1898 V775.8 H1892.5" stroke="#000" stroke-width="2" fill="none"/>
<text x="1888.0" y="572.6" font-size="24.8" text-anchor="end">0.50</text>
<text x="1888.0" y="784.3" font-size="24.8" text-anchor="end">0</text>
<text x="1887.5" y="670.9" font-size="24.8" text-anchor="middle" transform="rotate(-90 1887.5 670.9)">Fraction</text>
<path d="M1892.5,814.4 H1898 V990.8 H1892.5" stroke="#000" stroke-width="2" fill="none"/>
<text x="1888.0" y="822.9" font-size="24.8" text-anchor="end">0.15</text>
<text x="1888.0" y="999.3" font-size="24.8" text-anchor="end">0</text>
<text x="1887.5" y="903.6" font-size="24.8" text-anchor="middle" transform="rotate(-90 1887.5 903.6)">Fraction</text>
<text x="2077.7" y="1017.5" font-size="24.8">30 s</text>
<line x1="2091.5" y1="1026.3" x2="2109.4" y2="1026.3" stroke="#000" stroke-width="2" stroke-linecap="butt"/>
<path d="M1898.0,755.7 C1898.6,757.3 1900.0,763.1 1901.3,763.9 C1902.6,764.8 1903.3,759.0 1904.6,759.8 C1905.9,760.6 1906.6,767.2 1907.6,768.1 C1908.6,768.9 1908.3,762.6 1909.5,763.9 C1910.8,765.3 1911.9,777.3 1913.7,775.0 C1915.4,772.6 1916.7,753.5 1918.4,752.4 C1920.0,751.3 1920.7,766.6 1922.0,769.4 C1923.2,772.3 1923.6,766.1 1924.7,766.7 C1925.8,767.2 1926.4,773.3 1927.5,772.2 C1928.6,771.1 1929.0,761.0 1930.2,761.2 C1931.5,761.3 1932.1,771.7 1933.8,773.0 C1935.5,774.4 1936.7,768.4 1938.5,768.1 C1940.3,767.7 1941.0,770.3 1942.6,771.4 C1944.3,772.5 1945.4,774.0 1946.8,773.6 C1948.1,773.2 1948.4,772.9 1949.5,769.4 C1950.6,766.0 1950.9,755.4 1952.3,756.5 C1953.6,757.6 1954.8,771.5 1956.4,775.0 C1958.1,778.4 1959.0,774.7 1960.5,773.6 C1962.1,772.5 1962.9,770.6 1964.1,769.4 C1965.4,768.3 1965.8,771.1 1966.9,768.1 C1968.0,765.0 1968.7,755.7 1969.6,754.3 C1970.6,752.9 1970.9,763.9 1971.6,761.2 C1972.2,758.4 1972.3,763.9 1972.9,740.5 C1973.6,717.1 1974.0,677.1 1974.9,644.0 C1975.7,611.0 1976.4,589.7 1977.1,575.1 C1977.8,560.5 1977.7,565.5 1978.5,571.0 C1979.2,576.5 1979.9,594.1 1980.7,602.7 C1981.4,611.2 1981.3,610.4 1982.0,613.7 C1982.8,617.0 1983.5,613.7 1984.5,619.2 C1985.6,624.7 1986.2,630.7 1987.3,641.3 C1988.4,651.9 1988.7,675.7 1990.0,672.1 C1991.4,668.6 1992.7,626.5 1994.2,623.4 C1995.6,620.2 1996.1,646.8 1997.2,656.4 C1998.3,666.1 1998.4,675.2 1999.7,671.6 C2001.0,668.0 2002.5,643.8 2003.8,638.5 C2005.1,633.3 2005.0,639.6 2006.0,645.4 C2007.0,651.2 2007.6,665.0 2008.8,667.5 C2010.0,669.9 2011.0,660.6 2012.1,657.8 C2013.2,655.1 2013.4,657.3 2014.3,653.7 C2015.2,650.1 2015.5,639.1 2016.5,639.9 C2017.5,640.7 2017.9,658.1 2019.3,657.8 C2020.6,657.5 2021.6,631.9 2023.1,638.5 C2024.6,645.1 2025.4,687.0 2026.7,690.9 C2028.0,694.8 2028.3,673.5 2029.4,657.8 C2030.6,642.1 2031.1,616.2 2032.2,612.3 C2033.3,608.5 2034.0,628.8 2035.0,638.5 C2035.9,648.3 2035.8,664.7 2036.9,661.1 C2038.0,657.5 2039.4,624.6 2040.5,620.6 C2041.6,616.6 2041.6,632.7 2042.4,641.3 C2043.2,649.8 2043.6,665.0 2044.6,663.3 C2045.6,661.7 2046.4,639.6 2047.4,633.0 C2048.4,626.4 2048.7,624.2 2049.6,630.3 C2050.4,636.3 2050.6,649.0 2051.5,663.3 C2052.4,677.7 2053.2,691.6 2054.3,701.9 C2055.4,712.3 2055.9,720.7 2057.0,715.1 C2058.1,709.6 2058.8,686.8 2059.8,674.4 C2060.8,662.0 2061.0,650.4 2062.0,653.1 C2062.9,655.9 2063.5,676.2 2064.5,688.1 C2065.4,700.1 2065.4,721.8 2066.7,712.9 C2067.9,704.1 2069.4,650.1 2070.8,644.0 C2072.2,638.0 2072.6,671.9 2073.6,682.6 C2074.5,693.4 2074.7,697.2 2075.8,697.8 C2076.9,698.3 2077.9,686.5 2079.1,685.4 C2080.3,684.3 2080.3,700.3 2081.8,692.3 C2083.3,684.3 2084.9,645.1 2086.5,645.4 C2088.2,645.7 2088.9,683.5 2090.1,693.6 C2091.2,703.8 2091.2,691.7 2092.3,696.4 C2093.4,701.1 2094.1,716.3 2095.6,717.1 C2097.1,717.9 2098.4,703.6 2099.7,700.5 C2101.1,697.5 2101.2,700.8 2102.5,701.9 C2103.8,703.0 2104.7,709.1 2106.1,706.1 C2107.5,703.0 2107.9,684.0 2109.4,686.8 C2110.9,689.5 2112.0,713.8 2113.5,719.8 C2115.0,725.9 2115.4,719.6 2116.8,717.1 C2118.2,714.6 2119.1,714.3 2120.4,707.4 C2121.7,700.5 2122.6,687.6 2123.2,682.6" stroke="#999" stroke-width="2.4" fill="none" stroke-linejoin="round"/>
<path d="M1898.0,990.0 C1898.5,989.1 1899.4,985.9 1900.5,985.8 C1901.5,985.7 1901.9,989.2 1903.2,989.4 C1904.5,989.6 1905.2,986.5 1906.8,986.6 C1908.3,986.8 1909.3,989.2 1910.9,990.0 C1912.6,990.7 1913.4,990.8 1915.1,990.5 C1916.7,990.2 1917.3,988.9 1919.2,988.6 C1921.1,988.3 1922.6,989.2 1924.7,989.1 C1926.8,989.0 1927.7,987.8 1929.7,988.0 C1931.6,988.3 1932.3,990.0 1934.4,990.5 C1936.4,991.1 1937.7,990.9 1939.9,990.8 C1942.1,990.7 1943.7,990.7 1945.4,990.0 C1947.0,989.2 1947.1,988.9 1948.1,987.2 C1949.1,985.5 1949.3,981.6 1950.3,981.7 C1951.3,981.8 1951.6,986.1 1953.1,987.8 C1954.6,989.4 1956.3,989.8 1957.8,990.0 C1959.3,990.1 1959.3,988.5 1960.5,988.6 C1961.8,988.7 1962.5,990.6 1964.1,990.5 C1965.8,990.4 1967.0,988.4 1968.8,988.0 C1970.6,987.6 1971.7,992.9 1972.9,988.6 C1974.2,984.3 1974.0,977.6 1974.9,966.5 C1975.7,955.5 1976.1,934.0 1977.1,933.5 C1978.1,932.9 1978.6,958.5 1979.8,963.8 C1981.1,969.0 1982.1,958.3 1983.4,959.6 C1984.7,961.0 1984.9,969.8 1986.2,970.7 C1987.5,971.5 1988.8,965.4 1990.0,963.8 C1991.2,962.1 1991.0,967.6 1992.2,962.4 C1993.5,957.2 1994.9,936.8 1996.4,937.6 C1997.9,938.4 1998.4,963.5 1999.7,966.5 C2000.9,969.6 2001.4,952.7 2002.7,952.7 C2004.0,952.7 2004.8,969.3 2006.0,966.5 C2007.2,963.8 2007.5,952.2 2008.8,939.0 C2010.0,925.7 2010.8,897.1 2012.4,900.4 C2013.9,903.7 2014.9,950.8 2016.5,955.5 C2018.1,960.2 2019.0,924.4 2020.4,923.8 C2021.7,923.3 2022.2,945.3 2023.4,952.7 C2024.5,960.2 2025.1,966.0 2026.1,961.0 C2027.2,956.1 2027.7,940.3 2028.6,927.9 C2029.6,915.5 2029.8,897.6 2030.8,899.0 C2031.8,900.4 2032.4,928.5 2033.6,934.8 C2034.8,941.2 2035.4,937.6 2036.9,930.7 C2038.4,923.8 2039.6,904.2 2041.0,900.4 C2042.4,896.5 2042.8,905.3 2043.8,911.4 C2044.8,917.5 2045.1,920.8 2046.0,930.7 C2046.9,940.6 2047.2,956.2 2048.2,961.0 C2049.2,965.8 2049.7,951.9 2050.9,954.7 C2052.2,957.4 2053.2,972.1 2054.3,974.8 C2055.3,977.4 2055.1,967.1 2056.2,967.9 C2057.3,968.7 2058.3,978.1 2059.8,978.9 C2061.2,979.8 2062.0,973.4 2063.4,972.0 C2064.7,970.7 2065.2,978.1 2066.7,972.0 C2068.1,966.0 2069.4,941.7 2070.8,941.7 C2072.2,941.7 2072.3,964.0 2073.6,972.0 C2074.8,980.0 2075.6,982.2 2077.1,981.7 C2078.6,981.1 2079.5,972.0 2081.0,969.3 C2082.5,966.5 2083.0,970.4 2084.6,967.9 C2086.1,965.4 2087.1,959.6 2088.7,956.9 C2090.4,954.1 2091.2,948.3 2092.8,954.1 C2094.5,959.9 2095.3,982.2 2097.0,985.8 C2098.6,989.4 2099.5,975.5 2101.1,972.0 C2102.8,968.6 2103.9,968.2 2105.2,968.7 C2106.6,969.3 2106.9,975.8 2108.0,974.8 C2109.1,973.8 2109.5,962.9 2110.8,963.8 C2112.0,964.6 2113.1,976.2 2114.3,978.9 C2115.6,981.7 2115.7,976.2 2116.8,977.6 C2117.9,978.9 2118.6,989.1 2119.9,985.8 C2121.1,982.5 2122.5,966.0 2123.2,961.0" stroke="#000" stroke-width="2.4" fill="none" stroke-linejoin="round"/>
<text x="0.0" y="1078.6" font-size="31.5" font-weight="bold" stroke="#000" stroke-width="1.6">c</text>
<text x="52.2" y="1095.1" font-size="24.8">Total Fru<tspan font-size="15" dy="-8">+</tspan><tspan dy="8"> LPC</tspan></text>
<path d="M129.6,1111.5 C128.2,1111.5 126.9,1111.8 125.4,1112.3 C123.8,1112.8 122.0,1114.6 120.0,1114.3 C118.1,1113.9 116.4,1111.4 113.8,1110.2 C111.3,1108.9 108.3,1107.2 104.8,1106.6 C101.3,1105.9 96.6,1105.6 92.9,1106.2 C89.1,1106.7 85.1,1108.1 82.2,1109.9 C79.4,1111.7 77.2,1114.1 75.6,1117.2 C74.0,1120.3 73.4,1126.7 72.7,1128.7 C72.0,1130.8 73.4,1129.4 71.6,1129.5 C69.9,1129.6 65.9,1129.2 62.3,1129.3 C58.8,1129.3 54.6,1128.8 50.4,1129.8 C46.2,1130.8 41.1,1132.5 37.1,1135.1 C33.2,1137.8 29.4,1141.7 26.5,1145.7 C23.6,1149.7 21.2,1154.6 19.9,1159.0 C18.6,1163.4 18.2,1167.8 18.6,1172.2 C18.9,1176.7 20.1,1181.5 21.9,1185.5 C23.6,1189.5 26.2,1193.0 29.2,1196.1 C32.2,1199.2 35.8,1201.9 39.8,1204.1 C43.8,1206.2 49.1,1208.3 53.1,1209.0 C57.0,1209.7 60.6,1208.9 63.7,1208.1 C66.8,1207.3 69.4,1206.1 71.6,1204.1 C73.8,1202.1 75.4,1198.2 76.9,1196.1 C78.5,1194.0 79.1,1192.6 80.9,1191.5 C82.7,1190.4 85.1,1189.3 87.5,1189.5 C90.0,1189.7 92.9,1190.8 95.5,1192.4 C98.2,1194.0 100.4,1196.7 103.5,1199.0 C106.6,1201.4 110.5,1204.6 114.1,1206.3 C117.6,1208.1 122.1,1209.4 124.7,1209.8 C127.3,1210.2 128.0,1208.9 129.6,1208.9 C131.2,1208.9 131.9,1210.2 134.5,1209.8 C137.1,1209.4 141.6,1208.1 145.1,1206.3 C148.7,1204.6 152.6,1201.4 155.7,1199.0 C158.8,1196.7 161.0,1194.0 163.7,1192.4 C166.3,1190.8 169.2,1189.7 171.7,1189.5 C174.1,1189.3 176.5,1190.4 178.3,1191.5 C180.1,1192.6 180.7,1194.0 182.3,1196.1 C183.8,1198.2 185.4,1202.1 187.6,1204.1 C189.8,1206.1 192.4,1207.3 195.5,1208.1 C198.6,1208.9 202.2,1209.7 206.1,1209.0 C210.1,1208.3 215.4,1206.2 219.4,1204.1 C223.4,1201.9 227.0,1199.2 230.0,1196.1 C233.0,1193.0 235.6,1189.5 237.3,1185.5 C239.1,1181.5 240.3,1176.7 240.6,1172.2 C241.0,1167.8 240.6,1163.4 239.3,1159.0 C238.0,1154.6 235.6,1149.7 232.7,1145.7 C229.8,1141.7 226.0,1137.8 222.1,1135.1 C218.1,1132.5 213.0,1130.8 208.8,1129.8 C204.6,1128.8 200.4,1129.3 196.9,1129.3 C193.3,1129.2 189.3,1129.6 187.6,1129.5 C185.8,1129.4 187.2,1130.8 186.5,1128.7 C185.8,1126.7 185.2,1120.3 183.6,1117.2 C182.0,1114.1 179.8,1111.7 177.0,1109.9 C174.1,1108.1 170.1,1106.7 166.3,1106.2 C162.6,1105.6 157.9,1105.9 154.4,1106.6 C150.9,1107.2 147.9,1108.9 145.4,1110.2 C142.8,1111.4 141.1,1113.9 139.2,1114.3 C137.2,1114.6 135.4,1112.8 133.8,1112.3 C132.3,1111.8 131.0,1111.5 129.6,1111.5Z" fill="#fff" stroke="#000" stroke-width="2.5" stroke-linejoin="round"/>
<path d="M53.1,1133.1 C55.8,1132.3 58.8,1133.4 61.0,1135.1 C63.2,1136.8 64.9,1139.5 66.3,1143.1 C67.8,1146.6 68.5,1151.9 69.6,1156.3 C70.7,1160.8 71.5,1165.4 73.0,1169.6 C74.4,1173.8 77.9,1178.3 78.5,1181.5 C79.2,1184.7 78.3,1187.0 76.9,1188.8 C75.6,1190.6 73.0,1192.2 70.3,1192.4 C67.6,1192.6 64.1,1191.8 61.0,1190.2 C57.9,1188.6 54.4,1186.3 51.7,1182.9 C49.1,1179.4 46.8,1174.5 45.1,1169.6 C43.4,1164.7 41.9,1158.7 41.8,1153.7 C41.7,1148.7 42.6,1143.2 44.4,1139.7 C46.3,1136.3 50.3,1133.9 53.1,1133.1Z" fill="#fff" stroke="#000" stroke-width="2.5"/>
<path d="M31.2,1149.7 C32.5,1149.7 34.5,1150.2 35.1,1152.6 C35.7,1155.0 34.2,1160.1 34.7,1164.3 C35.3,1168.4 36.5,1173.6 38.5,1177.6 C40.4,1181.5 43.3,1185.4 46.4,1188.2 C49.5,1190.9 53.8,1192.5 57.0,1194.1 C60.2,1195.8 64.5,1196.7 65.7,1198.1 C66.8,1199.5 65.4,1201.7 63.9,1202.5 C62.5,1203.3 60.4,1203.8 57.0,1203.0 C53.7,1202.2 47.7,1200.2 43.8,1197.7 C39.8,1195.3 36.0,1192.0 33.2,1188.4 C30.3,1184.9 28.0,1180.7 26.5,1176.2 C25.1,1171.8 24.4,1165.6 24.5,1161.6 C24.6,1157.7 26.1,1154.3 27.2,1152.4 C28.3,1150.4 29.8,1149.7 31.2,1149.7Z" fill="#fff" stroke="#000" stroke-width="2.5"/>
<path d="M206.1,1133.1 C203.4,1132.3 200.4,1133.4 198.2,1135.1 C196.0,1136.8 194.3,1139.5 192.9,1143.1 C191.4,1146.6 190.7,1151.9 189.6,1156.3 C188.5,1160.8 187.7,1165.4 186.2,1169.6 C184.8,1173.8 181.3,1178.3 180.7,1181.5 C180.0,1184.7 180.9,1187.0 182.3,1188.8 C183.6,1190.6 186.2,1192.2 188.9,1192.4 C191.6,1192.6 195.1,1191.8 198.2,1190.2 C201.3,1188.6 204.8,1186.3 207.5,1182.9 C210.1,1179.4 212.4,1174.5 214.1,1169.6 C215.8,1164.7 217.3,1158.7 217.4,1153.7 C217.5,1148.7 216.6,1143.2 214.8,1139.7 C212.9,1136.3 208.9,1133.9 206.1,1133.1Z" fill="#fff" stroke="#000" stroke-width="2.5"/>
<path d="M228.0,1149.7 C226.7,1149.7 224.7,1150.2 224.1,1152.6 C223.5,1155.0 225.0,1160.1 224.5,1164.3 C223.9,1168.4 222.7,1173.6 220.7,1177.6 C218.8,1181.5 215.9,1185.4 212.8,1188.2 C209.7,1190.9 205.4,1192.5 202.2,1194.1 C199.0,1195.8 194.7,1196.7 193.5,1198.1 C192.4,1199.5 193.8,1201.7 195.3,1202.5 C196.7,1203.3 198.8,1203.8 202.2,1203.0 C205.5,1202.2 211.5,1200.2 215.4,1197.7 C219.4,1195.3 223.2,1192.0 226.0,1188.4 C228.9,1184.9 231.2,1180.7 232.7,1176.2 C234.1,1171.8 234.8,1165.6 234.7,1161.6 C234.6,1157.7 233.1,1154.3 232.0,1152.4 C230.9,1150.4 229.4,1149.7 228.0,1149.7Z" fill="#fff" stroke="#000" stroke-width="2.5"/>
<path d="M129.6,1209.1 V1188.2" stroke="#00a14f" stroke-width="9.6" stroke-linecap="butt"/>
<path d="M129.6,1188.8 C128.0,1187.6 122.1,1185.6 120.0,1181.5 C118.0,1177.4 118.6,1168.5 117.4,1164.3 C116.2,1160.1 114.9,1159.0 112.8,1156.3 C110.7,1153.7 107.1,1151.2 104.8,1148.4 C102.5,1145.5 100.0,1142.2 98.8,1139.1 C97.6,1136.0 96.9,1132.8 97.5,1129.8 C98.0,1126.8 99.4,1123.4 102.1,1121.2 C104.9,1119.0 110.3,1117.0 114.1,1116.5 C117.8,1116.1 122.1,1117.8 124.7,1118.5 C127.3,1119.2 128.8,1120.4 129.6,1120.8" fill="none" stroke="#00a14f" stroke-width="5.6" stroke-linecap="round" stroke-linejoin="round"/>
<path d="M129.6,1188.8 C131.2,1187.6 137.1,1185.6 139.2,1181.5 C141.2,1177.4 140.6,1168.5 141.8,1164.3 C143.0,1160.1 144.3,1159.0 146.4,1156.3 C148.5,1153.7 152.1,1151.2 154.4,1148.4 C156.7,1145.5 159.2,1142.2 160.4,1139.1 C161.6,1136.0 162.3,1132.8 161.7,1129.8 C161.2,1126.8 159.8,1123.4 157.1,1121.2 C154.3,1119.0 148.9,1117.0 145.1,1116.5 C141.4,1116.1 137.1,1117.8 134.5,1118.5 C131.9,1119.2 130.4,1120.4 129.6,1120.8" fill="none" stroke="#00a14f" stroke-width="5.6" stroke-linecap="round" stroke-linejoin="round"/>
<path d="M127.3,1190.8 C125.5,1189.5 118.7,1185.3 116.1,1182.9 C113.4,1180.4 112.4,1178.9 111.4,1176.2 C110.4,1173.6 111.2,1169.5 110.1,1166.9 C109.0,1164.4 107.6,1162.3 104.8,1161.0 C102.0,1159.6 96.3,1160.4 93.5,1159.0 C90.8,1157.5 89.5,1155.0 88.2,1152.4 C86.9,1149.7 86.4,1145.8 85.6,1143.1 C84.7,1140.3 82.1,1138.3 82.9,1135.8 C83.7,1133.2 88.4,1130.7 90.2,1127.8 C92.0,1124.9 93.0,1120.1 93.5,1118.5" fill="none" stroke="#00a14f" stroke-width="5.6" stroke-linecap="round" stroke-linejoin="round"/>
<path d="M131.9,1190.8 C133.7,1189.5 140.5,1185.3 143.1,1182.9 C145.8,1180.4 146.8,1178.9 147.8,1176.2 C148.8,1173.6 148.0,1169.5 149.1,1166.9 C150.2,1164.4 151.6,1162.3 154.4,1161.0 C157.2,1159.6 162.9,1160.4 165.7,1159.0 C168.4,1157.5 169.7,1155.0 171.0,1152.4 C172.3,1149.7 172.8,1145.8 173.6,1143.1 C174.5,1140.3 177.1,1138.3 176.3,1135.8 C175.5,1133.2 170.8,1130.7 169.0,1127.8 C167.2,1124.9 166.2,1120.1 165.7,1118.5" fill="none" stroke="#00a14f" stroke-width="5.6" stroke-linecap="round" stroke-linejoin="round"/>
<path d="M112.8,1120.8 C113.5,1122.1 115.8,1126.5 117.4,1128.5 C119.0,1130.5 121.5,1132.0 122.3,1132.7" fill="none" stroke="#00a14f" stroke-width="5.3" stroke-linecap="round" stroke-linejoin="round"/>
<path d="M146.4,1120.8 C145.7,1122.1 143.4,1126.5 141.8,1128.5 C140.2,1130.5 137.7,1132.0 136.9,1132.7" fill="none" stroke="#00a14f" stroke-width="5.3" stroke-linecap="round" stroke-linejoin="round"/>
<path d="M111.7,1144.7 C112.4,1145.8 115.0,1150.2 115.7,1151.3" fill="none" stroke="#00a14f" stroke-width="5.0" stroke-linecap="round" stroke-linejoin="round"/>
<path d="M147.5,1144.7 C146.8,1145.8 144.2,1150.2 143.5,1151.3" fill="none" stroke="#00a14f" stroke-width="5.0" stroke-linecap="round" stroke-linejoin="round"/>
<path d="M92.9,1145.7 C93.7,1147.0 97.3,1152.4 98.2,1153.7" fill="none" stroke="#00a14f" stroke-width="5.8" stroke-linecap="round" stroke-linejoin="round"/>
<path d="M166.3,1145.7 C165.5,1147.0 161.9,1152.4 161.0,1153.7" fill="none" stroke="#00a14f" stroke-width="5.8" stroke-linecap="round" stroke-linejoin="round"/>
<path d="M123.4,1155.7 C124.4,1155.8 128.6,1156.2 129.6,1156.3" fill="none" stroke="#00a14f" stroke-width="4.0" stroke-linecap="round" stroke-linejoin="round"/>
<path d="M135.8,1155.7 C134.8,1155.8 130.6,1156.2 129.6,1156.3" fill="none" stroke="#00a14f" stroke-width="4.0" stroke-linecap="round" stroke-linejoin="round"/>
<ellipse cx="93.5" cy="1122.5" rx="5.0" ry="7.3" fill="#00a14f" transform="rotate(10 93.5 1122.5)"/>
<ellipse cx="165.7" cy="1122.5" rx="5.0" ry="7.3" fill="#00a14f" transform="rotate(-10 165.7 1122.5)"/>
<ellipse cx="87.5" cy="1129.8" rx="6.6" ry="5.0" fill="#00a14f" transform="rotate(-30 87.5 1129.8)"/>
<ellipse cx="171.7" cy="1129.8" rx="6.6" ry="5.0" fill="#00a14f" transform="rotate(30 171.7 1129.8)"/>
<ellipse cx="100.8" cy="1125.8" rx="6.0" ry="4.6" fill="#00a14f" transform="rotate(20 100.8 1125.8)"/>
<ellipse cx="158.4" cy="1125.8" rx="6.0" ry="4.6" fill="#00a14f" transform="rotate(-20 158.4 1125.8)"/>
<ellipse cx="84.2" cy="1136.4" rx="4.6" ry="5.3" fill="#00a14f" transform="rotate(0 84.2 1136.4)"/>
<ellipse cx="175.0" cy="1136.4" rx="4.6" ry="5.3" fill="#00a14f" transform="rotate(0 175.0 1136.4)"/>
<rect x="124.0" y="1161.6" width="10.6" height="22.8" rx="2.9" fill="#000"/>
<rect x="78.3" y="1111.2" width="33.8" height="29.2" fill="none" stroke="#000" stroke-width="2.2" stroke-dasharray="4.6 3"/>
<path d="M62.5,1339.4 H76.0 V1248.3" stroke="#000" stroke-width="2" fill="none"/>
<text x="62.5" y="1289.8" font-size="24.8" text-anchor="middle" transform="rotate(-90 62.5 1289.8)">0.5 <tspan font-style="italic">ΔF/F</tspan></text>
<text x="49.6" y="1363.3" font-size="24.8">2 s</text>
<line x1="100.0" y1="1347.9" x2="100.0" y2="1359.7" stroke="#000" stroke-width="3.6" stroke-linecap="butt"/>
<line x1="190.0" y1="1347.9" x2="190.0" y2="1359.7" stroke="#000" stroke-width="3.6" stroke-linecap="butt"/>
<text x="-13.5" y="6.3" font-size="58.6" font-weight="200" style="font-family:'DejaVu Sans',sans-serif" transform="translate(89.3 1392.0)">♀</text>
<text x="109.5" y="1392.0" font-size="24.8">mel</text>
<text x="-13.5" y="6.3" font-size="58.6" font-weight="200" style="font-family:'DejaVu Sans',sans-serif" transform="translate(180.0 1392.0)">♀</text>
<text x="201.3" y="1392.0" font-size="24.8">yak</text>
<path d="M84.5,1330.2 L85.3,1330.8 L86.0,1330.9 L86.8,1330.0 L87.6,1330.2 L88.3,1330.3 L89.1,1330.3 L89.8,1330.3 L90.6,1330.0 L91.4,1330.9 L92.1,1329.2 L92.9,1329.9 L93.7,1329.0 L94.4,1330.6 L95.2,1329.9 L96.0,1328.5 L96.7,1330.0 L97.5,1330.0 L98.3,1329.8 L99.0,1329.3 L99.8,1328.6 L100.5,1328.5 L101.3,1328.7 L102.1,1319.3 L102.8,1317.1 L103.6,1316.1 L104.4,1314.0 L105.1,1313.7 L105.9,1312.5 L106.7,1313.1 L107.4,1312.0 L108.2,1311.5 L108.9,1311.3 L109.7,1312.4 L110.5,1312.0 L111.2,1312.8 L112.0,1314.4 L112.8,1315.0 L113.5,1316.4 L114.3,1317.1 L115.1,1317.5 L115.8,1317.7 L116.6,1318.9 L117.4,1318.6 L118.1,1320.2 L118.9,1323.5 L119.6,1323.9 L120.4,1322.4 L121.2,1323.6 L121.9,1322.5 L122.7,1320.7 L123.5,1319.9 L124.2,1319.9 L125.0,1318.5 L125.8,1319.1 L126.5,1318.1 L127.3,1317.2 L128.1,1317.5 L128.8,1317.9 L129.6,1317.3 L130.3,1318.2 L131.1,1318.6 L131.9,1320.0 L132.6,1320.3 L133.4,1320.8 L134.2,1321.8 L134.9,1322.0 L135.7,1322.0 L136.5,1324.2 L137.2,1323.5 L138.0,1323.7 L138.7,1323.6 L139.5,1322.7 L140.3,1323.5 L141.0,1321.8 L141.8,1322.5 L142.6,1320.1 L143.3,1320.6 L144.1,1319.5 L144.9,1318.5 L145.6,1318.7 L146.4,1318.6 L147.2,1318.0 L147.9,1318.2 L148.7,1317.9 L149.4,1318.5 L150.2,1319.8 L151.0,1320.0 L151.7,1319.7 L152.5,1321.2 L152.5,1340.2 L151.7,1338.8 L151.0,1339.7 L150.2,1341.0 L149.4,1340.2 L148.7,1340.0 L147.9,1340.9 L147.2,1340.5 L146.4,1341.3 L145.6,1341.9 L144.9,1341.8 L144.1,1341.7 L143.3,1341.6 L142.6,1341.3 L141.8,1342.5 L141.0,1342.2 L140.3,1342.6 L139.5,1341.7 L138.7,1341.8 L138.0,1341.6 L137.2,1341.6 L136.5,1342.1 L135.7,1340.5 L134.9,1340.1 L134.2,1340.0 L133.4,1340.1 L132.6,1340.2 L131.9,1340.5 L131.1,1339.6 L130.3,1338.9 L129.6,1338.5 L128.8,1339.7 L128.1,1338.8 L127.3,1339.0 L126.5,1339.1 L125.8,1339.8 L125.0,1339.6 L124.2,1340.6 L123.5,1340.0 L122.7,1339.7 L121.9,1341.0 L121.2,1341.9 L120.4,1341.1 L119.6,1342.0 L118.9,1341.4 L118.1,1342.2 L117.4,1341.5 L116.6,1341.9 L115.8,1341.6 L115.1,1341.7 L114.3,1341.8 L113.5,1341.9 L112.8,1341.4 L112.0,1341.4 L111.2,1339.7 L110.5,1339.4 L109.7,1339.6 L108.9,1338.9 L108.2,1337.8 L107.4,1337.9 L106.7,1338.1 L105.9,1337.6 L105.1,1337.1 L104.4,1337.2 L103.6,1337.9 L102.8,1338.9 L102.1,1339.5 L101.3,1339.1 L100.5,1339.7 L99.8,1339.8 L99.0,1341.2 L98.3,1341.1 L97.5,1342.4 L96.7,1342.6 L96.0,1341.9 L95.2,1342.3 L94.4,1343.2 L93.7,1342.8 L92.9,1343.4 L92.1,1342.5 L91.4,1344.3 L90.6,1343.5 L89.8,1344.0 L89.1,1343.2 L88.3,1343.6 L87.6,1343.5 L86.8,1343.3 L86.0,1343.2 L85.3,1342.7 L84.5,1342.2Z" fill="#3fa84e" fill-opacity="0.58" stroke="#3fa84e" stroke-opacity="0.78" stroke-width="0.9"/>
<path d="M84.5,1334.4 L85.3,1334.6 L86.0,1335.1 L86.8,1334.4 L87.6,1334.4 L88.3,1334.5 L89.1,1333.8 L89.8,1334.2 L90.6,1334.3 L91.4,1334.5 L92.1,1333.4 L92.9,1333.6 L93.7,1333.3 L94.4,1334.2 L95.2,1334.0 L96.0,1333.0 L96.7,1334.3 L97.5,1334.2 L98.3,1333.7 L99.0,1333.7 L99.8,1333.0 L100.5,1332.5 L101.3,1332.6 L102.1,1331.2 L102.8,1330.6 L103.6,1329.8 L104.4,1328.8 L105.1,1328.8 L105.9,1328.5 L106.7,1329.0 L107.4,1328.6 L108.2,1328.8 L108.9,1328.7 L109.7,1329.1 L110.5,1329.0 L111.2,1328.9 L112.0,1330.1 L112.8,1330.3 L113.5,1330.3 L114.3,1330.2 L115.1,1329.9 L115.8,1329.9 L116.6,1330.1 L117.4,1329.8 L118.1,1330.9 L118.9,1330.4 L119.6,1331.0 L120.4,1330.3 L121.2,1331.2 L121.9,1331.0 L122.7,1329.8 L123.5,1330.1 L124.2,1331.1 L125.0,1330.5 L125.8,1331.2 L126.5,1330.4 L127.3,1330.0 L128.1,1330.8 L128.8,1331.0 L129.6,1330.3 L130.3,1330.1 L131.1,1330.4 L131.9,1331.3 L132.6,1331.0 L133.4,1330.2 L134.2,1330.4 L134.9,1330.2 L135.7,1330.1 L136.5,1331.2 L137.2,1330.3 L138.0,1330.9 L138.7,1330.7 L139.5,1330.4 L140.3,1331.2 L141.0,1330.4 L141.8,1331.1 L142.6,1330.4 L143.3,1330.8 L144.1,1330.5 L144.9,1330.6 L145.6,1331.6 L146.4,1331.4 L147.2,1330.7 L147.9,1331.5 L148.7,1330.6 L149.4,1330.8 L150.2,1331.5 L151.0,1331.2 L151.7,1330.4 L152.5,1331.7" stroke="#1c7a3a" stroke-width="2.9" fill="none" stroke-linejoin="round"/>
<path d="M172.7,1330.5 L173.5,1331.3 L174.2,1330.5 L175.0,1329.4 L175.8,1330.0 L176.5,1329.9 L177.3,1329.5 L178.0,1330.8 L178.8,1330.0 L179.6,1330.2 L180.3,1330.1 L181.1,1331.0 L181.9,1329.9 L182.6,1330.5 L183.4,1330.5 L184.1,1332.0 L184.9,1330.6 L185.7,1332.3 L186.4,1330.8 L187.2,1332.1 L188.0,1331.7 L188.7,1331.9 L189.5,1332.9 L190.2,1328.4 L191.0,1327.9 L191.8,1328.7 L192.5,1327.0 L193.3,1326.2 L194.1,1326.2 L194.8,1326.8 L195.6,1325.5 L196.4,1325.7 L197.1,1325.2 L197.9,1325.7 L198.6,1327.0 L199.4,1326.4 L200.2,1327.1 L200.9,1327.2 L201.7,1327.3 L202.5,1328.6 L203.2,1328.1 L204.0,1328.5 L204.7,1329.4 L205.5,1329.6 L206.3,1328.8 L207.0,1328.9 L207.8,1330.3 L208.6,1330.3 L209.3,1331.1 L210.1,1330.1 L210.8,1329.5 L211.6,1329.4 L212.4,1330.0 L213.1,1329.5 L213.9,1329.0 L214.7,1328.6 L215.4,1329.1 L216.2,1328.5 L216.9,1329.2 L217.7,1328.5 L218.5,1328.0 L219.2,1328.7 L220.0,1328.2 L220.8,1328.0 L221.5,1327.5 L222.3,1327.7 L223.1,1327.8 L223.8,1329.1 L224.6,1328.5 L225.3,1328.8 L226.1,1329.0 L226.9,1329.2 L227.6,1329.1 L228.4,1329.6 L229.2,1329.7 L229.9,1330.0 L230.7,1329.2 L231.4,1330.2 L232.2,1329.3 L233.0,1330.0 L233.7,1329.3 L234.5,1330.6 L235.3,1329.2 L236.0,1329.6 L236.8,1328.9 L237.5,1329.1 L238.3,1327.9 L239.1,1327.4 L239.8,1328.2 L240.6,1328.5 L240.6,1345.6 L239.8,1346.1 L239.1,1345.0 L238.3,1345.5 L237.5,1346.9 L236.8,1345.9 L236.0,1346.3 L235.3,1346.1 L234.5,1346.7 L233.7,1345.9 L233.0,1345.1 L232.2,1344.4 L231.4,1344.4 L230.7,1343.8 L229.9,1344.2 L229.2,1343.4 L228.4,1343.1 L227.6,1342.6 L226.9,1343.3 L226.1,1342.0 L225.3,1342.8 L224.6,1341.8 L223.8,1342.3 L223.1,1341.4 L222.3,1341.9 L221.5,1341.3 L220.8,1342.0 L220.0,1342.0 L219.2,1342.8 L218.5,1342.1 L217.7,1343.2 L216.9,1343.6 L216.2,1343.7 L215.4,1344.1 L214.7,1343.9 L213.9,1344.4 L213.1,1345.2 L212.4,1345.7 L211.6,1345.7 L210.8,1345.4 L210.1,1345.9 L209.3,1346.1 L208.6,1346.5 L207.8,1346.2 L207.0,1345.0 L206.3,1345.6 L205.5,1345.5 L204.7,1345.7 L204.0,1345.3 L203.2,1344.3 L202.5,1345.1 L201.7,1343.4 L200.9,1342.7 L200.2,1343.0 L199.4,1341.7 L198.6,1341.7 L197.9,1340.2 L197.1,1339.2 L196.4,1339.8 L195.6,1339.1 L194.8,1335.9 L194.1,1335.9 L193.3,1334.8 L192.5,1335.6 L191.8,1336.8 L191.0,1336.4 L190.2,1336.2 L189.5,1337.9 L188.7,1337.0 L188.0,1337.2 L187.2,1337.0 L186.4,1336.8 L185.7,1337.6 L184.9,1336.1 L184.1,1337.3 L183.4,1336.7 L182.6,1337.4 L181.9,1336.9 L181.1,1336.9 L180.3,1337.5 L179.6,1337.3 L178.8,1337.3 L178.0,1337.6 L177.3,1337.0 L176.5,1336.4 L175.8,1336.8 L175.0,1336.6 L174.2,1336.8 L173.5,1337.1 L172.7,1336.7Z" fill="#c060b0" fill-opacity="0.5" stroke="#c060b0" stroke-opacity="0.70" stroke-width="0.9"/>
<path d="M172.7,1334.0 L173.5,1334.2 L174.2,1334.2 L175.0,1333.5 L175.8,1333.3 L176.5,1333.8 L177.3,1333.7 L178.0,1334.4 L178.8,1334.3 L179.6,1334.1 L180.3,1334.1 L181.1,1334.2 L181.9,1333.5 L182.6,1333.9 L183.4,1333.5 L184.1,1334.6 L184.9,1333.4 L185.7,1334.4 L186.4,1333.4 L187.2,1334.3 L188.0,1333.8 L188.7,1333.9 L189.5,1334.5 L190.2,1333.2 L191.0,1333.0 L191.8,1333.8 L192.5,1332.7 L193.3,1331.7 L194.1,1332.7 L194.8,1332.6 L195.6,1331.6 L196.4,1332.3 L197.1,1332.2 L197.9,1332.8 L198.6,1333.6 L199.4,1333.3 L200.2,1334.4 L200.9,1333.9 L201.7,1334.3 L202.5,1335.4 L203.2,1334.9 L204.0,1334.9 L204.7,1335.1 L205.5,1335.0 L206.3,1334.8 L207.0,1334.3 L207.8,1335.3 L208.6,1335.7 L209.3,1335.7 L210.1,1335.2 L210.8,1334.8 L211.6,1334.8 L212.4,1335.3 L213.1,1335.2 L213.9,1334.5 L214.7,1334.6 L215.4,1334.8 L216.2,1335.0 L216.9,1335.4 L217.7,1335.0 L218.5,1334.3 L219.2,1335.5 L220.0,1334.9 L220.8,1335.0 L221.5,1334.6 L222.3,1334.9 L223.1,1334.8 L223.8,1335.4 L224.6,1334.4 L225.3,1335.1 L226.1,1334.5 L226.9,1335.3 L227.6,1334.4 L228.4,1334.7 L229.2,1334.8 L229.9,1335.2 L230.7,1334.4 L231.4,1334.9 L232.2,1334.6 L233.0,1334.7 L233.7,1335.0 L234.5,1335.6 L235.3,1335.0 L236.0,1335.6 L236.8,1334.5 L237.5,1335.6 L238.3,1334.8 L239.1,1334.6 L239.8,1335.3 L240.6,1335.6" stroke="#a83a98" stroke-width="2.7" fill="none" stroke-linejoin="round"/>
<text x="-9.9" y="8.0" font-size="62" font-weight="200" style="font-family:'DejaVu Sans',sans-serif" transform="translate(312.3 1080.4) translate(8.0 -8.0) rotate(-15) scale(0.95) translate(-8.0 8.0)">♂</text>
<text x="342.4" y="1080.4" font-size="24.8"><tspan font-style="italic">D. yakuba</tspan> – fru&gt;GCaMP</text>
<path d="M363.2,1134.4 H372.2 V1393.8 H363.2" stroke="#000" stroke-width="2" fill="none"/>
<text x="358.2" y="1142.9" font-size="24.8" text-anchor="end">1</text>
<text x="358.2" y="1402.3" font-size="24.8" text-anchor="end">0</text>
<text x="361.9" y="1264.1" font-size="24.8" text-anchor="middle" transform="rotate(-90 361.9 1264.1)"><tspan font-style="italic">ΔF/F</tspan></text>
<text x="408.9" y="1123.8" font-size="24.8" text-anchor="middle">a</text>
<text x="487.5" y="1123.8" font-size="24.8" text-anchor="middle">a</text>
<text x="560.2" y="1123.8" font-size="24.8" text-anchor="middle">a</text>
<text x="637.4" y="1123.8" font-size="24.8" text-anchor="middle">a</text>
<text x="-13.5" y="6.3" font-size="58.6" font-weight="200" style="font-family:'DejaVu Sans',sans-serif" transform="translate(356.4 1429.4)">♀</text>
<text x="410.0" y="1429.4" font-size="24.8" text-anchor="middle">mel</text>
<text x="487.5" y="1429.4" font-size="24.8" text-anchor="middle">yak</text>
<text x="564.3" y="1429.4" font-size="24.8" text-anchor="middle">sim</text>
<text x="638.9" y="1429.4" font-size="24.8" text-anchor="middle">ere</text>
<circle cx="404.1" cy="1359.6" r="9.6" fill="#3f9160" fill-opacity="0.5"/>
<circle cx="418.1" cy="1359.6" r="9.6" fill="#3f9160" fill-opacity="0.5"/>
<circle cx="398.6" cy="1374.3" r="9.6" fill="#3f9160" fill-opacity="0.5"/>
<circle cx="410.7" cy="1380.9" r="9.6" fill="#3f9160" fill-opacity="0.5"/>
<circle cx="419.9" cy="1375.0" r="9.6" fill="#3f9160" fill-opacity="0.5"/>
<circle cx="474.7" cy="1375.0" r="9.6" fill="#c571b8" fill-opacity="0.55"/>
<circle cx="494.1" cy="1377.3" r="9.6" fill="#c571b8" fill-opacity="0.55"/>
<circle cx="481.3" cy="1381.7" r="9.6" fill="#c571b8" fill-opacity="0.55"/>
<circle cx="501.5" cy="1381.7" r="9.6" fill="#c571b8" fill-opacity="0.55"/>
<circle cx="488.6" cy="1385.3" r="9.6" fill="#c571b8" fill-opacity="0.55"/>
<circle cx="548.5" cy="1375.0" r="9.6" fill="#7fcabb" fill-opacity="0.55"/>
<circle cx="561.0" cy="1377.3" r="9.6" fill="#7fcabb" fill-opacity="0.55"/>
<circle cx="573.1" cy="1377.3" r="9.6" fill="#7fcabb" fill-opacity="0.55"/>
<circle cx="551.1" cy="1384.6" r="9.6" fill="#7fcabb" fill-opacity="0.55"/>
<circle cx="563.9" cy="1381.7" r="9.6" fill="#7fcabb" fill-opacity="0.55"/>
<circle cx="635.6" cy="1358.9" r="9.6" fill="#6f5fb4" fill-opacity="0.6"/>
<circle cx="628.2" cy="1369.9" r="9.6" fill="#6f5fb4" fill-opacity="0.6"/>
<circle cx="646.6" cy="1369.9" r="9.6" fill="#6f5fb4" fill-opacity="0.6"/>
<circle cx="634.5" cy="1380.9" r="9.6" fill="#6f5fb4" fill-opacity="0.6"/>
<circle cx="641.1" cy="1377.3" r="9.6" fill="#6f5fb4" fill-opacity="0.6"/>
<line x1="402.3" y1="1369.9" x2="423.2" y2="1369.9" stroke="#000" stroke-width="2" stroke-linecap="butt"/>
<line x1="413.3" y1="1364.0" x2="413.3" y2="1375.0" stroke="#000" stroke-width="2" stroke-linecap="butt"/>
<line x1="477.6" y1="1379.8" x2="498.5" y2="1379.8" stroke="#000" stroke-width="2" stroke-linecap="butt"/>
<line x1="487.9" y1="1378.4" x2="487.9" y2="1381.3" stroke="#000" stroke-width="2" stroke-linecap="butt"/>
<line x1="546.3" y1="1378.4" x2="566.9" y2="1378.4" stroke="#000" stroke-width="2" stroke-linecap="butt"/>
<line x1="556.6" y1="1376.9" x2="556.6" y2="1379.8" stroke="#000" stroke-width="2" stroke-linecap="butt"/>
<line x1="627.1" y1="1371.0" x2="647.7" y2="1371.0" stroke="#000" stroke-width="2" stroke-linecap="butt"/>
<line x1="638.1" y1="1366.2" x2="638.1" y2="1375.8" stroke="#000" stroke-width="2" stroke-linecap="butt"/>
<text x="780.0" y="1079.7" font-size="31.5" font-weight="bold" stroke="#000" stroke-width="1.6">d</text>
<text x="854.8" y="1098.0" font-size="24.8">Total Dsx<tspan font-size="15" dy="-8">+</tspan><tspan dy="8"> LPC</tspan></text>
<path d="M937.4,1112.5 C936.0,1112.5 934.7,1112.8 933.2,1113.3 C931.6,1113.8 929.8,1115.6 927.8,1115.3 C925.9,1114.9 924.2,1112.4 921.6,1111.2 C919.1,1109.9 916.1,1108.2 912.6,1107.6 C909.1,1106.9 904.4,1106.6 900.7,1107.2 C896.9,1107.7 892.9,1109.1 890.0,1110.9 C887.2,1112.7 885.0,1115.1 883.4,1118.2 C881.8,1121.3 881.2,1127.7 880.5,1129.7 C879.8,1131.8 881.2,1130.4 879.4,1130.5 C877.7,1130.6 873.7,1130.2 870.1,1130.3 C866.6,1130.3 862.4,1129.8 858.2,1130.8 C854.0,1131.8 848.9,1133.5 844.9,1136.1 C841.0,1138.8 837.2,1142.7 834.3,1146.7 C831.4,1150.7 829.0,1155.6 827.7,1160.0 C826.4,1164.4 826.0,1168.8 826.4,1173.2 C826.7,1177.7 827.9,1182.5 829.7,1186.5 C831.4,1190.5 834.0,1194.0 837.0,1197.1 C840.0,1200.2 843.6,1202.9 847.6,1205.1 C851.6,1207.2 856.9,1209.3 860.9,1210.0 C864.8,1210.7 868.4,1209.9 871.5,1209.1 C874.6,1208.3 877.2,1207.1 879.4,1205.1 C881.6,1203.1 883.2,1199.2 884.7,1197.1 C886.3,1195.0 886.9,1193.6 888.7,1192.5 C890.5,1191.4 892.9,1190.3 895.3,1190.5 C897.8,1190.7 900.7,1191.8 903.3,1193.4 C906.0,1195.0 908.2,1197.7 911.3,1200.0 C914.4,1202.4 918.3,1205.6 921.9,1207.3 C925.4,1209.1 929.9,1210.4 932.5,1210.8 C935.1,1211.2 935.8,1209.9 937.4,1209.9 C939.0,1209.9 939.7,1211.2 942.3,1210.8 C944.9,1210.4 949.4,1209.1 952.9,1207.3 C956.5,1205.6 960.4,1202.4 963.5,1200.0 C966.6,1197.7 968.8,1195.0 971.5,1193.4 C974.1,1191.8 977.0,1190.7 979.5,1190.5 C981.9,1190.3 984.3,1191.4 986.1,1192.5 C987.9,1193.6 988.5,1195.0 990.1,1197.1 C991.6,1199.2 993.2,1203.1 995.4,1205.1 C997.6,1207.1 1000.2,1208.3 1003.3,1209.1 C1006.4,1209.9 1010.0,1210.7 1013.9,1210.0 C1017.9,1209.3 1023.2,1207.2 1027.2,1205.1 C1031.2,1202.9 1034.8,1200.2 1037.8,1197.1 C1040.8,1194.0 1043.4,1190.5 1045.1,1186.5 C1046.9,1182.5 1048.1,1177.7 1048.4,1173.2 C1048.8,1168.8 1048.4,1164.4 1047.1,1160.0 C1045.8,1155.6 1043.4,1150.7 1040.5,1146.7 C1037.6,1142.7 1033.8,1138.8 1029.9,1136.1 C1025.9,1133.5 1020.8,1131.8 1016.6,1130.8 C1012.4,1129.8 1008.2,1130.3 1004.7,1130.3 C1001.1,1130.2 997.1,1130.6 995.4,1130.5 C993.6,1130.4 995.0,1131.8 994.3,1129.7 C993.6,1127.7 993.0,1121.3 991.4,1118.2 C989.8,1115.1 987.6,1112.7 984.8,1110.9 C981.9,1109.1 977.9,1107.7 974.1,1107.2 C970.4,1106.6 965.7,1106.9 962.2,1107.6 C958.7,1108.2 955.7,1109.9 953.2,1111.2 C950.6,1112.4 948.9,1114.9 947.0,1115.3 C945.0,1115.6 943.2,1113.8 941.6,1113.3 C940.1,1112.8 938.8,1112.5 937.4,1112.5Z" fill="#fff" stroke="#000" stroke-width="2.5" stroke-linejoin="round"/>
<path d="M860.9,1134.1 C863.6,1133.3 866.6,1134.4 868.8,1136.1 C871.0,1137.8 872.7,1140.5 874.1,1144.1 C875.6,1147.6 876.3,1152.9 877.4,1157.3 C878.5,1161.8 879.3,1166.4 880.8,1170.6 C882.2,1174.8 885.7,1179.3 886.3,1182.5 C887.0,1185.7 886.1,1188.0 884.7,1189.8 C883.4,1191.6 880.8,1193.2 878.1,1193.4 C875.4,1193.6 871.9,1192.8 868.8,1191.2 C865.7,1189.6 862.2,1187.3 859.5,1183.9 C856.9,1180.4 854.6,1175.5 852.9,1170.6 C851.2,1165.7 849.7,1159.7 849.6,1154.7 C849.5,1149.7 850.4,1144.2 852.2,1140.7 C854.1,1137.3 858.1,1134.9 860.9,1134.1Z" fill="#fff" stroke="#000" stroke-width="2.5"/>
<path d="M839.0,1150.7 C840.3,1150.7 842.3,1151.2 842.9,1153.6 C843.5,1156.0 842.0,1161.1 842.5,1165.3 C843.1,1169.4 844.3,1174.6 846.3,1178.6 C848.2,1182.5 851.1,1186.4 854.2,1189.2 C857.3,1191.9 861.6,1193.5 864.8,1195.1 C868.0,1196.8 872.3,1197.7 873.5,1199.1 C874.6,1200.5 873.2,1202.7 871.7,1203.5 C870.3,1204.3 868.2,1204.8 864.8,1204.0 C861.5,1203.2 855.5,1201.2 851.6,1198.7 C847.6,1196.3 843.8,1193.0 841.0,1189.4 C838.1,1185.9 835.8,1181.7 834.3,1177.2 C832.9,1172.8 832.2,1166.6 832.3,1162.6 C832.4,1158.7 833.9,1155.3 835.0,1153.4 C836.1,1151.4 837.6,1150.7 839.0,1150.7Z" fill="#fff" stroke="#000" stroke-width="2.5"/>
<path d="M1013.9,1134.1 C1011.2,1133.3 1008.2,1134.4 1006.0,1136.1 C1003.8,1137.8 1002.1,1140.5 1000.7,1144.1 C999.2,1147.6 998.5,1152.9 997.4,1157.3 C996.3,1161.8 995.5,1166.4 994.0,1170.6 C992.6,1174.8 989.1,1179.3 988.5,1182.5 C987.8,1185.7 988.7,1188.0 990.1,1189.8 C991.4,1191.6 994.0,1193.2 996.7,1193.4 C999.4,1193.6 1002.9,1192.8 1006.0,1191.2 C1009.1,1189.6 1012.6,1187.3 1015.3,1183.9 C1017.9,1180.4 1020.2,1175.5 1021.9,1170.6 C1023.6,1165.7 1025.1,1159.7 1025.2,1154.7 C1025.3,1149.7 1024.4,1144.2 1022.6,1140.7 C1020.7,1137.3 1016.7,1134.9 1013.9,1134.1Z" fill="#fff" stroke="#000" stroke-width="2.5"/>
<path d="M1035.8,1150.7 C1034.5,1150.7 1032.5,1151.2 1031.9,1153.6 C1031.3,1156.0 1032.8,1161.1 1032.3,1165.3 C1031.7,1169.4 1030.5,1174.6 1028.5,1178.6 C1026.6,1182.5 1023.7,1186.4 1020.6,1189.2 C1017.5,1191.9 1013.2,1193.5 1010.0,1195.1 C1006.8,1196.8 1002.5,1197.7 1001.3,1199.1 C1000.2,1200.5 1001.6,1202.7 1003.1,1203.5 C1004.5,1204.3 1006.6,1204.8 1010.0,1204.0 C1013.3,1203.2 1019.3,1201.2 1023.2,1198.7 C1027.2,1196.3 1031.0,1193.0 1033.8,1189.4 C1036.7,1185.9 1039.0,1181.7 1040.5,1177.2 C1041.9,1172.8 1042.6,1166.6 1042.5,1162.6 C1042.4,1158.7 1040.9,1155.3 1039.8,1153.4 C1038.7,1151.4 1037.2,1150.7 1035.8,1150.7Z" fill="#fff" stroke="#000" stroke-width="2.5"/>
<path d="M922.8,1119.1 C924.1,1119.5 928.3,1120.8 930.8,1121.5 C933.2,1122.2 936.3,1122.9 937.4,1123.2" fill="none" stroke="#00a14f" stroke-width="2.1" stroke-linecap="round" stroke-linejoin="round"/>
<path d="M952.0,1119.1 C950.7,1119.5 946.5,1120.8 944.0,1121.5 C941.6,1122.2 938.5,1122.9 937.4,1123.2" fill="none" stroke="#00a14f" stroke-width="2.1" stroke-linecap="round" stroke-linejoin="round"/>
<path d="M901.6,1122.8 C903.9,1121.7 907.3,1125.0 910.9,1124.4 C914.4,1123.8 920.4,1118.3 922.8,1119.1 C925.2,1120.0 923.5,1127.2 925.2,1129.5 C926.9,1131.7 931.3,1131.4 932.8,1132.8 C934.2,1134.2 935.1,1136.8 934.1,1138.1 C933.1,1139.4 929.1,1140.6 926.8,1140.3 C924.5,1140.1 922.4,1137.2 920.2,1136.8 C917.9,1136.3 915.8,1137.9 913.5,1137.7 C911.2,1137.5 908.2,1134.7 906.2,1135.4 C904.2,1136.2 903.2,1140.6 901.6,1142.1 C899.9,1143.5 898.0,1144.2 896.3,1144.1 C894.6,1143.9 891.1,1143.2 891.2,1141.1 C891.3,1139.0 895.2,1134.5 896.9,1131.5 C898.7,1128.4 899.3,1124.0 901.6,1122.8Z" fill="#00a14f" stroke="#00a14f" stroke-width="1.3" stroke-linejoin="round"/>
<path d="M973.2,1122.8 C970.9,1121.7 967.5,1125.0 963.9,1124.4 C960.4,1123.8 954.4,1118.3 952.0,1119.1 C949.6,1120.0 951.3,1127.2 949.6,1129.5 C947.9,1131.7 943.5,1131.4 942.0,1132.8 C940.6,1134.2 939.7,1136.8 940.7,1138.1 C941.7,1139.4 945.7,1140.6 948.0,1140.3 C950.3,1140.1 952.4,1137.2 954.6,1136.8 C956.9,1136.3 959.0,1137.9 961.3,1137.7 C963.6,1137.5 966.6,1134.7 968.6,1135.4 C970.6,1136.2 971.6,1140.6 973.2,1142.1 C974.9,1143.5 976.8,1144.2 978.5,1144.1 C980.2,1143.9 983.7,1143.2 983.6,1141.1 C983.5,1139.0 979.6,1134.5 977.9,1131.5 C976.1,1128.4 975.5,1124.0 973.2,1122.8Z" fill="#00a14f" stroke="#00a14f" stroke-width="1.3" stroke-linejoin="round"/>
<path d="M891.0,1142.1 C890.9,1143.3 889.6,1147.5 890.3,1149.4 C891.0,1151.3 893.3,1153.0 894.9,1153.4 C896.6,1153.7 899.4,1151.7 900.3,1151.4" fill="none" stroke="#00a14f" stroke-width="1.9" stroke-linecap="round" stroke-linejoin="round"/>
<path d="M983.8,1142.1 C983.9,1143.3 985.2,1147.5 984.5,1149.4 C983.8,1151.3 981.5,1153.0 979.9,1153.4 C978.2,1153.7 975.4,1151.7 974.5,1151.4" fill="none" stroke="#00a14f" stroke-width="1.9" stroke-linecap="round" stroke-linejoin="round"/>
<path d="M901.6,1142.1 C901.4,1143.1 900.0,1146.2 900.3,1148.0 C900.5,1149.9 902.7,1151.8 902.9,1153.4 C903.1,1154.9 901.8,1156.7 901.6,1157.3" fill="none" stroke="#00a14f" stroke-width="2.9" stroke-linecap="round" stroke-linejoin="round"/>
<path d="M973.2,1142.1 C973.4,1143.1 974.8,1146.2 974.5,1148.0 C974.3,1149.9 972.1,1151.8 971.9,1153.4 C971.7,1154.9 973.0,1156.7 973.2,1157.3" fill="none" stroke="#00a14f" stroke-width="2.9" stroke-linecap="round" stroke-linejoin="round"/>
<path d="M913.5,1138.1 C913.3,1139.5 913.1,1144.4 912.2,1146.7 C911.3,1149.0 909.8,1150.4 908.2,1152.0 C906.7,1153.7 903.8,1155.9 902.9,1156.7" fill="none" stroke="#00a14f" stroke-width="2.7" stroke-linecap="round" stroke-linejoin="round"/>
<path d="M961.3,1138.1 C961.5,1139.5 961.7,1144.4 962.6,1146.7 C963.5,1149.0 965.0,1150.4 966.6,1152.0 C968.1,1153.7 971.0,1155.9 971.9,1156.7" fill="none" stroke="#00a14f" stroke-width="2.7" stroke-linecap="round" stroke-linejoin="round"/>
<path d="M912.5,1150.0 C914.0,1150.4 918.7,1151.6 921.5,1152.3 C924.3,1153.0 927.9,1154.1 929.2,1154.4" fill="none" stroke="#00a14f" stroke-width="3.2" stroke-linecap="round" stroke-linejoin="round"/>
<path d="M962.3,1150.0 C960.8,1150.4 956.1,1151.6 953.3,1152.3 C950.5,1153.0 946.9,1154.1 945.6,1154.4" fill="none" stroke="#00a14f" stroke-width="3.2" stroke-linecap="round" stroke-linejoin="round"/>
<ellipse cx="903.8" cy="1142.1" rx="2.7" ry="3.7" fill="#fff"/>
<ellipse cx="971.0" cy="1142.1" rx="2.7" ry="3.7" fill="#fff"/>
<ellipse cx="894.9" cy="1145.4" rx="1.6" ry="3.3" fill="#fff"/>
<ellipse cx="979.9" cy="1145.4" rx="1.6" ry="3.3" fill="#fff"/>
<path d="M937.1,1162.4 C938.8,1162.4 941.0,1162.3 942.0,1163.7 C943.1,1165.1 942.9,1168.1 943.4,1170.6 C943.8,1173.1 944.8,1176.1 944.7,1178.6 C944.6,1181.0 944.0,1183.6 942.7,1185.2 C941.4,1186.7 939.0,1187.8 937.1,1187.8 C935.3,1187.8 932.8,1186.7 931.6,1185.2 C930.3,1183.6 929.7,1181.0 929.6,1178.6 C929.5,1176.1 930.5,1173.1 930.9,1170.6 C931.3,1168.1 931.2,1165.1 932.2,1163.7 C933.3,1162.3 935.5,1162.4 937.1,1162.4Z" fill="#000"/>
<rect x="888.7" y="1117.5" width="34.2" height="29.5" fill="none" stroke="#000" stroke-width="2.2" stroke-dasharray="4.6 3"/>
<path d="M864.0,1339.4 H878.3 V1248.3" stroke="#000" stroke-width="2" fill="none"/>
<text x="868.4" y="1289.8" font-size="24.8" text-anchor="middle" transform="rotate(-90 868.4 1289.8)">0.5 <tspan font-style="italic">ΔF/F</tspan></text>
<text x="854.8" y="1363.3" font-size="24.8">2 s</text>
<line x1="904.4" y1="1347.9" x2="904.4" y2="1359.7" stroke="#000" stroke-width="3.6" stroke-linecap="butt"/>
<line x1="992.2" y1="1347.9" x2="992.2" y2="1359.7" stroke="#000" stroke-width="3.6" stroke-linecap="butt"/>
<text x="-13.5" y="6.3" font-size="58.6" font-weight="200" style="font-family:'DejaVu Sans',sans-serif" transform="translate(891.2 1394.5)">♀</text>
<text x="911.4" y="1394.5" font-size="24.8">mel</text>
<text x="-13.5" y="6.3" font-size="58.6" font-weight="200" style="font-family:'DejaVu Sans',sans-serif" transform="translate(982.3 1394.5)">♀</text>
<text x="1003.2" y="1394.5" font-size="24.8">yak</text>
<path d="M887.5,1334.8 L888.3,1335.4 L889.1,1335.3 L889.8,1336.0 L890.6,1334.5 L891.4,1334.8 L892.2,1334.3 L892.9,1334.5 L893.7,1335.3 L894.5,1334.2 L895.3,1335.0 L896.0,1334.1 L896.8,1334.6 L897.6,1334.8 L898.4,1335.4 L899.1,1334.4 L899.9,1334.3 L900.7,1334.0 L901.5,1334.3 L902.2,1335.0 L903.0,1334.5 L903.8,1334.3 L904.6,1334.1 L905.3,1333.7 L906.1,1333.6 L906.9,1332.1 L907.7,1329.3 L908.4,1328.0 L909.2,1325.7 L910.0,1324.6 L910.8,1322.7 L911.5,1320.9 L912.3,1320.1 L913.1,1320.5 L913.9,1321.0 L914.6,1320.2 L915.4,1321.8 L916.2,1322.5 L917.0,1323.7 L917.7,1323.4 L918.5,1324.8 L919.3,1325.3 L920.1,1324.9 L920.8,1326.0 L921.6,1326.5 L922.4,1326.2 L923.2,1326.4 L923.9,1327.3 L924.7,1327.5 L925.5,1327.5 L926.3,1328.8 L927.0,1328.4 L927.8,1328.5 L928.6,1329.2 L929.4,1330.0 L930.1,1330.4 L930.9,1331.1 L931.7,1331.1 L932.5,1331.5 L933.2,1332.0 L934.0,1332.5 L934.8,1332.7 L935.6,1332.6 L936.3,1333.1 L937.1,1331.4 L937.9,1331.9 L938.7,1332.8 L939.4,1333.5 L940.2,1333.4 L941.0,1332.3 L941.8,1332.7 L942.5,1333.6 L943.3,1333.5 L944.1,1333.3 L944.9,1332.4 L945.6,1333.6 L946.4,1333.5 L947.2,1334.3 L948.0,1333.3 L948.7,1334.2 L949.5,1334.3 L950.3,1334.8 L951.1,1334.1 L951.8,1334.7 L952.6,1334.0 L953.4,1334.9 L954.2,1334.2 L954.9,1334.5 L955.7,1333.8 L956.5,1334.5 L956.5,1337.1 L955.7,1337.2 L954.9,1337.8 L954.2,1337.3 L953.4,1337.3 L952.6,1337.4 L951.8,1337.1 L951.1,1336.4 L950.3,1336.9 L949.5,1337.0 L948.7,1337.8 L948.0,1336.6 L947.2,1337.0 L946.4,1336.2 L945.6,1336.5 L944.9,1336.2 L944.1,1336.7 L943.3,1336.6 L942.5,1336.2 L941.8,1336.2 L941.0,1335.1 L940.2,1336.2 L939.4,1336.1 L938.7,1336.4 L937.9,1335.5 L937.1,1334.6 L936.3,1335.6 L935.6,1336.1 L934.8,1335.2 L934.0,1335.7 L933.2,1335.5 L932.5,1334.4 L931.7,1334.4 L930.9,1334.0 L930.1,1333.7 L929.4,1332.6 L928.6,1332.5 L927.8,1331.7 L927.0,1332.6 L926.3,1332.1 L925.5,1331.7 L924.7,1330.8 L923.9,1331.8 L923.2,1331.0 L922.4,1331.4 L921.6,1331.9 L920.8,1332.0 L920.1,1331.2 L919.3,1331.3 L918.5,1330.4 L917.7,1330.3 L917.0,1330.1 L916.2,1330.0 L915.4,1329.4 L914.6,1327.7 L913.9,1328.0 L913.1,1327.3 L912.3,1326.7 L911.5,1327.3 L910.8,1328.2 L910.0,1329.6 L909.2,1330.8 L908.4,1333.1 L907.7,1334.2 L906.9,1336.0 L906.1,1337.2 L905.3,1338.4 L904.6,1338.3 L903.8,1338.1 L903.0,1338.0 L902.2,1338.1 L901.5,1337.0 L900.7,1337.6 L899.9,1337.3 L899.1,1338.0 L898.4,1338.1 L897.6,1337.8 L896.8,1338.1 L896.0,1337.5 L895.3,1338.5 L894.5,1337.6 L893.7,1338.6 L892.9,1337.7 L892.2,1338.3 L891.4,1337.6 L890.6,1337.9 L889.8,1339.0 L889.1,1338.9 L888.3,1338.5 L887.5,1338.3Z" fill="#1c7a3a" fill-opacity="0.33" stroke="#1c7a3a" stroke-opacity="0.53" stroke-width="0.9"/>
<path d="M887.5,1336.7 L888.3,1337.3 L889.1,1337.2 L889.8,1337.4 L890.6,1336.5 L891.4,1336.5 L892.2,1336.3 L892.9,1336.4 L893.7,1337.0 L894.5,1336.1 L895.3,1336.6 L896.0,1336.1 L896.8,1336.2 L897.6,1336.3 L898.4,1336.8 L899.1,1336.4 L899.9,1335.5 L900.7,1335.8 L901.5,1335.6 L902.2,1336.6 L903.0,1336.5 L903.8,1336.4 L904.6,1336.5 L905.3,1336.1 L906.1,1335.6 L906.9,1334.1 L907.7,1331.7 L908.4,1330.8 L909.2,1328.4 L910.0,1327.1 L910.8,1325.4 L911.5,1324.3 L912.3,1323.8 L913.1,1324.0 L913.9,1324.1 L914.6,1324.2 L915.4,1325.6 L916.2,1326.2 L917.0,1327.0 L917.7,1327.2 L918.5,1327.6 L919.3,1328.4 L920.1,1328.0 L920.8,1329.0 L921.6,1328.9 L922.4,1328.6 L923.2,1328.7 L923.9,1329.3 L924.7,1329.2 L925.5,1329.7 L926.3,1330.3 L927.0,1330.4 L927.8,1330.4 L928.6,1331.3 L929.4,1331.4 L930.1,1331.8 L930.9,1332.1 L931.7,1332.7 L932.5,1332.7 L933.2,1333.8 L934.0,1334.4 L934.8,1333.8 L935.6,1334.3 L936.3,1334.6 L937.1,1333.4 L937.9,1333.6 L938.7,1334.5 L939.4,1334.6 L940.2,1334.4 L941.0,1333.8 L941.8,1334.3 L942.5,1335.0 L943.3,1335.1 L944.1,1335.1 L944.9,1334.4 L945.6,1335.4 L946.4,1334.9 L947.2,1335.5 L948.0,1334.8 L948.7,1336.0 L949.5,1335.6 L950.3,1335.9 L951.1,1335.3 L951.8,1335.9 L952.6,1335.9 L953.4,1336.0 L954.2,1335.7 L954.9,1336.3 L955.7,1335.8 L956.5,1335.7" stroke="#1c7a3a" stroke-width="2.5" fill="none" stroke-linejoin="round"/>
<path d="M977.5,1338.7 L978.3,1339.6 L979.0,1339.1 L979.8,1339.6 L980.5,1339.3 L981.3,1338.5 L982.0,1339.7 L982.8,1339.3 L983.5,1338.5 L984.3,1339.2 L985.1,1338.2 L985.8,1338.4 L986.6,1337.8 L987.3,1337.5 L988.1,1338.4 L988.8,1336.7 L989.6,1336.5 L990.3,1336.7 L991.1,1336.0 L991.8,1332.3 L992.6,1327.1 L993.4,1319.1 L994.1,1309.0 L994.9,1300.3 L995.6,1290.5 L996.4,1283.9 L997.1,1278.7 L997.9,1277.1 L998.6,1275.5 L999.4,1270.7 L1000.2,1265.5 L1000.9,1258.9 L1001.7,1253.6 L1002.4,1247.4 L1003.2,1243.5 L1003.9,1238.9 L1004.7,1238.9 L1005.4,1238.0 L1006.2,1235.5 L1006.9,1233.0 L1007.7,1231.5 L1008.5,1230.0 L1009.2,1229.0 L1010.0,1230.3 L1010.7,1231.6 L1011.5,1234.7 L1012.2,1237.3 L1013.0,1239.5 L1013.7,1242.5 L1014.5,1242.4 L1015.3,1243.3 L1016.0,1244.9 L1016.8,1248.3 L1017.5,1251.6 L1018.3,1250.6 L1019.0,1253.8 L1019.8,1258.3 L1020.5,1262.1 L1021.3,1266.2 L1022.0,1269.2 L1022.8,1272.6 L1023.6,1273.9 L1024.3,1276.1 L1025.1,1275.6 L1025.8,1277.0 L1026.6,1278.4 L1027.3,1281.9 L1028.1,1283.5 L1028.8,1285.2 L1029.6,1287.9 L1030.4,1291.1 L1031.1,1293.0 L1031.9,1294.6 L1032.6,1297.3 L1033.4,1298.6 L1034.1,1298.7 L1034.9,1298.9 L1035.6,1299.6 L1036.4,1301.4 L1037.1,1300.9 L1037.9,1302.2 L1038.7,1303.7 L1039.4,1306.1 L1040.2,1307.5 L1040.9,1308.7 L1041.7,1310.2 L1042.4,1310.7 L1043.2,1311.9 L1043.9,1313.5 L1044.7,1313.7 L1044.7,1328.2 L1043.9,1327.9 L1043.2,1326.7 L1042.4,1325.7 L1041.7,1325.2 L1040.9,1323.4 L1040.2,1322.3 L1039.4,1320.5 L1038.7,1319.2 L1037.9,1318.0 L1037.1,1316.6 L1036.4,1316.3 L1035.6,1315.4 L1034.9,1315.2 L1034.1,1315.2 L1033.4,1315.5 L1032.6,1313.8 L1031.9,1311.9 L1031.1,1310.6 L1030.4,1309.6 L1029.6,1306.8 L1028.8,1304.2 L1028.1,1304.5 L1027.3,1302.2 L1026.6,1300.1 L1025.8,1299.6 L1025.1,1299.1 L1024.3,1300.0 L1023.6,1299.1 L1022.8,1298.4 L1022.0,1296.9 L1021.3,1294.8 L1020.5,1292.0 L1019.8,1289.3 L1019.0,1285.8 L1018.3,1283.6 L1017.5,1276.2 L1016.8,1274.2 L1016.0,1272.2 L1015.3,1271.0 L1014.5,1270.8 L1013.7,1271.5 L1013.0,1268.5 L1012.2,1266.9 L1011.5,1265.7 L1010.7,1263.0 L1010.0,1261.2 L1009.2,1260.2 L1008.5,1260.1 L1007.7,1262.1 L1006.9,1262.5 L1006.2,1264.0 L1005.4,1266.7 L1004.7,1267.4 L1003.9,1266.7 L1003.2,1269.2 L1002.4,1273.2 L1001.7,1277.6 L1000.9,1282.0 L1000.2,1287.7 L999.4,1291.3 L998.6,1295.6 L997.9,1295.6 L997.1,1295.6 L996.4,1299.7 L995.6,1305.7 L994.9,1314.3 L994.1,1322.5 L993.4,1332.0 L992.6,1338.9 L991.8,1343.3 L991.1,1346.7 L990.3,1346.1 L989.6,1345.4 L988.8,1345.9 L988.1,1346.1 L987.3,1344.7 L986.6,1344.7 L985.8,1345.3 L985.1,1345.2 L984.3,1345.4 L983.5,1344.7 L982.8,1345.0 L982.0,1345.0 L981.3,1344.6 L980.5,1344.3 L979.8,1345.1 L979.0,1344.6 L978.3,1344.8 L977.5,1344.6Z" fill="#a83a98" fill-opacity="0.33" stroke="#a83a98" stroke-opacity="0.53" stroke-width="0.9"/>
<path d="M977.5,1341.4 L978.3,1342.3 L979.0,1342.2 L979.8,1342.5 L980.5,1341.6 L981.3,1341.5 L982.0,1342.1 L982.8,1341.9 L983.5,1341.3 L984.3,1341.7 L985.1,1341.3 L985.8,1341.7 L986.6,1340.7 L987.3,1340.8 L988.1,1341.7 L988.8,1340.9 L989.6,1340.7 L990.3,1341.4 L991.1,1341.1 L991.8,1337.8 L992.6,1332.8 L993.4,1325.3 L994.1,1315.8 L994.9,1307.5 L995.6,1298.4 L996.4,1291.9 L997.1,1287.4 L997.9,1286.5 L998.6,1285.8 L999.4,1281.4 L1000.2,1277.4 L1000.9,1271.2 L1001.7,1266.0 L1002.4,1261.3 L1003.2,1257.1 L1003.9,1253.9 L1004.7,1254.0 L1005.4,1253.2 L1006.2,1250.9 L1006.9,1248.9 L1007.7,1248.2 L1008.5,1246.4 L1009.2,1245.6 L1010.0,1246.7 L1010.7,1248.0 L1011.5,1251.0 L1012.2,1252.9 L1013.0,1254.4 L1013.7,1256.9 L1014.5,1256.4 L1015.3,1257.2 L1016.0,1258.2 L1016.8,1261.3 L1017.5,1263.1 L1018.3,1266.7 L1019.0,1269.3 L1019.8,1273.2 L1020.5,1276.8 L1021.3,1279.7 L1022.0,1282.3 L1022.8,1284.6 L1023.6,1286.1 L1024.3,1287.1 L1025.1,1286.6 L1025.8,1287.9 L1026.6,1288.8 L1027.3,1291.3 L1028.1,1293.3 L1028.8,1294.2 L1029.6,1296.6 L1030.4,1299.6 L1031.1,1301.5 L1031.9,1302.7 L1032.6,1305.2 L1033.4,1306.8 L1034.1,1306.8 L1034.9,1306.8 L1035.6,1307.5 L1036.4,1308.8 L1037.1,1308.9 L1037.9,1310.2 L1038.7,1311.5 L1039.4,1313.7 L1040.2,1315.0 L1040.9,1316.2 L1041.7,1317.8 L1042.4,1318.5 L1043.2,1319.9 L1043.9,1321.5 L1044.7,1321.1" stroke="#a83a98" stroke-width="2.5" fill="none" stroke-linejoin="round"/>
<text x="-9.9" y="8.0" font-size="62" font-weight="200" style="font-family:'DejaVu Sans',sans-serif" transform="translate(1078.9 1080.4) translate(8.0 -8.0) rotate(-15) scale(0.95) translate(-8.0 8.0)">♂</text>
<text x="1107.2" y="1080.4" font-size="24.8"><tspan font-style="italic">D. yakuba</tspan> – dsx&gt;GCaMP</text>
<path d="M1103.7,1137.4 H1112.7 V1397.1 H1103.7" stroke="#000" stroke-width="2" fill="none"/>
<text x="1098.7" y="1145.9" font-size="24.8" text-anchor="end">1</text>
<text x="1098.7" y="1405.6" font-size="24.8" text-anchor="end">0</text>
<text x="1101.5" y="1267.2" font-size="24.8" text-anchor="middle" transform="rotate(-90 1101.5 1267.2)"><tspan font-style="italic">ΔF/F</tspan></text>
<text x="1144.6" y="1123.8" font-size="24.8" text-anchor="middle">a</text>
<text x="1226.6" y="1123.8" font-size="24.8" text-anchor="middle">b</text>
<text x="1301.9" y="1123.8" font-size="24.8" text-anchor="middle">a</text>
<text x="1382.7" y="1123.8" font-size="24.8" text-anchor="middle">a</text>
<text x="-13.5" y="6.3" font-size="58.6" font-weight="200" style="font-family:'DejaVu Sans',sans-serif" transform="translate(1102.8 1431.3)">♀</text>
<text x="1145.0" y="1431.3" font-size="24.8" text-anchor="middle">mel</text>
<text x="1228.0" y="1431.3" font-size="24.8" text-anchor="middle">yak</text>
<text x="1302.7" y="1431.3" font-size="24.8" text-anchor="middle">sim</text>
<text x="1382.3" y="1431.3" font-size="24.8" text-anchor="middle">ere</text>
<circle cx="1145.0" cy="1335.0" r="9.6" fill="#3f9160" fill-opacity="0.5"/>
<circle cx="1145.0" cy="1350.4" r="9.6" fill="#3f9160" fill-opacity="0.5"/>
<circle cx="1139.1" cy="1359.6" r="9.6" fill="#3f9160" fill-opacity="0.5"/>
<circle cx="1151.3" cy="1358.9" r="9.6" fill="#3f9160" fill-opacity="0.5"/>
<circle cx="1138.4" cy="1373.6" r="9.6" fill="#3f9160" fill-opacity="0.5"/>
<circle cx="1152.4" cy="1377.3" r="9.6" fill="#3f9160" fill-opacity="0.5"/>
<circle cx="1145.0" cy="1381.7" r="9.6" fill="#3f9160" fill-opacity="0.5"/>
<circle cx="1231.0" cy="1159.4" r="9.6" fill="#c571b8" fill-opacity="0.55"/>
<circle cx="1222.2" cy="1168.6" r="9.6" fill="#c571b8" fill-opacity="0.55"/>
<circle cx="1229.1" cy="1178.5" r="9.6" fill="#c571b8" fill-opacity="0.55"/>
<circle cx="1225.8" cy="1190.6" r="9.6" fill="#c571b8" fill-opacity="0.55"/>
<circle cx="1227.3" cy="1220.0" r="9.6" fill="#c571b8" fill-opacity="0.55"/>
<circle cx="1227.3" cy="1283.2" r="9.6" fill="#c571b8" fill-opacity="0.55"/>
<circle cx="1223.6" cy="1314.8" r="9.6" fill="#c571b8" fill-opacity="0.55"/>
<circle cx="1231.0" cy="1324.0" r="9.6" fill="#c571b8" fill-opacity="0.55"/>
<circle cx="1302.6" cy="1254.2" r="9.6" fill="#7fcabb" fill-opacity="0.55"/>
<circle cx="1302.6" cy="1280.6" r="9.6" fill="#7fcabb" fill-opacity="0.55"/>
<circle cx="1302.6" cy="1299.0" r="9.6" fill="#7fcabb" fill-opacity="0.55"/>
<circle cx="1298.2" cy="1348.6" r="9.6" fill="#7fcabb" fill-opacity="0.55"/>
<circle cx="1307.4" cy="1352.3" r="9.6" fill="#7fcabb" fill-opacity="0.55"/>
<circle cx="1302.6" cy="1359.6" r="9.6" fill="#7fcabb" fill-opacity="0.55"/>
<circle cx="1300.0" cy="1344.9" r="9.6" fill="#7fcabb" fill-opacity="0.55"/>
<circle cx="1382.0" cy="1351.5" r="9.6" fill="#6f5fb4" fill-opacity="0.6"/>
<circle cx="1377.2" cy="1362.6" r="9.6" fill="#6f5fb4" fill-opacity="0.6"/>
<circle cx="1387.5" cy="1362.6" r="9.6" fill="#6f5fb4" fill-opacity="0.6"/>
<circle cx="1374.3" cy="1367.7" r="9.6" fill="#6f5fb4" fill-opacity="0.6"/>
<circle cx="1391.2" cy="1367.0" r="9.6" fill="#6f5fb4" fill-opacity="0.6"/>
<circle cx="1382.0" cy="1372.5" r="9.6" fill="#6f5fb4" fill-opacity="0.6"/>
<circle cx="1382.0" cy="1383.5" r="9.6" fill="#6f5fb4" fill-opacity="0.6"/>
<line x1="1140.2" y1="1364.0" x2="1150.2" y2="1364.0" stroke="#000" stroke-width="2" stroke-linecap="butt"/>
<line x1="1145.0" y1="1359.6" x2="1145.0" y2="1368.8" stroke="#000" stroke-width="2" stroke-linecap="butt"/>
<line x1="1222.2" y1="1229.9" x2="1232.4" y2="1229.9" stroke="#000" stroke-width="2" stroke-linecap="butt"/>
<line x1="1227.3" y1="1206.1" x2="1227.3" y2="1253.8" stroke="#000" stroke-width="2" stroke-linecap="butt"/>
<line x1="1297.1" y1="1319.6" x2="1308.1" y2="1319.6" stroke="#000" stroke-width="2" stroke-linecap="butt"/>
<line x1="1302.6" y1="1305.6" x2="1302.6" y2="1333.2" stroke="#000" stroke-width="2" stroke-linecap="butt"/>
<line x1="1377.2" y1="1367.0" x2="1386.7" y2="1367.0" stroke="#000" stroke-width="2" stroke-linecap="butt"/>
<line x1="1382.0" y1="1364.8" x2="1382.0" y2="1369.2" stroke="#000" stroke-width="2" stroke-linecap="butt"/>
<text x="1522.0" y="1080.7" font-size="31.5" font-weight="bold" stroke="#000" stroke-width="1.6">e</text>
<text x="-9.9" y="8.0" font-size="62" font-weight="200" style="font-family:'DejaVu Sans',sans-serif" transform="translate(1630.4 1081.3) translate(8.0 -8.0) rotate(-15) scale(0.95) translate(-8.0 8.0)">♂</text>
<text x="1658.2" y="1081.3" font-size="24.8"><tspan font-style="italic">D. yakuba</tspan> – Δppk25; dsx&gt;GCaMP</text>
<path d="M1544.0,1339.8 H1558.2 V1248.3" stroke="#000" stroke-width="2" fill="none"/>
<text x="1544.7" y="1290.0" font-size="24.8" text-anchor="middle" transform="rotate(-90 1544.7 1290.0)">0.5 <tspan font-style="italic">ΔF/F</tspan></text>
<text x="1532.8" y="1365.9" font-size="24.8">2 s</text>
<line x1="1588.0" y1="1347.2" x2="1588.0" y2="1359.9" stroke="#000" stroke-width="3.6" stroke-linecap="butt"/>
<line x1="1675.4" y1="1347.2" x2="1675.4" y2="1359.9" stroke="#000" stroke-width="3.6" stroke-linecap="butt"/>
<text x="-13.5" y="6.3" font-size="58.6" font-weight="200" style="font-family:'DejaVu Sans',sans-serif" transform="translate(1576.9 1395.0)">♀</text>
<text x="1597.2" y="1395.0" font-size="24.8">mel</text>
<text x="-13.5" y="6.3" font-size="58.6" font-weight="200" style="font-family:'DejaVu Sans',sans-serif" transform="translate(1669.0 1395.0)">♀</text>
<text x="1688.7" y="1395.0" font-size="24.8">yak</text>
<path d="M1572.8,1338.0 L1573.6,1336.7 L1574.3,1337.9 L1575.1,1337.3 L1575.8,1338.6 L1576.6,1337.3 L1577.4,1338.7 L1578.1,1337.4 L1578.9,1338.1 L1579.7,1338.5 L1580.4,1337.0 L1581.2,1337.3 L1581.9,1338.2 L1582.7,1337.1 L1583.5,1337.5 L1584.2,1336.8 L1585.0,1338.7 L1585.8,1337.9 L1586.5,1338.2 L1587.3,1337.3 L1588.0,1336.7 L1588.8,1335.6 L1589.6,1333.6 L1590.3,1332.5 L1591.1,1330.8 L1591.8,1329.4 L1592.6,1330.3 L1593.4,1329.6 L1594.1,1330.1 L1594.9,1330.2 L1595.7,1330.3 L1596.4,1330.1 L1597.2,1330.6 L1597.9,1331.7 L1598.7,1331.2 L1599.5,1332.0 L1600.2,1330.2 L1601.0,1330.6 L1601.7,1330.6 L1602.5,1332.6 L1603.3,1331.6 L1604.0,1331.7 L1604.8,1331.8 L1605.6,1331.9 L1606.3,1332.3 L1607.1,1332.0 L1607.8,1331.7 L1608.6,1332.3 L1609.4,1332.9 L1610.1,1333.6 L1610.9,1333.4 L1611.7,1333.4 L1612.4,1334.4 L1613.2,1333.4 L1613.9,1334.6 L1614.7,1334.9 L1615.5,1334.7 L1616.2,1335.0 L1617.0,1335.3 L1617.7,1335.1 L1618.5,1336.1 L1619.3,1335.3 L1620.0,1335.9 L1620.8,1335.5 L1621.6,1336.4 L1622.3,1336.3 L1623.1,1335.4 L1623.8,1335.5 L1624.6,1336.1 L1625.4,1336.0 L1626.1,1337.1 L1626.9,1336.5 L1627.6,1337.1 L1628.4,1336.5 L1629.2,1335.5 L1629.9,1337.7 L1630.7,1337.6 L1631.5,1335.9 L1632.2,1337.5 L1633.0,1337.4 L1633.7,1337.9 L1634.5,1336.9 L1635.3,1336.6 L1636.0,1337.9 L1636.8,1338.0 L1637.6,1337.3 L1638.3,1338.6 L1639.1,1338.0 L1639.8,1337.6 L1640.6,1337.5 L1640.6,1339.6 L1639.8,1340.3 L1639.1,1340.0 L1638.3,1340.5 L1637.6,1340.0 L1636.8,1340.5 L1636.0,1340.9 L1635.3,1339.4 L1634.5,1339.4 L1633.7,1340.7 L1633.0,1339.5 L1632.2,1339.7 L1631.5,1339.4 L1630.7,1339.8 L1629.9,1339.5 L1629.2,1338.5 L1628.4,1338.9 L1627.6,1338.9 L1626.9,1339.9 L1626.1,1339.2 L1625.4,1338.2 L1624.6,1338.7 L1623.8,1337.9 L1623.1,1338.1 L1622.3,1338.9 L1621.6,1339.5 L1620.8,1337.6 L1620.0,1337.8 L1619.3,1338.2 L1618.5,1339.2 L1617.7,1338.1 L1617.0,1338.4 L1616.2,1337.4 L1615.5,1337.6 L1614.7,1336.7 L1613.9,1337.6 L1613.2,1336.8 L1612.4,1337.1 L1611.7,1336.0 L1610.9,1336.2 L1610.1,1336.2 L1609.4,1335.4 L1608.6,1334.4 L1607.8,1334.3 L1607.1,1333.7 L1606.3,1334.9 L1605.6,1334.9 L1604.8,1334.3 L1604.0,1334.9 L1603.3,1334.8 L1602.5,1335.3 L1601.7,1334.1 L1601.0,1334.0 L1600.2,1332.7 L1599.5,1334.3 L1598.7,1334.0 L1597.9,1333.8 L1597.2,1333.8 L1596.4,1332.6 L1595.7,1332.4 L1594.9,1333.2 L1594.1,1332.3 L1593.4,1332.1 L1592.6,1332.7 L1591.8,1332.6 L1591.1,1334.3 L1590.3,1335.5 L1589.6,1336.7 L1588.8,1338.0 L1588.0,1339.6 L1587.3,1339.0 L1586.5,1340.6 L1585.8,1341.3 L1585.0,1341.1 L1584.2,1339.5 L1583.5,1339.7 L1582.7,1340.1 L1581.9,1340.4 L1581.2,1340.5 L1580.4,1340.4 L1579.7,1340.7 L1578.9,1340.7 L1578.1,1340.8 L1577.4,1341.3 L1576.6,1339.9 L1575.8,1340.9 L1575.1,1340.0 L1574.3,1340.5 L1573.6,1339.7 L1572.8,1340.5Z" fill="#1c7a3a" fill-opacity="0.33" stroke="#1c7a3a" stroke-opacity="0.53" stroke-width="0.9"/>
<path d="M1572.8,1339.7 L1573.6,1338.2 L1574.3,1339.4 L1575.1,1338.5 L1575.8,1339.8 L1576.6,1338.2 L1577.4,1339.6 L1578.1,1339.3 L1578.9,1339.6 L1579.7,1339.8 L1580.4,1338.6 L1581.2,1338.7 L1581.9,1339.3 L1582.7,1338.6 L1583.5,1338.6 L1584.2,1338.6 L1585.0,1339.6 L1585.8,1339.6 L1586.5,1339.5 L1587.3,1338.2 L1588.0,1338.5 L1588.8,1336.7 L1589.6,1334.9 L1590.3,1333.9 L1591.1,1332.6 L1591.8,1331.1 L1592.6,1331.2 L1593.4,1330.8 L1594.1,1331.2 L1594.9,1331.8 L1595.7,1331.5 L1596.4,1331.3 L1597.2,1332.3 L1597.9,1332.7 L1598.7,1332.1 L1599.5,1333.1 L1600.2,1331.8 L1601.0,1332.2 L1601.7,1332.3 L1602.5,1333.7 L1603.3,1333.3 L1604.0,1333.4 L1604.8,1332.7 L1605.6,1333.2 L1606.3,1334.0 L1607.1,1332.9 L1607.8,1333.1 L1608.6,1333.2 L1609.4,1334.1 L1610.1,1335.0 L1610.9,1334.8 L1611.7,1334.8 L1612.4,1335.2 L1613.2,1335.0 L1613.9,1336.5 L1614.7,1335.8 L1615.5,1335.8 L1616.2,1336.1 L1617.0,1337.1 L1617.7,1336.5 L1618.5,1337.5 L1619.3,1336.7 L1620.0,1336.9 L1620.8,1336.3 L1621.6,1337.7 L1622.3,1337.5 L1623.1,1337.1 L1623.8,1336.5 L1624.6,1337.2 L1625.4,1337.1 L1626.1,1337.9 L1626.9,1338.2 L1627.6,1338.0 L1628.4,1337.4 L1629.2,1337.1 L1629.9,1338.6 L1630.7,1338.8 L1631.5,1337.6 L1632.2,1338.3 L1633.0,1338.3 L1633.7,1339.2 L1634.5,1337.8 L1635.3,1338.0 L1636.0,1339.3 L1636.8,1338.9 L1637.6,1338.8 L1638.3,1339.4 L1639.1,1339.1 L1639.8,1339.3 L1640.6,1338.6" stroke="#1c7a3a" stroke-width="2.5" fill="none" stroke-linejoin="round"/>
<path d="M1659.2,1336.4 L1660.0,1336.6 L1660.7,1336.1 L1661.5,1336.9 L1662.3,1336.7 L1663.0,1336.8 L1663.8,1336.1 L1664.6,1337.2 L1665.3,1336.0 L1666.1,1337.3 L1666.9,1336.7 L1667.7,1337.0 L1668.4,1338.2 L1669.2,1337.1 L1670.0,1337.8 L1670.7,1337.9 L1671.5,1337.8 L1672.3,1338.3 L1673.0,1338.1 L1673.8,1337.5 L1674.6,1335.1 L1675.3,1335.2 L1676.1,1333.6 L1676.9,1332.1 L1677.6,1329.7 L1678.4,1328.9 L1679.2,1328.4 L1680.0,1328.9 L1680.7,1328.8 L1681.5,1328.5 L1682.3,1329.5 L1683.0,1330.6 L1683.8,1329.6 L1684.6,1329.9 L1685.3,1330.9 L1686.1,1331.7 L1686.9,1331.7 L1687.6,1331.6 L1688.4,1331.1 L1689.2,1331.4 L1689.9,1331.1 L1690.7,1331.5 L1691.5,1331.4 L1692.2,1331.8 L1693.0,1332.9 L1693.8,1332.0 L1694.6,1333.5 L1695.3,1332.3 L1696.1,1333.8 L1696.9,1333.6 L1697.6,1333.5 L1698.4,1333.2 L1699.2,1333.6 L1699.9,1333.8 L1700.7,1334.0 L1701.5,1334.0 L1702.2,1334.1 L1703.0,1334.9 L1703.8,1335.0 L1704.5,1335.8 L1705.3,1335.3 L1706.1,1335.0 L1706.8,1335.3 L1707.6,1335.8 L1708.4,1336.7 L1709.2,1335.7 L1709.9,1335.9 L1710.7,1336.4 L1711.5,1335.2 L1712.2,1335.0 L1713.0,1336.0 L1713.8,1336.3 L1714.5,1336.3 L1715.3,1337.4 L1716.1,1337.7 L1716.8,1337.0 L1717.6,1337.9 L1718.4,1338.6 L1719.1,1338.1 L1719.9,1337.0 L1720.7,1338.2 L1721.5,1337.3 L1722.2,1337.4 L1723.0,1337.4 L1723.8,1338.7 L1724.5,1339.3 L1725.3,1337.7 L1726.1,1338.0 L1726.8,1338.0 L1727.6,1338.4 L1727.6,1340.3 L1726.8,1341.5 L1726.1,1340.9 L1725.3,1341.1 L1724.5,1341.6 L1723.8,1341.5 L1723.0,1339.7 L1722.2,1340.4 L1721.5,1340.2 L1720.7,1340.5 L1719.9,1339.9 L1719.1,1341.1 L1718.4,1340.8 L1717.6,1339.7 L1716.8,1339.0 L1716.1,1340.3 L1715.3,1339.2 L1714.5,1338.0 L1713.8,1338.0 L1713.0,1338.2 L1712.2,1338.0 L1711.5,1337.7 L1710.7,1339.6 L1709.9,1338.9 L1709.2,1339.4 L1708.4,1339.1 L1707.6,1338.2 L1706.8,1338.3 L1706.1,1338.6 L1705.3,1338.1 L1704.5,1338.0 L1703.8,1337.4 L1703.0,1337.2 L1702.2,1337.5 L1701.5,1337.0 L1700.7,1336.6 L1699.9,1337.0 L1699.2,1336.2 L1698.4,1335.7 L1697.6,1336.4 L1696.9,1335.4 L1696.1,1335.7 L1695.3,1335.3 L1694.6,1335.2 L1693.8,1334.4 L1693.0,1335.3 L1692.2,1334.3 L1691.5,1334.1 L1690.7,1334.5 L1689.9,1334.1 L1689.2,1333.7 L1688.4,1333.8 L1687.6,1334.4 L1686.9,1334.3 L1686.1,1334.3 L1685.3,1333.8 L1684.6,1332.2 L1683.8,1331.6 L1683.0,1332.2 L1682.3,1331.5 L1681.5,1331.3 L1680.7,1331.3 L1680.0,1331.7 L1679.2,1330.9 L1678.4,1332.1 L1677.6,1332.7 L1676.9,1334.6 L1676.1,1336.3 L1675.3,1337.8 L1674.6,1338.3 L1673.8,1340.1 L1673.0,1340.9 L1672.3,1341.0 L1671.5,1339.7 L1670.7,1340.5 L1670.0,1340.4 L1669.2,1339.3 L1668.4,1340.1 L1667.7,1339.8 L1666.9,1339.3 L1666.1,1339.4 L1665.3,1339.4 L1664.6,1340.2 L1663.8,1338.7 L1663.0,1339.7 L1662.3,1338.8 L1661.5,1339.8 L1660.7,1338.9 L1660.0,1338.8 L1659.2,1339.3Z" fill="#a83a98" fill-opacity="0.33" stroke="#a83a98" stroke-opacity="0.53" stroke-width="0.9"/>
<path d="M1659.2,1337.8 L1660.0,1338.0 L1660.7,1337.9 L1661.5,1338.0 L1662.3,1338.0 L1663.0,1338.4 L1663.8,1337.9 L1664.6,1338.6 L1665.3,1337.6 L1666.1,1338.2 L1666.9,1338.3 L1667.7,1338.1 L1668.4,1339.1 L1669.2,1338.5 L1670.0,1339.3 L1670.7,1339.7 L1671.5,1338.6 L1672.3,1339.6 L1673.0,1339.5 L1673.8,1338.8 L1674.6,1336.9 L1675.3,1336.3 L1676.1,1335.1 L1676.9,1333.0 L1677.6,1331.5 L1678.4,1330.6 L1679.2,1329.8 L1680.0,1330.5 L1680.7,1329.8 L1681.5,1330.1 L1682.3,1330.7 L1683.0,1331.5 L1683.8,1330.7 L1684.6,1330.6 L1685.3,1332.5 L1686.1,1332.6 L1686.9,1332.8 L1687.6,1332.6 L1688.4,1332.4 L1689.2,1332.4 L1689.9,1332.7 L1690.7,1333.0 L1691.5,1332.4 L1692.2,1333.5 L1693.0,1333.7 L1693.8,1332.7 L1694.6,1334.3 L1695.3,1333.9 L1696.1,1334.8 L1696.9,1334.4 L1697.6,1335.2 L1698.4,1334.9 L1699.2,1335.4 L1699.9,1335.5 L1700.7,1335.0 L1701.5,1335.4 L1702.2,1335.8 L1703.0,1336.3 L1703.8,1336.4 L1704.5,1336.8 L1705.3,1337.1 L1706.1,1336.8 L1706.8,1336.7 L1707.6,1337.0 L1708.4,1337.8 L1709.2,1337.5 L1709.9,1337.4 L1710.7,1337.8 L1711.5,1336.9 L1712.2,1336.8 L1713.0,1337.0 L1713.8,1337.1 L1714.5,1337.1 L1715.3,1338.3 L1716.1,1338.9 L1716.8,1337.8 L1717.6,1338.9 L1718.4,1339.4 L1719.1,1339.3 L1719.9,1338.5 L1720.7,1339.4 L1721.5,1339.0 L1722.2,1339.0 L1723.0,1338.8 L1723.8,1339.8 L1724.5,1340.5 L1725.3,1339.3 L1726.1,1339.4 L1726.8,1339.8 L1727.6,1339.3" stroke="#a83a98" stroke-width="2.5" fill="none" stroke-linejoin="round"/>
<path d="M1826.0,1137.6 H1835.0 V1397.4 H1826.0" stroke="#000" stroke-width="2" fill="none"/>
<text x="1821.0" y="1146.1" font-size="24.8" text-anchor="end">1</text>
<text x="1821.0" y="1405.9" font-size="24.8" text-anchor="end">0</text>
<text x="1824.2" y="1267.5" font-size="24.8" text-anchor="middle" transform="rotate(-90 1824.2 1267.5)"><tspan font-style="italic">ΔF/F</tspan></text>
<text x="1872.6" y="1123.0" font-size="24.8" text-anchor="middle">a</text>
<text x="1937.6" y="1123.0" font-size="24.8" text-anchor="middle">a</text>
<text x="2006.4" y="1123.0" font-size="24.8" text-anchor="middle">a</text>
<text x="2078.2" y="1123.0" font-size="24.8" text-anchor="middle">a</text>
<text x="-13.5" y="6.3" font-size="58.6" font-weight="200" style="font-family:'DejaVu Sans',sans-serif" transform="translate(1839.4 1431.3)">♀</text>
<text x="1881.7" y="1431.3" font-size="24.8" text-anchor="middle">mel</text>
<text x="1939.3" y="1431.3" font-size="24.8" text-anchor="middle">yak</text>
<text x="2005.7" y="1431.3" font-size="24.8" text-anchor="middle">sim</text>
<text x="2081.3" y="1431.3" font-size="24.8" text-anchor="middle">ere</text>
<circle cx="1876.0" cy="1361.8" r="9.5" fill="#3f9160" fill-opacity="0.5"/>
<circle cx="1868.2" cy="1372.7" r="9.5" fill="#3f9160" fill-opacity="0.5"/>
<circle cx="1853.0" cy="1380.4" r="9.5" fill="#3f9160" fill-opacity="0.5"/>
<circle cx="1863.1" cy="1380.4" r="9.5" fill="#3f9160" fill-opacity="0.5"/>
<circle cx="1875.0" cy="1381.1" r="9.5" fill="#3f9160" fill-opacity="0.5"/>
<circle cx="1884.5" cy="1382.1" r="9.5" fill="#3f9160" fill-opacity="0.5"/>
<circle cx="1891.9" cy="1380.4" r="9.5" fill="#3f9160" fill-opacity="0.5"/>
<circle cx="1937.6" cy="1363.5" r="9.5" fill="#c571b8" fill-opacity="0.55"/>
<circle cx="1919.0" cy="1370.3" r="9.5" fill="#c571b8" fill-opacity="0.55"/>
<circle cx="1929.2" cy="1373.7" r="9.5" fill="#c571b8" fill-opacity="0.55"/>
<circle cx="1947.8" cy="1373.7" r="9.5" fill="#c571b8" fill-opacity="0.55"/>
<circle cx="1957.0" cy="1370.3" r="9.5" fill="#c571b8" fill-opacity="0.55"/>
<circle cx="1929.2" cy="1384.9" r="9.5" fill="#c571b8" fill-opacity="0.55"/>
<circle cx="1946.8" cy="1382.1" r="9.5" fill="#c571b8" fill-opacity="0.55"/>
<circle cx="1988.5" cy="1370.3" r="9.5" fill="#7fcabb" fill-opacity="0.55"/>
<circle cx="1998.6" cy="1373.7" r="9.5" fill="#7fcabb" fill-opacity="0.55"/>
<circle cx="2006.1" cy="1375.4" r="9.5" fill="#7fcabb" fill-opacity="0.55"/>
<circle cx="1986.8" cy="1385.5" r="9.5" fill="#7fcabb" fill-opacity="0.55"/>
<circle cx="1998.6" cy="1383.8" r="9.5" fill="#7fcabb" fill-opacity="0.55"/>
<circle cx="2015.6" cy="1386.2" r="9.5" fill="#7fcabb" fill-opacity="0.55"/>
<circle cx="2025.0" cy="1383.8" r="9.5" fill="#7fcabb" fill-opacity="0.55"/>
<circle cx="2068.7" cy="1354.4" r="9.5" fill="#6f5fb4" fill-opacity="0.6"/>
<circle cx="2081.6" cy="1362.5" r="9.5" fill="#6f5fb4" fill-opacity="0.6"/>
<circle cx="2089.4" cy="1363.5" r="9.5" fill="#6f5fb4" fill-opacity="0.6"/>
<circle cx="2059.6" cy="1380.4" r="9.5" fill="#6f5fb4" fill-opacity="0.6"/>
<circle cx="2069.8" cy="1377.1" r="9.5" fill="#6f5fb4" fill-opacity="0.6"/>
<circle cx="2086.7" cy="1378.8" r="9.5" fill="#6f5fb4" fill-opacity="0.6"/>
<circle cx="2097.9" cy="1381.1" r="9.5" fill="#6f5fb4" fill-opacity="0.6"/>
<line x1="1861.4" y1="1377.1" x2="1883.4" y2="1377.1" stroke="#000" stroke-width="2" stroke-linecap="butt"/>
<line x1="1872.6" y1="1374.7" x2="1872.6" y2="1379.4" stroke="#000" stroke-width="2" stroke-linecap="butt"/>
<line x1="1926.5" y1="1374.0" x2="1948.8" y2="1374.0" stroke="#000" stroke-width="2" stroke-linecap="butt"/>
<line x1="1937.6" y1="1371.6" x2="1937.6" y2="1376.4" stroke="#000" stroke-width="2" stroke-linecap="butt"/>
<line x1="1995.2" y1="1379.8" x2="2017.2" y2="1379.8" stroke="#000" stroke-width="2" stroke-linecap="butt"/>
<line x1="2006.1" y1="1378.1" x2="2006.1" y2="1381.5" stroke="#000" stroke-width="2" stroke-linecap="butt"/>
<line x1="2067.4" y1="1372.3" x2="2090.1" y2="1372.3" stroke="#000" stroke-width="2" stroke-linecap="butt"/>
<line x1="2078.9" y1="1368.6" x2="2078.9" y2="1376.0" stroke="#000" stroke-width="2" stroke-linecap="butt"/>
<text x="0.0" y="1520.9" font-size="31.5" font-weight="bold" stroke="#000" stroke-width="1.6">f</text>
<text x="-9.9" y="8.0" font-size="62" font-weight="200" style="font-family:'DejaVu Sans',sans-serif" transform="translate(146.6 1593.8) translate(8.0 -8.0) rotate(-15) scale(0.95) translate(-8.0 8.0)">♂</text>
<text x="179.5" y="1593.8" font-size="24.8"><tspan font-style="italic">D. yakuba</tspan> – Dsx<tspan style="font-family:'Noto Sans CJK JP',sans-serif" font-size="0.9em" dx="-2.5" letter-spacing="-3.6">∩</tspan>P1&gt;GCaMP</text>
<path d="M62,1842 H74.8 V1750" stroke="#000" stroke-width="2" fill="none"/>
<text x="62.0" y="1792.0" font-size="24.8" text-anchor="middle" transform="rotate(-90 62.0 1792.0)">0.5 <tspan font-style="italic">ΔF/F</tspan></text>
<text x="50.4" y="1865.2" font-size="24.8">2 s</text>
<line x1="99.7" y1="1849.7" x2="99.7" y2="1861.8" stroke="#000" stroke-width="3.6" stroke-linecap="butt"/>
<line x1="185.7" y1="1849.7" x2="185.7" y2="1861.8" stroke="#000" stroke-width="3.6" stroke-linecap="butt"/>
<path d="M84.5,1843.1 L85.3,1843.8 L86.0,1843.1 L86.8,1843.4 L87.6,1842.0 L88.3,1843.7 L89.1,1843.7 L89.8,1842.5 L90.6,1842.5 L91.4,1841.6 L92.1,1842.1 L92.9,1842.4 L93.7,1842.0 L94.4,1841.4 L95.2,1841.9 L95.9,1841.8 L96.7,1841.7 L97.5,1840.8 L98.2,1842.7 L99.0,1841.8 L99.8,1842.1 L100.5,1840.5 L101.3,1837.1 L102.0,1836.1 L102.8,1834.1 L103.6,1831.3 L104.3,1831.9 L105.1,1829.7 L105.9,1829.1 L106.6,1830.1 L107.4,1829.3 L108.2,1830.3 L108.9,1829.2 L109.7,1828.8 L110.4,1828.5 L111.2,1828.7 L112.0,1828.2 L112.7,1827.9 L113.5,1828.2 L114.3,1827.2 L115.0,1828.2 L115.8,1827.4 L116.5,1828.9 L117.3,1829.1 L118.1,1829.8 L118.8,1829.8 L119.6,1830.5 L120.4,1830.9 L121.1,1830.6 L121.9,1831.4 L122.6,1832.8 L123.4,1832.0 L124.2,1834.8 L124.9,1834.7 L125.7,1834.4 L126.5,1834.9 L127.2,1836.4 L128.0,1836.7 L128.7,1838.2 L129.5,1837.5 L130.3,1837.1 L131.0,1837.1 L131.8,1838.5 L132.6,1839.7 L133.3,1838.6 L134.1,1838.7 L134.9,1839.2 L135.6,1839.1 L136.4,1838.9 L137.1,1840.1 L137.9,1840.0 L138.7,1840.3 L139.4,1839.9 L140.2,1839.6 L141.0,1840.3 L141.7,1841.9 L142.5,1841.4 L143.2,1841.3 L144.0,1841.2 L144.8,1841.2 L145.5,1841.1 L146.3,1843.0 L147.1,1842.4 L147.8,1842.6 L148.6,1842.8 L149.3,1843.3 L150.1,1844.1 L150.9,1843.5 L151.6,1842.5 L152.4,1843.5 L152.4,1847.0 L151.6,1846.1 L150.9,1847.2 L150.1,1846.4 L149.3,1845.9 L148.6,1846.2 L147.8,1845.1 L147.1,1846.4 L146.3,1845.7 L145.5,1844.9 L144.8,1843.8 L144.0,1843.9 L143.2,1844.4 L142.5,1843.4 L141.7,1845.2 L141.0,1843.7 L140.2,1843.5 L139.4,1843.1 L138.7,1843.8 L137.9,1843.5 L137.1,1843.4 L136.4,1842.6 L135.6,1843.1 L134.9,1843.3 L134.1,1842.6 L133.3,1842.3 L132.6,1843.7 L131.8,1843.3 L131.0,1842.0 L130.3,1841.7 L129.5,1842.3 L128.7,1843.1 L128.0,1841.4 L127.2,1841.7 L126.5,1841.7 L125.7,1840.6 L124.9,1842.0 L124.2,1841.0 L123.4,1839.9 L122.6,1840.3 L121.9,1839.5 L121.1,1838.8 L120.4,1838.9 L119.6,1837.9 L118.8,1838.4 L118.1,1837.8 L117.3,1837.8 L116.5,1837.5 L115.8,1836.9 L115.0,1837.8 L114.3,1837.0 L113.5,1837.7 L112.7,1836.7 L112.0,1837.1 L111.2,1836.7 L110.4,1837.2 L109.7,1836.9 L108.9,1836.8 L108.2,1837.7 L107.4,1836.1 L106.6,1838.0 L105.9,1836.4 L105.1,1836.2 L104.3,1837.3 L103.6,1837.9 L102.8,1839.4 L102.0,1841.7 L101.3,1842.9 L100.5,1845.7 L99.8,1845.9 L99.0,1846.0 L98.2,1846.3 L97.5,1845.1 L96.7,1845.4 L95.9,1845.6 L95.2,1845.8 L94.4,1845.2 L93.7,1846.3 L92.9,1845.5 L92.1,1845.5 L91.4,1845.2 L90.6,1845.5 L89.8,1845.7 L89.1,1845.9 L88.3,1846.4 L87.6,1845.9 L86.8,1845.7 L86.0,1846.0 L85.3,1846.4 L84.5,1845.7Z" fill="#9db4f5" fill-opacity="0.33" stroke="#9db4f5" stroke-opacity="0.53" stroke-width="0.9"/>
<path d="M84.5,1844.1 L85.3,1844.9 L86.0,1844.8 L86.8,1844.5 L87.6,1844.0 L88.3,1844.9 L89.1,1844.9 L89.8,1844.3 L90.6,1844.2 L91.4,1843.7 L92.1,1843.3 L92.9,1843.8 L93.7,1844.1 L94.4,1843.2 L95.2,1844.3 L95.9,1843.3 L96.7,1843.3 L97.5,1842.9 L98.2,1844.4 L99.0,1844.0 L99.8,1844.1 L100.5,1842.8 L101.3,1840.2 L102.0,1838.6 L102.8,1836.8 L103.6,1834.4 L104.3,1834.6 L105.1,1833.4 L105.9,1833.0 L106.6,1834.0 L107.4,1832.8 L108.2,1834.0 L108.9,1833.2 L109.7,1833.2 L110.4,1832.8 L111.2,1832.9 L112.0,1832.3 L112.7,1832.0 L113.5,1833.2 L114.3,1832.2 L115.0,1833.0 L115.8,1832.2 L116.5,1833.5 L117.3,1833.6 L118.1,1833.7 L118.8,1834.0 L119.6,1834.1 L120.4,1834.8 L121.1,1834.3 L121.9,1835.4 L122.6,1836.5 L123.4,1836.0 L124.2,1837.7 L124.9,1838.2 L125.7,1837.9 L126.5,1838.4 L127.2,1839.0 L128.0,1839.3 L128.7,1840.6 L129.5,1839.9 L130.3,1839.6 L131.0,1839.9 L131.8,1840.9 L132.6,1841.4 L133.3,1840.6 L134.1,1840.7 L134.9,1840.9 L135.6,1841.3 L136.4,1840.6 L137.1,1841.4 L137.9,1841.5 L138.7,1841.8 L139.4,1841.3 L140.2,1841.5 L141.0,1842.0 L141.7,1843.1 L142.5,1842.4 L143.2,1843.1 L144.0,1842.8 L144.8,1842.7 L145.5,1842.8 L146.3,1844.2 L147.1,1844.4 L147.8,1843.9 L148.6,1844.5 L149.3,1844.6 L150.1,1845.1 L150.9,1845.3 L151.6,1844.4 L152.4,1845.4" stroke="#6486f0" stroke-width="2.5" fill="none" stroke-linejoin="round"/>
<path d="M172.5,1843.3 L173.3,1841.4 L174.0,1841.3 L174.8,1842.9 L175.6,1841.3 L176.4,1840.4 L177.1,1841.8 L177.9,1840.6 L178.7,1841.5 L179.4,1839.8 L180.2,1841.1 L181.0,1839.6 L181.8,1840.5 L182.5,1840.1 L183.3,1839.6 L184.1,1839.5 L184.9,1839.5 L185.6,1837.0 L186.4,1838.8 L187.2,1832.9 L187.9,1823.3 L188.7,1811.5 L189.5,1799.3 L190.3,1787.3 L191.0,1779.9 L191.8,1776.5 L192.6,1772.3 L193.3,1765.5 L194.1,1757.7 L194.9,1750.7 L195.7,1745.9 L196.4,1746.8 L197.2,1746.1 L198.0,1747.8 L198.7,1750.0 L199.5,1749.9 L200.3,1749.2 L201.1,1752.8 L201.8,1755.0 L202.6,1758.4 L203.4,1762.6 L204.1,1768.7 L204.9,1772.1 L205.7,1777.5 L206.5,1778.6 L207.2,1780.1 L208.0,1781.2 L208.8,1782.9 L209.6,1785.9 L210.3,1787.6 L211.1,1790.0 L211.9,1794.0 L212.6,1795.9 L213.4,1798.4 L214.2,1801.5 L215.0,1803.5 L215.7,1804.6 L216.5,1805.9 L217.3,1806.1 L218.0,1807.6 L218.8,1807.0 L219.6,1808.8 L220.4,1809.9 L221.1,1811.9 L221.9,1813.1 L222.7,1813.9 L223.4,1815.7 L224.2,1817.0 L225.0,1820.2 L225.8,1820.5 L226.5,1823.0 L227.3,1824.5 L228.1,1825.5 L228.8,1827.0 L229.6,1826.5 L230.4,1827.2 L231.2,1827.6 L231.9,1828.4 L232.7,1828.1 L233.5,1828.7 L234.3,1829.5 L235.0,1829.1 L235.8,1830.0 L236.6,1831.9 L237.3,1832.0 L238.1,1831.4 L238.9,1833.3 L239.7,1832.5 L240.4,1832.4 L241.2,1832.7 L241.2,1837.1 L240.4,1836.5 L239.7,1836.5 L238.9,1837.1 L238.1,1836.1 L237.3,1836.3 L236.6,1835.6 L235.8,1834.1 L235.0,1832.7 L234.3,1834.0 L233.5,1832.0 L232.7,1833.4 L231.9,1832.4 L231.2,1832.0 L230.4,1831.2 L229.6,1831.9 L228.8,1830.8 L228.1,1830.4 L227.3,1828.6 L226.5,1827.7 L225.8,1825.7 L225.0,1825.2 L224.2,1822.1 L223.4,1820.9 L222.7,1820.5 L221.9,1819.0 L221.1,1817.8 L220.4,1816.4 L219.6,1815.4 L218.8,1815.0 L218.0,1815.4 L217.3,1813.6 L216.5,1815.0 L215.7,1813.8 L215.0,1812.3 L214.2,1811.9 L213.4,1810.4 L212.6,1807.8 L211.9,1806.1 L211.1,1803.7 L210.3,1802.1 L209.6,1800.5 L208.8,1798.5 L208.0,1797.2 L207.2,1797.0 L206.5,1797.2 L205.7,1795.4 L204.9,1791.7 L204.1,1788.3 L203.4,1782.8 L202.6,1778.8 L201.8,1776.4 L201.1,1773.3 L200.3,1770.7 L199.5,1770.7 L198.7,1769.1 L198.0,1767.9 L197.2,1764.5 L196.4,1764.1 L195.7,1763.4 L194.9,1766.1 L194.1,1772.4 L193.3,1779.1 L192.6,1786.0 L191.8,1788.4 L191.0,1790.6 L190.3,1797.4 L189.5,1808.7 L188.7,1819.9 L187.9,1831.7 L187.2,1840.5 L186.4,1844.6 L185.6,1843.7 L184.9,1845.2 L184.1,1845.5 L183.3,1844.5 L182.5,1844.9 L181.8,1844.5 L181.0,1844.3 L180.2,1845.3 L179.4,1845.2 L178.7,1845.6 L177.9,1845.4 L177.1,1845.6 L176.4,1845.1 L175.6,1845.8 L174.8,1847.0 L174.0,1845.0 L173.3,1845.7 L172.5,1847.0Z" fill="#c875bd" fill-opacity="0.33" stroke="#c875bd" stroke-opacity="0.53" stroke-width="0.9"/>
<path d="M172.5,1844.7 L173.3,1843.4 L174.0,1843.2 L174.8,1844.6 L175.6,1843.2 L176.4,1843.0 L177.1,1843.7 L177.9,1843.1 L178.7,1843.8 L179.4,1842.6 L180.2,1843.6 L181.0,1842.4 L181.8,1842.7 L182.5,1843.0 L183.3,1842.5 L184.1,1842.8 L184.9,1842.4 L185.6,1841.3 L186.4,1842.5 L187.2,1837.8 L187.9,1828.5 L188.7,1816.9 L189.5,1805.8 L190.3,1794.5 L191.0,1787.4 L191.8,1784.4 L192.6,1782.0 L193.3,1775.3 L194.1,1768.3 L194.9,1761.8 L195.7,1757.8 L196.4,1759.0 L197.2,1759.2 L198.0,1761.6 L198.7,1763.4 L199.5,1764.0 L200.3,1763.6 L201.1,1766.2 L201.8,1768.7 L202.6,1771.7 L203.4,1775.6 L204.1,1780.5 L204.9,1783.4 L205.7,1787.8 L206.5,1788.8 L207.2,1789.1 L208.0,1789.6 L208.8,1791.1 L209.6,1793.1 L210.3,1794.0 L211.1,1796.2 L211.9,1798.7 L212.6,1800.5 L213.4,1803.2 L214.2,1805.0 L215.0,1806.5 L215.7,1808.2 L216.5,1808.8 L217.3,1808.3 L218.0,1810.0 L218.8,1809.6 L219.6,1810.6 L220.4,1811.7 L221.1,1813.9 L221.9,1815.5 L222.7,1816.5 L223.4,1818.0 L224.2,1819.3 L225.0,1822.3 L225.8,1822.9 L226.5,1825.1 L227.3,1826.2 L228.1,1827.4 L228.8,1828.5 L229.6,1829.0 L230.4,1829.2 L231.2,1830.1 L231.9,1830.6 L232.7,1830.6 L233.5,1830.3 L234.3,1831.6 L235.0,1831.0 L235.8,1832.2 L236.6,1833.4 L237.3,1834.1 L238.1,1833.9 L238.9,1834.9 L239.7,1834.7 L240.4,1835.0 L241.2,1835.1" stroke="#a83a98" stroke-width="2.5" fill="none" stroke-linejoin="round"/>
<text x="115.5" y="1897.0" font-size="24.8" text-anchor="end" transform="rotate(-45 115.5 1897.0)">oe<tspan font-size="15" dy="-9">−</tspan></text>
<text x="217.5" y="1896.0" font-size="24.8" text-anchor="end" transform="rotate(-45 217.5 1896.0)">oe<tspan font-size="15" dy="-9">−</tspan><tspan dy="9"> +7-T</tspan></text>
<text x="-13.5" y="6.3" font-size="58.6" font-weight="200" style="font-family:'DejaVu Sans',sans-serif" transform="translate(74.7 1939.1) rotate(-45)">♀</text>
<text x="-13.5" y="6.3" font-size="58.6" font-weight="200" style="font-family:'DejaVu Sans',sans-serif" transform="translate(134.3 1980.0) rotate(-45)">♀</text>
<path d="M363,1641.1 H372.2 V1901.2 H363" stroke="#000" stroke-width="2" fill="none"/>
<text x="358.0" y="1649.6" font-size="24.8" text-anchor="end">1</text>
<text x="358.0" y="1909.7" font-size="24.8" text-anchor="end">0</text>
<text x="360.6" y="1771.2" font-size="24.8" text-anchor="middle" transform="rotate(-90 360.6 1771.2)"><tspan font-style="italic">ΔF/F</tspan></text>
<text x="410.2" y="1641.5" font-size="24.8" text-anchor="middle">a</text>
<text x="477.7" y="1641.5" font-size="24.8" text-anchor="middle">a</text>
<text x="558.4" y="1641.5" font-size="24.8" text-anchor="middle">b</text>
<text x="628.2" y="1641.5" font-size="24.8" text-anchor="middle">a</text>
<circle cx="409.1" cy="1828.4" r="9.6" fill="#8fa8f5" fill-opacity="0.5"/>
<circle cx="399.4" cy="1873.0" r="9.6" fill="#8fa8f5" fill-opacity="0.5"/>
<circle cx="407.1" cy="1870.2" r="9.6" fill="#8fa8f5" fill-opacity="0.5"/>
<circle cx="418.8" cy="1871.8" r="9.6" fill="#8fa8f5" fill-opacity="0.5"/>
<circle cx="403.3" cy="1888.5" r="9.6" fill="#8fa8f5" fill-opacity="0.5"/>
<circle cx="413.0" cy="1884.6" r="9.6" fill="#8fa8f5" fill-opacity="0.5"/>
<circle cx="471.1" cy="1848.9" r="9.6" fill="#3f9160" fill-opacity="0.5"/>
<circle cx="482.7" cy="1851.6" r="9.6" fill="#3f9160" fill-opacity="0.5"/>
<circle cx="467.2" cy="1859.4" r="9.6" fill="#3f9160" fill-opacity="0.5"/>
<circle cx="484.7" cy="1859.4" r="9.6" fill="#3f9160" fill-opacity="0.5"/>
<circle cx="471.9" cy="1876.8" r="9.6" fill="#3f9160" fill-opacity="0.5"/>
<circle cx="480.8" cy="1886.5" r="9.6" fill="#3f9160" fill-opacity="0.5"/>
<circle cx="555.6" cy="1663.6" r="9.6" fill="#c571b8" fill-opacity="0.55"/>
<circle cx="559.5" cy="1702.3" r="9.6" fill="#c571b8" fill-opacity="0.55"/>
<circle cx="551.4" cy="1714.0" r="9.6" fill="#c571b8" fill-opacity="0.55"/>
<circle cx="555.3" cy="1731.4" r="9.6" fill="#c571b8" fill-opacity="0.55"/>
<circle cx="550.6" cy="1825.6" r="9.6" fill="#c571b8" fill-opacity="0.55"/>
<circle cx="560.3" cy="1832.2" r="9.6" fill="#c571b8" fill-opacity="0.55"/>
<circle cx="627.0" cy="1803.2" r="9.6" fill="#3c3c3c" fill-opacity="0.6"/>
<circle cx="627.0" cy="1808.2" r="9.6" fill="#3c3c3c" fill-opacity="0.6"/>
<circle cx="627.0" cy="1839.2" r="9.6" fill="#3c3c3c" fill-opacity="0.6"/>
<circle cx="627.0" cy="1867.1" r="9.6" fill="#3c3c3c" fill-opacity="0.6"/>
<circle cx="627.0" cy="1882.6" r="9.6" fill="#3c3c3c" fill-opacity="0.6"/>
<circle cx="627.0" cy="1886.5" r="9.6" fill="#3c3c3c" fill-opacity="0.6"/>
<line x1="396.3" y1="1869.1" x2="421.9" y2="1869.1" stroke="#000" stroke-width="2" stroke-linecap="butt"/>
<line x1="409.1" y1="1862.1" x2="409.1" y2="1876.8" stroke="#000" stroke-width="2" stroke-linecap="butt"/>
<line x1="464.1" y1="1864.4" x2="488.6" y2="1864.4" stroke="#000" stroke-width="2" stroke-linecap="butt"/>
<line x1="476.2" y1="1859.4" x2="476.2" y2="1869.8" stroke="#000" stroke-width="2" stroke-linecap="butt"/>
<line x1="543.6" y1="1745.0" x2="568.8" y2="1745.0" stroke="#000" stroke-width="2" stroke-linecap="butt"/>
<line x1="556.0" y1="1717.1" x2="556.0" y2="1772.5" stroke="#000" stroke-width="2" stroke-linecap="butt"/>
<line x1="614.6" y1="1847.0" x2="639.8" y2="1847.0" stroke="#000" stroke-width="2" stroke-linecap="butt"/>
<line x1="627.0" y1="1833.0" x2="627.0" y2="1861.3" stroke="#000" stroke-width="2" stroke-linecap="butt"/>
<text x="412.5" y="1934.0" font-size="24.8" text-anchor="end" transform="rotate(-45 412.5 1934.0)">oe<tspan font-size="15" dy="-9">−</tspan></text>
<text x="484.5" y="1924.0" font-size="24.8" text-anchor="end" transform="rotate(-45 484.5 1924.0)">oe<tspan font-size="15" dy="-9">−</tspan><tspan dy="9"> +7,11-HD</tspan></text>
<text x="560.5" y="1924.0" font-size="24.8" text-anchor="end" transform="rotate(-45 560.5 1924.0)">oe<tspan font-size="15" dy="-9">−</tspan><tspan dy="9"> +7-T</tspan></text>
<text x="636.0" y="1924.0" font-size="24.8" text-anchor="end" transform="rotate(-45 636.0 1924.0)">oe<tspan font-size="15" dy="-9">−</tspan><tspan dy="9"> +cVA</tspan></text>
<text x="-13.5" y="6.3" font-size="58.6" font-weight="200" style="font-family:'DejaVu Sans',sans-serif" transform="translate(356.3 1949.3)">♀</text>
<text x="780.8" y="1520.7" font-size="31.5" font-weight="bold" stroke="#000" stroke-width="1.6">g</text>
<text x="935.2" y="1496.4" font-size="24.8" text-anchor="middle">Courtship</text>
<text x="935.2" y="1523.5" font-size="24.8" text-anchor="middle">in the dark</text>
<circle cx="933.5" cy="1596.0" r="59" fill="#cccccc" stroke="#000" stroke-width="2.2"/>
<text x="941.1" y="1581.4" font-size="24.8" text-anchor="end">yak</text>
<text x="-12.6" y="5.9" font-size="54.5" font-weight="200" style="font-family:'DejaVu Sans',sans-serif" transform="translate(949.5 1591.2)">♀</text>
<text x="940.4" y="1629.0" font-size="24.8" text-anchor="end">&gt;Kir Control</text>
<text x="-9.2" y="7.4" font-size="57.5" font-weight="200" style="font-family:'DejaVu Sans',sans-serif" transform="translate(947.3 1630.8) translate(7.4 -7.4) rotate(-15) scale(0.95) translate(-7.4 7.4)">♂</text>
<circle cx="933.5" cy="1758.4" r="59" fill="#cccccc" stroke="#000" stroke-width="2.2"/>
<text x="941.1" y="1743.8" font-size="24.8" text-anchor="end">yak</text>
<text x="-12.6" y="5.9" font-size="54.5" font-weight="200" style="font-family:'DejaVu Sans',sans-serif" transform="translate(949.5 1753.6)">♀</text>
<text x="940.4" y="1791.4" font-size="24.8" text-anchor="end">Fru<tspan style="font-family:'Noto Sans CJK JP',sans-serif" font-size="0.9em" dx="-2.5" letter-spacing="-3.6">∩</tspan>P1&gt;Kir</text>
<text x="-9.2" y="7.4" font-size="57.5" font-weight="200" style="font-family:'DejaVu Sans',sans-serif" transform="translate(947.3 1793.2) translate(7.4 -7.4) rotate(-15) scale(0.95) translate(-7.4 7.4)">♂</text>
<circle cx="933.5" cy="1934.3" r="59" fill="#cccccc" stroke="#000" stroke-width="2.2"/>
<text x="941.1" y="1919.7" font-size="24.8" text-anchor="end">yak</text>
<text x="-12.6" y="5.9" font-size="54.5" font-weight="200" style="font-family:'DejaVu Sans',sans-serif" transform="translate(949.5 1929.5)">♀</text>
<text x="940.4" y="1967.3" font-size="24.8" text-anchor="end">Dsx<tspan style="font-family:'Noto Sans CJK JP',sans-serif" font-size="0.9em" dx="-2.5" letter-spacing="-3.6">∩</tspan>P1&gt;Kir</text>
<text x="-9.2" y="7.4" font-size="57.5" font-weight="200" style="font-family:'DejaVu Sans',sans-serif" transform="translate(947.3 1969.1) translate(7.4 -7.4) rotate(-15) scale(0.95) translate(-7.4 7.4)">♂</text>
<text x="1312.4" y="1520.7" font-size="24.8">IFD (mm)</text>
<path d="M1118.6,1531.9h2.9v17.6h-2.9zM1175.5,1549.4h4.7v17.6h-4.7zM1195.4,1549.4h1.6v17.6h-1.6zM1207.1,1549.4h1.6v17.6h-1.6zM1309.6,1566.8h4.2v17.6h-4.2zM1096.5,1584.2h3.4v17.6h-3.4zM1099.7,1584.2h3.4v17.6h-3.4zM1103.0,1584.2h3.4v17.6h-3.4zM1106.2,1584.2h3.4v17.6h-3.4zM1109.4,1584.2h3.4v17.6h-3.4zM1112.6,1584.2h3.4v17.6h-3.4zM1115.8,1584.2h3.4v17.6h-3.4zM1119.0,1584.2h3.4v17.6h-3.4zM1122.2,1584.2h3.4v17.6h-3.4zM1125.5,1584.2h3.4v17.6h-3.4zM1128.7,1584.2h3.4v17.6h-3.4zM1131.9,1584.2h3.4v17.6h-3.4zM1295.8,1584.2h2.9v17.6h-2.9zM1298.6,1584.2h2.9v17.6h-2.9zM1122.2,1619.2h2.9v17.6h-2.9zM1125.0,1619.2h2.9v17.6h-2.9zM1148.0,1619.2h4.7v17.6h-4.7zM1176.4,1619.2h3.1v17.6h-3.1zM1179.4,1619.2h3.1v17.6h-3.1zM1182.4,1619.2h3.1v17.6h-3.1zM1185.4,1619.2h3.1v17.6h-3.1zM1267.4,1619.2h2.0v17.6h-2.0z" fill="#f6ebf5" shape-rendering="crispEdges"/>
<path d="M1121.3,1531.9h2.9v17.6h-2.9zM1145.7,1531.9h3.4v17.6h-3.4zM1123.7,1549.4h3.6v17.6h-3.6zM1127.1,1549.4h3.6v17.6h-3.6zM1276.9,1549.4h1.6v17.6h-1.6zM1314.2,1584.2h2.9v17.6h-2.9zM1324.3,1601.7h3.8v17.6h-3.8zM1300.4,1619.2h2.9v17.6h-2.9zM1303.2,1619.2h2.9v17.6h-2.9z" fill="#eed8ea" shape-rendering="crispEdges"/>
<path d="M1142.5,1531.9h3.4v17.6h-3.4zM1106.6,1549.4h3.6v17.6h-3.6zM1110.0,1549.4h3.6v17.6h-3.6zM1113.5,1549.4h3.6v17.6h-3.6zM1116.9,1549.4h3.6v17.6h-3.6zM1120.3,1549.4h3.6v17.6h-3.6zM1219.1,1566.8h1.6v17.6h-1.6zM1138.8,1584.2h3.8v17.6h-3.8zM1142.5,1584.2h3.8v17.6h-3.8zM1151.6,1601.7h1.1v17.6h-1.1zM1215.9,1619.2h3.8v17.6h-3.8zM1219.6,1619.2h3.8v17.6h-3.8z" fill="#e5c4e0" shape-rendering="crispEdges"/>
<path d="M1112.1,1531.9h3.4v17.6h-3.4zM1115.4,1531.9h3.4v17.6h-3.4zM1147.0,1549.4h2.9v17.6h-2.9zM1135.1,1584.2h3.8v17.6h-3.8zM1103.9,1601.7h3.2v17.6h-3.2zM1106.9,1601.7h3.2v17.6h-3.2zM1110.0,1601.7h3.2v17.6h-3.2zM1116.1,1601.7h3.2v17.6h-3.2zM1119.2,1601.7h3.2v17.6h-3.2zM1228.8,1601.7h3.8v17.6h-3.8zM1238.0,1601.7h2.9v17.6h-2.9zM1240.7,1601.7h2.9v17.6h-2.9zM1140.6,1619.2h3.8v17.6h-3.8zM1144.3,1619.2h3.8v17.6h-3.8zM1188.4,1619.2h3.4v17.6h-3.4zM1191.6,1619.2h3.4v17.6h-3.4zM1198.0,1619.2h3.4v17.6h-3.4z" fill="#dcb0d6" shape-rendering="crispEdges"/>
<path d="M1124.1,1531.9h3.2v17.6h-3.2zM1127.1,1531.9h3.2v17.6h-3.2zM1144.3,1549.4h2.9v17.6h-2.9zM1113.1,1601.7h3.2v17.6h-3.2zM1194.8,1619.2h3.4v17.6h-3.4z" fill="#d49ccc" shape-rendering="crispEdges"/>
<path d="M1130.2,1531.9h3.2v17.6h-3.2zM1152.6,1566.8h3.3v17.6h-3.3zM1155.7,1566.8h3.3v17.6h-3.3zM1158.8,1566.8h3.3v17.6h-3.3zM1161.9,1566.8h3.3v17.6h-3.3zM1165.0,1566.8h3.3v17.6h-3.3zM1170.9,1566.8h2.0v17.6h-2.0zM1183.3,1566.8h3.3v17.6h-3.3zM1100.2,1601.7h3.8v17.6h-3.8zM1140.6,1601.7h3.8v17.6h-3.8zM1144.3,1601.7h3.8v17.6h-3.8zM1263.7,1619.2h3.8v17.6h-3.8zM1269.2,1619.2h3.2v17.6h-3.2z" fill="#cb89c1" shape-rendering="crispEdges"/>
<path d="M1136.3,1531.9h3.2v17.6h-3.2zM1164.5,1531.9h3.4v17.6h-3.4zM1167.7,1531.9h3.4v17.6h-3.4zM1177.4,1531.9h3.4v17.6h-3.4zM1190.3,1531.9h3.4v17.6h-3.4zM1193.5,1531.9h3.4v17.6h-3.4zM1212.8,1531.9h3.4v17.6h-3.4zM1222.5,1531.9h3.4v17.6h-3.4zM1235.4,1531.9h3.4v17.6h-3.4zM1245.1,1531.9h3.4v17.6h-3.4zM1251.5,1531.9h3.4v17.6h-3.4zM1254.7,1531.9h3.4v17.6h-3.4zM1290.2,1531.9h3.4v17.6h-3.4zM1303.1,1531.9h3.4v17.6h-3.4zM1306.3,1531.9h3.4v17.6h-3.4zM1319.2,1531.9h3.4v17.6h-3.4zM1152.6,1549.4h3.4v17.6h-3.4zM1155.8,1549.4h3.4v17.6h-3.4zM1165.7,1549.4h3.4v17.6h-3.4zM1169.0,1549.4h3.4v17.6h-3.4zM1189.3,1549.4h3.2v17.6h-3.2zM1192.3,1549.4h3.2v17.6h-3.2zM1208.6,1549.4h3.4v17.6h-3.4zM1218.3,1549.4h3.4v17.6h-3.4zM1221.6,1549.4h3.4v17.6h-3.4zM1224.9,1549.4h3.4v17.6h-3.4zM1228.1,1549.4h3.4v17.6h-3.4zM1231.4,1549.4h3.4v17.6h-3.4zM1234.6,1549.4h3.4v17.6h-3.4zM1237.9,1549.4h3.4v17.6h-3.4zM1244.4,1549.4h3.4v17.6h-3.4zM1250.9,1549.4h3.4v17.6h-3.4zM1254.1,1549.4h3.4v17.6h-3.4zM1260.6,1549.4h3.4v17.6h-3.4zM1263.9,1549.4h3.4v17.6h-3.4zM1267.2,1549.4h3.4v17.6h-3.4zM1297.8,1549.4h3.4v17.6h-3.4zM1301.1,1549.4h3.4v17.6h-3.4zM1320.5,1549.4h3.4v17.6h-3.4zM1327.0,1549.4h3.4v17.6h-3.4zM1333.4,1549.4h3.4v17.6h-3.4zM1177.0,1566.8h3.3v17.6h-3.3zM1180.2,1566.8h3.3v17.6h-3.3zM1186.5,1566.8h3.3v17.6h-3.3zM1192.9,1566.8h3.3v17.6h-3.3zM1196.0,1566.8h3.3v17.6h-3.3zM1199.2,1566.8h3.3v17.6h-3.3zM1202.4,1566.8h3.3v17.6h-3.3zM1205.5,1566.8h3.3v17.6h-3.3zM1208.7,1566.8h3.3v17.6h-3.3zM1215.0,1566.8h4.2v17.6h-4.2zM1220.5,1566.8h3.3v17.6h-3.3zM1226.9,1566.8h3.3v17.6h-3.3zM1233.2,1566.8h3.3v17.6h-3.3zM1236.4,1566.8h3.3v17.6h-3.3zM1242.8,1566.8h3.3v17.6h-3.3zM1246.0,1566.8h3.3v17.6h-3.3zM1252.3,1566.8h3.3v17.6h-3.3zM1255.5,1566.8h3.3v17.6h-3.3zM1258.7,1566.8h3.3v17.6h-3.3zM1261.9,1566.8h3.3v17.6h-3.3zM1265.1,1566.8h3.3v17.6h-3.3zM1268.2,1566.8h3.3v17.6h-3.3zM1271.4,1566.8h3.3v17.6h-3.3zM1274.6,1566.8h3.3v17.6h-3.3zM1277.8,1566.8h3.3v17.6h-3.3zM1284.2,1566.8h3.3v17.6h-3.3zM1293.7,1566.8h3.3v17.6h-3.3zM1300.1,1566.8h3.3v17.6h-3.3zM1316.9,1566.8h3.4v17.6h-3.4zM1323.5,1566.8h3.4v17.6h-3.4zM1158.9,1584.2h3.3v17.6h-3.3zM1171.6,1584.2h3.3v17.6h-3.3zM1174.7,1584.2h3.3v17.6h-3.3zM1181.1,1584.2h3.3v17.6h-3.3zM1193.7,1584.2h3.3v17.6h-3.3zM1196.9,1584.2h3.3v17.6h-3.3zM1231.7,1584.2h3.3v17.6h-3.3zM1238.1,1584.2h3.3v17.6h-3.3zM1322.9,1584.2h3.1v17.6h-3.1zM1148.0,1601.7h3.8v17.6h-3.8zM1232.5,1601.7h2.9v17.6h-2.9zM1332.6,1601.7h3.8v17.6h-3.8zM1336.2,1601.7h3.8v17.6h-3.8zM1152.6,1619.2h3.6v17.6h-3.6zM1204.9,1619.2h3.8v17.6h-3.8zM1212.3,1619.2h3.8v17.6h-3.8zM1256.3,1619.2h3.8v17.6h-3.8zM1260.0,1619.2h3.8v17.6h-3.8zM1272.3,1619.2h3.2v17.6h-3.2zM1275.3,1619.2h3.2v17.6h-3.2zM1284.8,1619.2h3.3v17.6h-3.3zM1287.9,1619.2h3.3v17.6h-3.3zM1297.3,1619.2h3.3v17.6h-3.3zM1319.7,1619.2h3.5v17.6h-3.5zM1323.1,1619.2h3.5v17.6h-3.5zM1326.4,1619.2h3.5v17.6h-3.5zM1336.6,1619.2h3.5v17.6h-3.5z" fill="#c275b7" shape-rendering="crispEdges"/>
<path d="M1133.3,1531.9h3.2v17.6h-3.2zM1139.4,1531.9h3.2v17.6h-3.2zM1170.9,1531.9h3.4v17.6h-3.4zM1174.2,1531.9h3.4v17.6h-3.4zM1180.6,1531.9h3.4v17.6h-3.4zM1183.8,1531.9h3.4v17.6h-3.4zM1187.1,1531.9h3.4v17.6h-3.4zM1196.7,1531.9h3.4v17.6h-3.4zM1200.0,1531.9h3.4v17.6h-3.4zM1203.2,1531.9h3.4v17.6h-3.4zM1206.4,1531.9h3.4v17.6h-3.4zM1209.6,1531.9h3.4v17.6h-3.4zM1216.1,1531.9h3.4v17.6h-3.4zM1219.3,1531.9h3.4v17.6h-3.4zM1225.7,1531.9h3.4v17.6h-3.4zM1229.0,1531.9h3.4v17.6h-3.4zM1232.2,1531.9h3.4v17.6h-3.4zM1238.6,1531.9h3.4v17.6h-3.4zM1241.9,1531.9h3.4v17.6h-3.4zM1248.3,1531.9h3.4v17.6h-3.4zM1258.0,1531.9h3.4v17.6h-3.4zM1261.2,1531.9h3.4v17.6h-3.4zM1264.4,1531.9h3.4v17.6h-3.4zM1267.6,1531.9h3.4v17.6h-3.4zM1270.9,1531.9h3.4v17.6h-3.4zM1274.1,1531.9h3.4v17.6h-3.4zM1277.3,1531.9h3.4v17.6h-3.4zM1280.5,1531.9h3.4v17.6h-3.4zM1283.8,1531.9h3.4v17.6h-3.4zM1287.0,1531.9h3.4v17.6h-3.4zM1293.4,1531.9h3.4v17.6h-3.4zM1296.6,1531.9h3.4v17.6h-3.4zM1299.9,1531.9h3.4v17.6h-3.4zM1309.5,1531.9h3.4v17.6h-3.4zM1312.8,1531.9h3.4v17.6h-3.4zM1316.0,1531.9h3.4v17.6h-3.4zM1322.4,1531.9h3.4v17.6h-3.4zM1325.7,1531.9h3.4v17.6h-3.4zM1328.9,1531.9h3.4v17.6h-3.4zM1332.1,1531.9h3.4v17.6h-3.4zM1159.1,1549.4h3.4v17.6h-3.4zM1162.4,1549.4h3.4v17.6h-3.4zM1172.2,1549.4h3.4v17.6h-3.4zM1180.1,1549.4h3.2v17.6h-3.2zM1183.2,1549.4h3.2v17.6h-3.2zM1186.2,1549.4h3.2v17.6h-3.2zM1196.8,1549.4h3.6v17.6h-3.6zM1200.3,1549.4h3.6v17.6h-3.6zM1203.7,1549.4h3.6v17.6h-3.6zM1211.8,1549.4h3.4v17.6h-3.4zM1215.1,1549.4h3.4v17.6h-3.4zM1241.1,1549.4h3.4v17.6h-3.4zM1247.6,1549.4h3.4v17.6h-3.4zM1257.4,1549.4h3.4v17.6h-3.4zM1270.4,1549.4h3.4v17.6h-3.4zM1273.7,1549.4h3.4v17.6h-3.4zM1278.4,1549.4h3.4v17.6h-3.4zM1281.6,1549.4h3.4v17.6h-3.4zM1284.9,1549.4h3.4v17.6h-3.4zM1288.1,1549.4h3.4v17.6h-3.4zM1291.3,1549.4h3.4v17.6h-3.4zM1294.6,1549.4h3.4v17.6h-3.4zM1304.3,1549.4h3.4v17.6h-3.4zM1307.5,1549.4h3.4v17.6h-3.4zM1310.8,1549.4h3.4v17.6h-3.4zM1314.0,1549.4h3.4v17.6h-3.4zM1317.2,1549.4h3.4v17.6h-3.4zM1323.7,1549.4h3.4v17.6h-3.4zM1330.2,1549.4h3.4v17.6h-3.4zM1336.7,1549.4h3.4v17.6h-3.4zM1189.7,1566.8h3.3v17.6h-3.3zM1223.7,1566.8h3.3v17.6h-3.3zM1230.1,1566.8h3.3v17.6h-3.3zM1239.6,1566.8h3.3v17.6h-3.3zM1249.2,1566.8h3.3v17.6h-3.3zM1281.0,1566.8h3.3v17.6h-3.3zM1287.3,1566.8h3.3v17.6h-3.3zM1290.5,1566.8h3.3v17.6h-3.3zM1296.9,1566.8h3.3v17.6h-3.3zM1303.2,1566.8h3.3v17.6h-3.3zM1306.4,1566.8h3.3v17.6h-3.3zM1313.7,1566.8h3.4v17.6h-3.4zM1320.2,1566.8h3.4v17.6h-3.4zM1326.8,1566.8h3.4v17.6h-3.4zM1330.1,1566.8h3.4v17.6h-3.4zM1333.4,1566.8h3.4v17.6h-3.4zM1336.6,1566.8h3.4v17.6h-3.4zM1155.7,1584.2h3.3v17.6h-3.3zM1162.1,1584.2h3.3v17.6h-3.3zM1165.2,1584.2h3.3v17.6h-3.3zM1177.9,1584.2h3.3v17.6h-3.3zM1184.2,1584.2h3.3v17.6h-3.3zM1187.4,1584.2h3.3v17.6h-3.3zM1190.6,1584.2h3.3v17.6h-3.3zM1200.1,1584.2h3.3v17.6h-3.3zM1203.2,1584.2h3.3v17.6h-3.3zM1206.4,1584.2h3.3v17.6h-3.3zM1209.6,1584.2h3.3v17.6h-3.3zM1212.7,1584.2h3.3v17.6h-3.3zM1219.1,1584.2h3.3v17.6h-3.3zM1222.2,1584.2h3.3v17.6h-3.3zM1225.4,1584.2h3.3v17.6h-3.3zM1228.6,1584.2h3.3v17.6h-3.3zM1241.2,1584.2h3.3v17.6h-3.3zM1250.8,1584.2h2.9v17.6h-2.9zM1253.6,1584.2h2.9v17.6h-2.9zM1267.4,1584.2h2.9v17.6h-2.9zM1276.9,1584.2h3.3v17.6h-3.3zM1283.2,1584.2h3.3v17.6h-3.3zM1289.5,1584.2h3.3v17.6h-3.3zM1292.7,1584.2h3.3v17.6h-3.3zM1304.6,1584.2h3.4v17.6h-3.4zM1311.0,1584.2h3.4v17.6h-3.4zM1317.0,1584.2h3.1v17.6h-3.1zM1319.9,1584.2h3.1v17.6h-3.1zM1325.9,1584.2h3.1v17.6h-3.1zM1337.2,1584.2h2.9v17.6h-2.9zM1096.5,1601.7h3.8v17.6h-3.8zM1152.6,1601.7h3.4v17.6h-3.4zM1155.8,1601.7h3.4v17.6h-3.4zM1159.0,1601.7h3.4v17.6h-3.4zM1165.5,1601.7h3.4v17.6h-3.4zM1172.0,1601.7h3.4v17.6h-3.4zM1178.5,1601.7h3.4v17.6h-3.4zM1184.9,1601.7h3.4v17.6h-3.4zM1188.2,1601.7h3.4v17.6h-3.4zM1191.4,1601.7h3.4v17.6h-3.4zM1201.1,1601.7h3.4v17.6h-3.4zM1204.4,1601.7h3.4v17.6h-3.4zM1210.9,1601.7h3.4v17.6h-3.4zM1223.3,1601.7h2.9v17.6h-2.9zM1226.0,1601.7h2.9v17.6h-2.9zM1235.2,1601.7h2.9v17.6h-2.9zM1246.7,1601.7h3.4v17.6h-3.4zM1249.9,1601.7h3.4v17.6h-3.4zM1253.1,1601.7h3.4v17.6h-3.4zM1156.0,1619.2h3.6v17.6h-3.6zM1159.4,1619.2h3.6v17.6h-3.6zM1166.2,1619.2h3.6v17.6h-3.6zM1169.6,1619.2h3.6v17.6h-3.6zM1173.0,1619.2h3.6v17.6h-3.6zM1208.6,1619.2h3.8v17.6h-3.8zM1291.1,1619.2h3.3v17.6h-3.3zM1294.2,1619.2h3.3v17.6h-3.3zM1329.8,1619.2h3.5v17.6h-3.5zM1333.2,1619.2h3.5v17.6h-3.5z" fill="#b961ad" shape-rendering="crispEdges"/>
<path d="M1155.5,1531.9h3.1v17.6h-3.1zM1158.5,1531.9h3.1v17.6h-3.1zM1335.3,1531.9h4.7v17.6h-4.7zM1152.6,1584.2h3.3v17.6h-3.3zM1168.4,1584.2h3.3v17.6h-3.3zM1215.9,1584.2h3.3v17.6h-3.3zM1234.9,1584.2h3.3v17.6h-3.3zM1248.1,1584.2h2.9v17.6h-2.9zM1270.1,1584.2h2.9v17.6h-2.9zM1280.1,1584.2h3.3v17.6h-3.3zM1286.4,1584.2h3.3v17.6h-3.3zM1301.3,1584.2h3.4v17.6h-3.4zM1307.8,1584.2h3.4v17.6h-3.4zM1162.3,1601.7h3.4v17.6h-3.4zM1168.8,1601.7h3.4v17.6h-3.4zM1175.2,1601.7h3.4v17.6h-3.4zM1181.7,1601.7h3.4v17.6h-3.4zM1194.7,1601.7h3.4v17.6h-3.4zM1197.9,1601.7h3.4v17.6h-3.4zM1207.6,1601.7h3.4v17.6h-3.4zM1243.5,1601.7h3.4v17.6h-3.4zM1162.8,1619.2h3.6v17.6h-3.6z" fill="#b14ea2" shape-rendering="crispEdges"/>
<path d="M1152.6,1531.9h3.1v17.6h-3.1zM1161.5,1531.9h3.1v17.6h-3.1z" fill="#a83a98" shape-rendering="crispEdges"/>
<line x1="1152.6" y1="1531.9" x2="1152.6" y2="1636.6" stroke="#f01010" stroke-width="2" stroke-linecap="butt" stroke-dasharray="4.5 2.2"/>
<text x="1020.9" y="1548.5" font-size="24.8">Pair</text>
<text x="1085.5" y="1548.5" font-size="24.8" text-anchor="end">1</text>
<circle cx="1081.6" cy="1557.8" r="4.3" fill="#000"/>
<circle cx="1081.6" cy="1573.8" r="4.3" fill="#000"/>
<circle cx="1081.6" cy="1591.9" r="4.3" fill="#000"/>
<circle cx="1081.6" cy="1609.2" r="4.3" fill="#000"/>
<text x="1086.5" y="1633.5" font-size="24.8" text-anchor="end">6</text>
<rect x="1355" y="1572.8" width="14" height="42.8" fill="url(#cbar)"/>
<line x1="1370.3" y1="1579.2" x2="1376.5" y2="1579.2" stroke="#000" stroke-width="2.5" stroke-linecap="butt"/>
<line x1="1370.3" y1="1600.6" x2="1376.5" y2="1600.6" stroke="#000" stroke-width="2.5" stroke-linecap="butt"/>
<text x="1380.8" y="1587.3" font-size="24.8">&gt;10</text>
<text x="1381.3" y="1606.7" font-size="24.8">5</text>
<path d="M1110.3,1705.7h3.3v17.6h-3.3zM1113.5,1705.7h3.3v17.6h-3.3zM1116.7,1705.7h3.3v17.6h-3.3zM1119.8,1705.7h3.3v17.6h-3.3zM1123.0,1705.7h3.3v17.6h-3.3zM1126.2,1705.7h3.3v17.6h-3.3zM1129.4,1705.7h3.3v17.6h-3.3zM1132.6,1705.7h3.3v17.6h-3.3zM1135.7,1705.7h3.3v17.6h-3.3zM1138.9,1705.7h3.3v17.6h-3.3zM1142.1,1705.7h3.3v17.6h-3.3zM1145.3,1705.7h3.3v17.6h-3.3zM1148.5,1705.7h3.3v17.6h-3.3zM1264.6,1705.7h2.9v17.6h-2.9zM1107.6,1758.0h3.6v17.6h-3.6zM1114.4,1758.0h3.6v17.6h-3.6zM1279.5,1775.5h3.1v17.6h-3.1zM1282.4,1775.5h3.1v17.6h-3.1zM1285.4,1775.5h3.1v17.6h-3.1zM1288.3,1775.5h3.1v17.6h-3.1z" fill="#f6ebf5" shape-rendering="crispEdges"/>
<path d="M1267.4,1705.7h2.9v17.6h-2.9zM1096.5,1723.2h3.5v17.6h-3.5zM1099.9,1723.2h3.5v17.6h-3.5zM1103.2,1723.2h3.5v17.6h-3.5zM1106.6,1723.2h3.5v17.6h-3.5zM1109.9,1723.2h3.5v17.6h-3.5zM1113.2,1723.2h3.5v17.6h-3.5zM1116.6,1723.2h3.5v17.6h-3.5zM1119.9,1723.2h3.5v17.6h-3.5zM1123.3,1723.2h3.5v17.6h-3.5zM1126.6,1723.2h3.5v17.6h-3.5zM1129.9,1723.2h3.5v17.6h-3.5zM1252.4,1723.2h3.6v17.6h-3.6zM1255.9,1723.2h3.6v17.6h-3.6zM1259.3,1723.2h3.6v17.6h-3.6zM1328.0,1740.6h2.9v17.6h-2.9zM1111.0,1758.0h3.6v17.6h-3.6zM1117.9,1758.0h3.6v17.6h-3.6zM1208.6,1758.0h2.9v17.6h-2.9zM1211.3,1758.0h2.9v17.6h-2.9zM1140.6,1775.5h3.8v17.6h-3.8zM1144.3,1775.5h3.8v17.6h-3.8zM1148.0,1775.5h3.8v17.6h-3.8zM1276.5,1775.5h3.1v17.6h-3.1zM1316.0,1775.5h2.9v17.6h-2.9zM1318.8,1775.5h2.9v17.6h-2.9zM1321.6,1775.5h2.9v17.6h-2.9z" fill="#eed8ea" shape-rendering="crispEdges"/>
<path d="M1249.0,1723.2h3.6v17.6h-3.6zM1119.5,1740.6h2.0v17.6h-2.0zM1151.6,1740.6h1.1v17.6h-1.1zM1180.1,1758.0h3.5v17.6h-3.5zM1183.5,1758.0h3.5v17.6h-3.5zM1186.8,1758.0h3.5v17.6h-3.5zM1288.5,1758.0h3.8v17.6h-3.8zM1215.9,1793.0h2.0v17.6h-2.0z" fill="#e5c4e0" shape-rendering="crispEdges"/>
<path d="M1204.9,1705.7h3.2v17.6h-3.2zM1281.1,1740.6h3.4v17.6h-3.4zM1335.3,1740.6h4.7v17.6h-4.7zM1128.2,1758.0h3.6v17.6h-3.6zM1165.4,1758.0h2.9v17.6h-2.9zM1292.2,1758.0h3.8v17.6h-3.8zM1151.6,1775.5h1.1v17.6h-1.1zM1255.4,1775.5h3.6v17.6h-3.6zM1258.9,1775.5h3.6v17.6h-3.6zM1262.4,1775.5h3.6v17.6h-3.6zM1265.9,1775.5h3.6v17.6h-3.6zM1269.4,1775.5h3.6v17.6h-3.6zM1328.9,1793.0h2.0v17.6h-2.0z" fill="#dcb0d6" shape-rendering="crispEdges"/>
<path d="M1208.0,1705.7h3.2v17.6h-3.2zM1211.0,1705.7h3.2v17.6h-3.2zM1133.3,1723.2h3.4v17.6h-3.4zM1136.5,1723.2h3.4v17.6h-3.4zM1125.0,1740.6h2.9v17.6h-2.9zM1284.4,1740.6h3.4v17.6h-3.4zM1121.3,1758.0h3.6v17.6h-3.6zM1124.8,1758.0h3.6v17.6h-3.6zM1162.7,1758.0h2.9v17.6h-2.9zM1251.7,1758.0h3.5v17.6h-3.5zM1258.5,1758.0h3.5v17.6h-3.5zM1327.4,1775.5h3.3v17.6h-3.3zM1179.2,1793.0h2.0v17.6h-2.0zM1309.6,1793.0h2.4v17.6h-2.4z" fill="#d49ccc" shape-rendering="crispEdges"/>
<path d="M1239.8,1705.7h3.8v17.6h-3.8zM1330.6,1705.7h3.3v17.6h-3.3zM1333.7,1705.7h3.3v17.6h-3.3zM1336.8,1705.7h3.3v17.6h-3.3zM1142.9,1723.2h3.4v17.6h-3.4zM1149.3,1723.2h3.4v17.6h-3.4zM1299.0,1740.6h3.4v17.6h-3.4zM1096.5,1758.0h3.8v17.6h-3.8zM1100.2,1758.0h3.8v17.6h-3.8zM1103.9,1758.0h3.8v17.6h-3.8zM1131.7,1758.0h3.6v17.6h-3.6zM1255.1,1758.0h3.5v17.6h-3.5zM1324.3,1775.5h3.3v17.6h-3.3zM1330.6,1775.5h3.3v17.6h-3.3zM1333.7,1775.5h3.3v17.6h-3.3zM1336.8,1775.5h3.3v17.6h-3.3z" fill="#cb89c1" shape-rendering="crispEdges"/>
<path d="M1324.3,1705.7h3.3v17.6h-3.3zM1327.4,1705.7h3.3v17.6h-3.3zM1139.7,1723.2h3.4v17.6h-3.4zM1146.1,1723.2h3.4v17.6h-3.4zM1295.8,1740.6h3.4v17.6h-3.4zM1302.3,1740.6h3.4v17.6h-3.4zM1305.5,1740.6h3.4v17.6h-3.4zM1174.1,1758.0h3.1v17.6h-3.1zM1148.0,1793.0h4.7v17.6h-4.7zM1152.6,1793.0h3.6v17.6h-3.6zM1163.0,1793.0h3.6v17.6h-3.6zM1194.8,1793.0h3.1v17.6h-3.1zM1253.8,1793.0h3.6v17.6h-3.6z" fill="#c275b7" shape-rendering="crispEdges"/>
<path d="M1152.6,1705.7h3.4v17.6h-3.4zM1159.1,1705.7h3.4v17.6h-3.4zM1162.4,1705.7h3.4v17.6h-3.4zM1178.7,1705.7h3.4v17.6h-3.4zM1182.0,1705.7h3.4v17.6h-3.4zM1185.3,1705.7h3.4v17.6h-3.4zM1191.8,1705.7h3.4v17.6h-3.4zM1195.1,1705.7h3.4v17.6h-3.4zM1198.4,1705.7h3.4v17.6h-3.4zM1201.6,1705.7h3.4v17.6h-3.4zM1220.5,1705.7h3.4v17.6h-3.4zM1261.6,1705.7h3.2v17.6h-3.2zM1283.9,1705.7h3.3v17.6h-3.3zM1287.0,1705.7h3.3v17.6h-3.3zM1293.2,1705.7h3.3v17.6h-3.3zM1305.7,1705.7h3.3v17.6h-3.3zM1308.8,1705.7h3.3v17.6h-3.3zM1315.1,1723.2h3.2v17.6h-3.2zM1318.2,1723.2h3.2v17.6h-3.2zM1327.5,1723.2h3.2v17.6h-3.2zM1330.6,1723.2h3.2v17.6h-3.2zM1336.8,1723.2h3.2v17.6h-3.2zM1148.0,1740.6h3.8v17.6h-3.8zM1176.4,1740.6h2.9v17.6h-2.9zM1205.5,1740.6h3.3v17.6h-3.3zM1218.1,1740.6h3.3v17.6h-3.3zM1255.8,1740.6h3.3v17.6h-3.3zM1171.2,1758.0h3.1v17.6h-3.1zM1177.1,1758.0h3.1v17.6h-3.1zM1314.4,1758.0h3.2v17.6h-3.2zM1328.9,1758.0h3.8v17.6h-3.8zM1332.6,1758.0h3.8v17.6h-3.8zM1336.2,1758.0h3.8v17.6h-3.8zM1156.0,1793.0h3.6v17.6h-3.6zM1159.5,1793.0h3.6v17.6h-3.6zM1166.5,1793.0h3.6v17.6h-3.6zM1197.8,1793.0h3.1v17.6h-3.1zM1203.8,1793.0h3.1v17.6h-3.1zM1226.0,1793.0h3.1v17.6h-3.1zM1237.8,1793.0h3.1v17.6h-3.1zM1246.9,1793.0h3.6v17.6h-3.6zM1250.4,1793.0h3.6v17.6h-3.6zM1260.9,1793.0h3.4v17.6h-3.4zM1264.1,1793.0h3.4v17.6h-3.4zM1283.9,1793.0h3.2v17.6h-3.2zM1286.9,1793.0h3.2v17.6h-3.2zM1289.9,1793.0h3.2v17.6h-3.2zM1292.9,1793.0h3.2v17.6h-3.2zM1296.0,1793.0h3.2v17.6h-3.2zM1302.0,1793.0h3.2v17.6h-3.2zM1315.1,1793.0h2.9v17.6h-2.9zM1320.6,1793.0h2.9v17.6h-2.9z" fill="#b961ad" shape-rendering="crispEdges"/>
<path d="M1155.8,1705.7h3.4v17.6h-3.4zM1165.6,1705.7h3.4v17.6h-3.4zM1168.9,1705.7h3.4v17.6h-3.4zM1172.2,1705.7h3.4v17.6h-3.4zM1175.5,1705.7h3.4v17.6h-3.4zM1188.5,1705.7h3.4v17.6h-3.4zM1214.1,1705.7h3.4v17.6h-3.4zM1217.3,1705.7h3.4v17.6h-3.4zM1223.7,1705.7h3.4v17.6h-3.4zM1227.0,1705.7h3.4v17.6h-3.4zM1230.2,1705.7h3.4v17.6h-3.4zM1233.4,1705.7h3.4v17.6h-3.4zM1236.6,1705.7h3.4v17.6h-3.4zM1243.5,1705.7h3.2v17.6h-3.2zM1246.5,1705.7h3.2v17.6h-3.2zM1249.5,1705.7h3.2v17.6h-3.2zM1252.5,1705.7h3.2v17.6h-3.2zM1258.6,1705.7h3.2v17.6h-3.2zM1270.1,1705.7h3.4v17.6h-3.4zM1273.3,1705.7h3.4v17.6h-3.4zM1290.1,1705.7h3.3v17.6h-3.3zM1296.3,1705.7h3.3v17.6h-3.3zM1299.4,1705.7h3.3v17.6h-3.3zM1302.5,1705.7h3.3v17.6h-3.3zM1315.0,1705.7h3.3v17.6h-3.3zM1321.2,1705.7h3.3v17.6h-3.3zM1152.6,1723.2h3.4v17.6h-3.4zM1162.2,1723.2h3.4v17.6h-3.4zM1165.4,1723.2h3.4v17.6h-3.4zM1168.6,1723.2h3.4v17.6h-3.4zM1171.8,1723.2h3.4v17.6h-3.4zM1175.1,1723.2h3.4v17.6h-3.4zM1178.3,1723.2h3.4v17.6h-3.4zM1181.5,1723.2h3.4v17.6h-3.4zM1187.9,1723.2h3.4v17.6h-3.4zM1194.3,1723.2h3.4v17.6h-3.4zM1197.6,1723.2h3.4v17.6h-3.4zM1204.0,1723.2h3.4v17.6h-3.4zM1210.4,1723.2h3.4v17.6h-3.4zM1216.8,1723.2h3.4v17.6h-3.4zM1220.1,1723.2h3.4v17.6h-3.4zM1229.7,1723.2h3.4v17.6h-3.4zM1236.1,1723.2h3.4v17.6h-3.4zM1239.3,1723.2h3.4v17.6h-3.4zM1242.6,1723.2h3.4v17.6h-3.4zM1266.0,1723.2h3.4v17.6h-3.4zM1272.4,1723.2h3.4v17.6h-3.4zM1275.6,1723.2h3.4v17.6h-3.4zM1278.8,1723.2h3.4v17.6h-3.4zM1282.1,1723.2h3.4v17.6h-3.4zM1288.5,1723.2h3.4v17.6h-3.4zM1321.3,1723.2h3.2v17.6h-3.2zM1324.4,1723.2h3.2v17.6h-3.2zM1333.7,1723.2h3.2v17.6h-3.2zM1144.3,1740.6h3.8v17.6h-3.8zM1152.6,1740.6h3.5v17.6h-3.5zM1155.9,1740.6h3.5v17.6h-3.5zM1159.3,1740.6h3.5v17.6h-3.5zM1179.2,1740.6h2.9v17.6h-2.9zM1193.0,1740.6h3.3v17.6h-3.3zM1196.1,1740.6h3.3v17.6h-3.3zM1199.3,1740.6h3.3v17.6h-3.3zM1202.4,1740.6h3.3v17.6h-3.3zM1208.7,1740.6h3.3v17.6h-3.3zM1211.8,1740.6h3.3v17.6h-3.3zM1215.0,1740.6h3.3v17.6h-3.3zM1221.3,1740.6h3.3v17.6h-3.3zM1224.4,1740.6h3.3v17.6h-3.3zM1227.6,1740.6h3.3v17.6h-3.3zM1230.7,1740.6h3.3v17.6h-3.3zM1237.0,1740.6h3.3v17.6h-3.3zM1240.1,1740.6h3.3v17.6h-3.3zM1243.3,1740.6h3.3v17.6h-3.3zM1246.4,1740.6h3.3v17.6h-3.3zM1249.6,1740.6h3.3v17.6h-3.3zM1252.7,1740.6h3.3v17.6h-3.3zM1259.0,1740.6h3.3v17.6h-3.3zM1262.1,1740.6h3.3v17.6h-3.3zM1265.3,1740.6h3.3v17.6h-3.3zM1268.4,1740.6h3.3v17.6h-3.3zM1308.7,1740.6h3.4v17.6h-3.4zM1311.9,1740.6h3.4v17.6h-3.4zM1152.6,1758.0h3.5v17.6h-3.5zM1155.9,1758.0h3.5v17.6h-3.5zM1168.2,1758.0h3.1v17.6h-3.1zM1226.0,1758.0h3.1v17.6h-3.1zM1229.0,1758.0h3.1v17.6h-3.1zM1243.5,1758.0h2.9v17.6h-2.9zM1246.2,1758.0h2.9v17.6h-2.9zM1249.0,1758.0h2.9v17.6h-2.9zM1295.8,1758.0h3.2v17.6h-3.2zM1298.9,1758.0h3.2v17.6h-3.2zM1302.0,1758.0h3.2v17.6h-3.2zM1305.1,1758.0h3.2v17.6h-3.2zM1308.2,1758.0h3.2v17.6h-3.2zM1317.5,1758.0h3.2v17.6h-3.2zM1152.6,1775.5h3.3v17.6h-3.3zM1155.7,1775.5h3.3v17.6h-3.3zM1158.9,1775.5h3.3v17.6h-3.3zM1162.1,1775.5h3.3v17.6h-3.3zM1168.5,1775.5h3.3v17.6h-3.3zM1171.7,1775.5h3.3v17.6h-3.3zM1174.9,1775.5h3.3v17.6h-3.3zM1178.1,1775.5h3.3v17.6h-3.3zM1184.5,1775.5h3.3v17.6h-3.3zM1194.1,1775.5h3.3v17.6h-3.3zM1197.3,1775.5h3.3v17.6h-3.3zM1206.8,1775.5h3.3v17.6h-3.3zM1210.0,1775.5h3.3v17.6h-3.3zM1213.2,1775.5h3.3v17.6h-3.3zM1216.4,1775.5h3.3v17.6h-3.3zM1200.8,1793.0h3.1v17.6h-3.1zM1229.0,1793.0h3.1v17.6h-3.1zM1231.9,1793.0h3.1v17.6h-3.1zM1234.8,1793.0h3.1v17.6h-3.1zM1243.5,1793.0h3.6v17.6h-3.6zM1299.0,1793.0h3.2v17.6h-3.2zM1317.9,1793.0h2.9v17.6h-2.9z" fill="#b14ea2" shape-rendering="crispEdges"/>
<path d="M1255.6,1705.7h3.2v17.6h-3.2zM1311.9,1705.7h3.3v17.6h-3.3zM1318.1,1705.7h3.3v17.6h-3.3zM1155.8,1723.2h3.4v17.6h-3.4zM1159.0,1723.2h3.4v17.6h-3.4zM1184.7,1723.2h3.4v17.6h-3.4zM1191.1,1723.2h3.4v17.6h-3.4zM1200.8,1723.2h3.4v17.6h-3.4zM1207.2,1723.2h3.4v17.6h-3.4zM1213.6,1723.2h3.4v17.6h-3.4zM1223.3,1723.2h3.4v17.6h-3.4zM1226.5,1723.2h3.4v17.6h-3.4zM1232.9,1723.2h3.4v17.6h-3.4zM1245.8,1723.2h3.4v17.6h-3.4zM1262.8,1723.2h3.4v17.6h-3.4zM1269.2,1723.2h3.4v17.6h-3.4zM1285.3,1723.2h3.4v17.6h-3.4zM1291.7,1723.2h3.4v17.6h-3.4zM1294.9,1723.2h3.4v17.6h-3.4zM1298.1,1723.2h3.4v17.6h-3.4zM1181.9,1740.6h2.9v17.6h-2.9zM1233.8,1740.6h3.3v17.6h-3.3zM1271.6,1740.6h3.3v17.6h-3.3zM1159.3,1758.0h3.5v17.6h-3.5zM1194.8,1758.0h3.6v17.6h-3.6zM1198.2,1758.0h3.6v17.6h-3.6zM1201.7,1758.0h3.6v17.6h-3.6zM1205.1,1758.0h3.6v17.6h-3.6zM1232.0,1758.0h3.1v17.6h-3.1zM1235.0,1758.0h3.1v17.6h-3.1zM1311.3,1758.0h3.2v17.6h-3.2zM1165.3,1775.5h3.3v17.6h-3.3zM1181.3,1775.5h3.3v17.6h-3.3zM1187.7,1775.5h3.3v17.6h-3.3zM1190.9,1775.5h3.3v17.6h-3.3zM1200.4,1775.5h3.3v17.6h-3.3zM1203.6,1775.5h3.3v17.6h-3.3z" fill="#a83a98" shape-rendering="crispEdges"/>
<line x1="1152.6" y1="1705.7" x2="1152.6" y2="1810.4" stroke="#f01010" stroke-width="2" stroke-linecap="butt" stroke-dasharray="4.5 2.2"/>
<text x="1020.9" y="1720.2" font-size="24.8">Pair</text>
<text x="1085.5" y="1720.2" font-size="24.8" text-anchor="end">1</text>
<circle cx="1081.6" cy="1728.9" r="4.3" fill="#000"/>
<circle cx="1081.6" cy="1747.0" r="4.3" fill="#000"/>
<circle cx="1081.6" cy="1764.3" r="4.3" fill="#000"/>
<circle cx="1081.6" cy="1781.0" r="4.3" fill="#000"/>
<text x="1086.5" y="1806.0" font-size="24.8" text-anchor="end">6</text>
<rect x="1355" y="1747.3" width="14" height="42.8" fill="url(#cbar)"/>
<line x1="1370.3" y1="1753.7" x2="1376.5" y2="1753.7" stroke="#000" stroke-width="2.5" stroke-linecap="butt"/>
<line x1="1370.3" y1="1775.1" x2="1376.5" y2="1775.1" stroke="#000" stroke-width="2.5" stroke-linecap="butt"/>
<text x="1380.8" y="1761.8" font-size="24.8">&gt;10</text>
<text x="1381.3" y="1781.2" font-size="24.8">5</text>
<path d="M1176.4,1878.8h3.3v17.6h-3.3zM1179.6,1878.8h3.3v17.6h-3.3zM1182.8,1878.8h3.3v17.6h-3.3zM1185.9,1878.8h3.3v17.6h-3.3zM1189.1,1878.8h3.3v17.6h-3.3zM1192.3,1878.8h3.3v17.6h-3.3zM1195.4,1878.8h3.3v17.6h-3.3zM1198.6,1878.8h3.3v17.6h-3.3zM1201.7,1878.8h3.3v17.6h-3.3zM1096.5,1948.6h3.2v17.6h-3.2zM1099.6,1948.6h3.2v17.6h-3.2zM1102.7,1948.6h3.2v17.6h-3.2zM1105.7,1948.6h3.2v17.6h-3.2zM1111.8,1948.6h3.2v17.6h-3.2zM1114.9,1948.6h3.2v17.6h-3.2zM1118.0,1948.6h3.2v17.6h-3.2zM1121.0,1948.6h3.2v17.6h-3.2zM1309.6,1948.6h3.8v17.6h-3.8zM1313.3,1948.6h3.8v17.6h-3.8zM1317.0,1948.6h3.8v17.6h-3.8zM1293.1,1966.0h4.7v17.6h-4.7z" fill="#f6ebf5" shape-rendering="crispEdges"/>
<path d="M1207.1,1896.2h3.1v17.6h-3.1zM1253.6,1896.2h3.8v17.6h-3.8zM1257.3,1896.2h3.8v17.6h-3.8zM1260.9,1896.2h3.8v17.6h-3.8zM1273.8,1896.2h2.9v17.6h-2.9zM1276.5,1896.2h2.9v17.6h-2.9zM1286.6,1896.2h1.1v17.6h-1.1zM1096.5,1931.1h4.7v17.6h-4.7zM1148.0,1931.1h4.7v17.6h-4.7zM1323.4,1931.1h2.9v17.6h-2.9zM1159.9,1948.6h4.7v17.6h-4.7zM1192.0,1948.6h3.4v17.6h-3.4zM1195.3,1948.6h3.4v17.6h-3.4zM1104.8,1966.0h2.0v17.6h-2.0zM1157.1,1966.0h2.9v17.6h-2.9z" fill="#eed8ea" shape-rendering="crispEdges"/>
<path d="M1260.0,1878.8h2.0v17.6h-2.0zM1201.2,1896.2h3.1v17.6h-3.1zM1204.2,1896.2h3.1v17.6h-3.1zM1210.1,1896.2h3.1v17.6h-3.1zM1213.0,1896.2h3.1v17.6h-3.1zM1301.3,1896.2h2.0v17.6h-2.0zM1126.8,1913.7h2.0v17.6h-2.0zM1165.4,1931.1h4.7v17.6h-4.7zM1170.0,1931.1h3.1v17.6h-3.1zM1179.0,1931.1h3.1v17.6h-3.1zM1326.1,1931.1h2.9v17.6h-2.9zM1328.9,1931.1h2.9v17.6h-2.9zM1180.1,1948.6h2.9v17.6h-2.9zM1268.3,1948.6h3.2v17.6h-3.2zM1271.3,1948.6h3.2v17.6h-3.2zM1274.4,1948.6h3.2v17.6h-3.2zM1286.6,1948.6h3.2v17.6h-3.2z" fill="#e5c4e0" shape-rendering="crispEdges"/>
<path d="M1112.1,1878.8h3.4v17.6h-3.4zM1115.4,1878.8h3.4v17.6h-3.4zM1204.9,1878.8h3.5v17.6h-3.5zM1211.6,1878.8h3.5v17.6h-3.5zM1220.5,1878.8h3.8v17.6h-3.8zM1175.5,1896.2h3.4v17.6h-3.4zM1178.7,1896.2h3.4v17.6h-3.4zM1181.9,1896.2h3.4v17.6h-3.4zM1185.2,1896.2h3.4v17.6h-3.4zM1188.4,1896.2h3.4v17.6h-3.4zM1191.6,1896.2h3.4v17.6h-3.4zM1194.8,1896.2h3.4v17.6h-3.4zM1198.0,1896.2h3.4v17.6h-3.4zM1204.9,1913.7h3.8v17.6h-3.8zM1208.6,1913.7h3.8v17.6h-3.8zM1212.3,1913.7h3.8v17.6h-3.8zM1230.6,1913.7h2.0v17.6h-2.0zM1326.1,1913.7h2.9v17.6h-2.9zM1328.9,1913.7h2.9v17.6h-2.9zM1173.0,1931.1h3.1v17.6h-3.1zM1176.0,1931.1h3.1v17.6h-3.1zM1277.5,1948.6h3.2v17.6h-3.2zM1280.5,1948.6h3.2v17.6h-3.2zM1283.6,1948.6h3.2v17.6h-3.2zM1289.7,1948.6h3.2v17.6h-3.2zM1292.8,1948.6h3.2v17.6h-3.2z" fill="#dcb0d6" shape-rendering="crispEdges"/>
<path d="M1106.2,1878.8h3.4v17.6h-3.4zM1208.3,1878.8h3.5v17.6h-3.5zM1152.6,1913.7h3.4v17.6h-3.4zM1155.8,1913.7h3.4v17.6h-3.4z" fill="#d49ccc" shape-rendering="crispEdges"/>
<path d="M1096.5,1878.8h3.4v17.6h-3.4zM1099.7,1878.8h3.4v17.6h-3.4zM1103.0,1878.8h3.4v17.6h-3.4zM1155.8,1896.2h3.4v17.6h-3.4zM1159.1,1896.2h3.4v17.6h-3.4zM1162.4,1896.2h3.4v17.6h-3.4zM1165.7,1896.2h3.4v17.6h-3.4zM1169.0,1896.2h3.4v17.6h-3.4zM1172.2,1896.2h3.4v17.6h-3.4zM1152.6,1966.0h4.7v17.6h-4.7z" fill="#cb89c1" shape-rendering="crispEdges"/>
<path d="M1224.2,1878.8h3.4v17.6h-3.4zM1227.4,1878.8h3.4v17.6h-3.4zM1246.7,1878.8h3.4v17.6h-3.4zM1267.4,1878.8h3.4v17.6h-3.4zM1152.6,1896.2h3.4v17.6h-3.4zM1142.5,1913.7h2.9v17.6h-2.9zM1145.2,1913.7h2.9v17.6h-2.9zM1252.7,1913.7h3.8v17.6h-3.8zM1181.9,1931.1h3.4v17.6h-3.4zM1185.2,1931.1h3.4v17.6h-3.4zM1188.4,1931.1h3.4v17.6h-3.4zM1191.6,1931.1h3.4v17.6h-3.4zM1194.8,1931.1h3.4v17.6h-3.4zM1198.0,1931.1h3.4v17.6h-3.4zM1185.6,1966.0h2.9v17.6h-2.9z" fill="#c275b7" shape-rendering="crispEdges"/>
<path d="M1109.4,1878.8h2.9v17.6h-2.9zM1233.8,1878.8h3.4v17.6h-3.4zM1237.1,1878.8h3.4v17.6h-3.4zM1243.5,1878.8h3.4v17.6h-3.4zM1249.9,1878.8h3.4v17.6h-3.4zM1253.1,1878.8h3.4v17.6h-3.4zM1270.6,1878.8h3.4v17.6h-3.4zM1142.1,1896.2h3.6v17.6h-3.6zM1145.6,1896.2h3.6v17.6h-3.6zM1328.9,1896.2h4.7v17.6h-4.7zM1249.0,1913.7h3.8v17.6h-3.8zM1297.7,1913.7h2.9v17.6h-2.9zM1331.7,1913.7h2.9v17.6h-2.9zM1164.5,1948.6h3.4v17.6h-3.4z" fill="#b961ad" shape-rendering="crispEdges"/>
<path d="M1152.6,1878.8h3.6v17.6h-3.6zM1173.0,1878.8h3.6v17.6h-3.6zM1230.6,1878.8h3.4v17.6h-3.4zM1240.3,1878.8h3.4v17.6h-3.4zM1335.3,1878.8h4.7v17.6h-4.7zM1135.1,1896.2h3.6v17.6h-3.6zM1138.6,1896.2h3.6v17.6h-3.6zM1264.6,1896.2h3.2v17.6h-3.2zM1270.7,1896.2h3.2v17.6h-3.2zM1237.1,1913.7h3.4v17.6h-3.4zM1240.3,1913.7h3.4v17.6h-3.4zM1334.4,1913.7h2.9v17.6h-2.9zM1337.2,1913.7h2.9v17.6h-2.9zM1188.4,1966.0h2.9v17.6h-2.9z" fill="#b14ea2" shape-rendering="crispEdges"/>
<path d="M1156.0,1878.8h3.6v17.6h-3.6zM1159.4,1878.8h3.6v17.6h-3.6zM1162.8,1878.8h3.6v17.6h-3.6zM1166.2,1878.8h3.6v17.6h-3.6zM1169.6,1878.8h3.6v17.6h-3.6zM1149.1,1896.2h3.6v17.6h-3.6zM1267.7,1896.2h3.2v17.6h-3.2zM1152.6,1931.1h3.4v17.6h-3.4zM1155.8,1931.1h3.4v17.6h-3.4zM1159.0,1931.1h3.4v17.6h-3.4zM1162.2,1931.1h3.4v17.6h-3.4zM1167.7,1948.6h3.4v17.6h-3.4z" fill="#a83a98" shape-rendering="crispEdges"/>
<line x1="1152.6" y1="1878.8" x2="1152.6" y2="1983.5" stroke="#f01010" stroke-width="2" stroke-linecap="butt" stroke-dasharray="4.5 2.2"/>
<text x="1020.9" y="1892.0" font-size="24.8">Pair</text>
<text x="1085.5" y="1892.0" font-size="24.8" text-anchor="end">1</text>
<circle cx="1081.6" cy="1901.4" r="4.3" fill="#000"/>
<circle cx="1081.6" cy="1919.0" r="4.3" fill="#000"/>
<circle cx="1081.6" cy="1936.0" r="4.3" fill="#000"/>
<circle cx="1081.6" cy="1952.7" r="4.3" fill="#000"/>
<text x="1086.5" y="1978.0" font-size="24.8" text-anchor="end">6</text>
<rect x="1355" y="1893.0" width="14" height="42.8" fill="url(#cbar)"/>
<line x1="1370.3" y1="1899.4" x2="1376.5" y2="1899.4" stroke="#000" stroke-width="2.5" stroke-linecap="butt"/>
<line x1="1370.3" y1="1920.8" x2="1376.5" y2="1920.8" stroke="#000" stroke-width="2.5" stroke-linecap="butt"/>
<text x="1380.8" y="1907.5" font-size="24.8">&gt;10</text>
<text x="1381.3" y="1926.9" font-size="24.8">5</text>
<text x="1095.5" y="2004.0" font-size="24.8" text-anchor="middle">–3</text>
<text x="1152.4" y="2004.0" font-size="24.8" text-anchor="middle">0</text>
<text x="1310.6" y="2004.0" font-size="24.8">10 min</text>
<path d="M1516.2,1533.6 H1525.2 V1635.6 M1516.2,1582.1 H1525.2 M1516.2,1630.6 H1643.4 V1635.6" stroke="#000" stroke-width="2.5" fill="none"/>
<text x="1514.5" y="1542.1" font-size="24.8" text-anchor="end">10<tspan font-size="16.5" dy="-9">2</tspan></text>
<text x="1514.5" y="1590.6" font-size="24.8" text-anchor="end">10<tspan font-size="16.5" dy="-9">1</tspan></text>
<text x="1514.5" y="1639.1" font-size="24.8" text-anchor="end">10<tspan font-size="16.5" dy="-9">0</tspan></text>
<text x="1525.2" y="1659.4" font-size="24.8" text-anchor="middle">0</text>
<text x="1643.4" y="1659.4" font-size="24.8" text-anchor="middle">35</text>
<text x="1584.2" y="1679.8" font-size="24.8" text-anchor="middle">IFD (mm)</text>
<text x="1465.6" y="1584.1" font-size="24.8" text-anchor="middle" transform="rotate(-90 1465.6 1584.1)">Time (min)</text>
<path d="M1528.8,1629.6V1579.6h3.9V1629.6zM1532.5,1629.6V1559.5h3.9V1629.6zM1536.2,1629.6V1600.1h3.9V1629.6zM1539.9,1629.6V1615.5h3.9V1629.6zM1543.6,1629.6V1617.0h3.9V1629.6zM1547.3,1629.6V1623.4h3.9V1629.6zM1551.0,1629.6V1610.1h3.9V1629.6zM1554.7,1629.6V1604.4h3.9V1629.6zM1558.4,1629.6V1627.0h3.9V1629.6zM1573.2,1629.6V1617.0h3.9V1629.6zM1580.6,1629.6V1628.8h3.9V1629.6zM1584.3,1629.6V1624.5h3.9V1629.6zM1599.1,1629.6V1628.8h3.9V1629.6zM1602.8,1629.6V1629.5h3.9V1629.6zM1617.6,1629.6V1618.0h3.9V1629.6z" fill="#a83a98"/>
<path d="M1516.2,1707.8 H1525.2 V1810.5 M1516.2,1756.7 H1525.2 M1516.2,1805.5 H1643.4 V1810.5" stroke="#000" stroke-width="2.5" fill="none"/>
<text x="1514.5" y="1716.3" font-size="24.8" text-anchor="end">10<tspan font-size="16.5" dy="-9">2</tspan></text>
<text x="1514.5" y="1765.2" font-size="24.8" text-anchor="end">10<tspan font-size="16.5" dy="-9">1</tspan></text>
<text x="1514.5" y="1814.0" font-size="24.8" text-anchor="end">10<tspan font-size="16.5" dy="-9">0</tspan></text>
<text x="1525.2" y="1833.6" font-size="24.8" text-anchor="middle">0</text>
<text x="1643.4" y="1833.6" font-size="24.8" text-anchor="middle">35</text>
<text x="1584.2" y="1862.3" font-size="24.8" text-anchor="middle">IFD (mm)</text>
<text x="1465.6" y="1758.7" font-size="24.8" text-anchor="middle" transform="rotate(-90 1465.6 1758.7)">Time (min)</text>
<path d="M1528.8,1804.5V1782.2h3.9V1804.5zM1532.5,1804.5V1734.8h3.9V1804.5zM1536.2,1804.5V1774.3h3.9V1804.5zM1539.9,1804.5V1786.9h3.9V1804.5zM1543.6,1804.5V1780.8h3.9V1804.5zM1547.3,1804.5V1786.9h3.9V1804.5zM1551.0,1804.5V1793.3h3.9V1804.5zM1554.7,1804.5V1784.4h3.9V1804.5zM1558.4,1804.5V1771.4h3.9V1804.5zM1562.1,1804.5V1777.9h3.9V1804.5zM1565.8,1804.5V1789.7h3.9V1804.5zM1569.5,1804.5V1795.8h3.9V1804.5zM1573.2,1804.5V1801.2h3.9V1804.5zM1576.9,1804.5V1780.8h3.9V1804.5zM1580.6,1804.5V1787.6h3.9V1804.5zM1602.8,1804.5V1802.0h3.9V1804.5zM1606.5,1804.5V1798.4h3.9V1804.5z" fill="#a83a98"/>
<path d="M1516.2,1882.0 H1525.2 V1984.0 M1516.2,1930.5 H1525.2 M1516.2,1979.0 H1643.4 V1984.0" stroke="#000" stroke-width="2.5" fill="none"/>
<text x="1514.5" y="1890.5" font-size="24.8" text-anchor="end">10<tspan font-size="16.5" dy="-9">2</tspan></text>
<text x="1514.5" y="1939.0" font-size="24.8" text-anchor="end">10<tspan font-size="16.5" dy="-9">1</tspan></text>
<text x="1514.5" y="1987.5" font-size="24.8" text-anchor="end">10<tspan font-size="16.5" dy="-9">0</tspan></text>
<text x="1525.2" y="2007.0" font-size="24.8" text-anchor="middle">0</text>
<text x="1643.4" y="2007.0" font-size="24.8" text-anchor="middle">35</text>
<text x="1584.2" y="2039.0" font-size="24.8" text-anchor="middle">IFD (mm)</text>
<text x="1465.6" y="1932.5" font-size="24.8" text-anchor="middle" transform="rotate(-90 1465.6 1932.5)">Time (min)</text>
<path d="M1532.5,1978.0V1944.9h3.9V1978.0zM1536.2,1978.0V1959.3h3.9V1978.0zM1539.9,1978.0V1969.3h3.9V1978.0zM1543.6,1978.0V1965.4h3.9V1978.0zM1547.3,1978.0V1949.6h3.9V1978.0zM1551.0,1978.0V1957.5h3.9V1978.0zM1554.7,1978.0V1966.5h3.9V1978.0zM1558.4,1978.0V1946.7h3.9V1978.0zM1562.1,1978.0V1959.3h3.9V1978.0zM1565.8,1978.0V1952.1h3.9V1978.0zM1569.5,1978.0V1955.0h3.9V1978.0zM1573.2,1978.0V1948.5h3.9V1978.0zM1576.9,1978.0V1961.1h3.9V1978.0zM1580.6,1978.0V1947.8h3.9V1978.0zM1584.3,1978.0V1950.3h3.9V1978.0zM1588.0,1978.0V1946.0h3.9V1978.0zM1591.7,1978.0V1949.6h3.9V1978.0zM1595.4,1978.0V1950.3h3.9V1978.0zM1599.1,1978.0V1949.2h3.9V1978.0zM1602.8,1978.0V1949.2h3.9V1978.0zM1610.2,1978.0V1955.0h3.9V1978.0zM1617.6,1978.0V1977.2h3.9V1978.0zM1621.3,1978.0V1974.7h3.9V1978.0z" fill="#a83a98"/>
<path d="M1802.5,1626.3 H1807.9 V1880.3 H1802.5 M1802.5,1711 H1807.9 M1802.5,1795.7 H1807.9" stroke="#000" stroke-width="2" fill="none"/>
<text x="1799.5" y="1635.3" font-size="24.8" text-anchor="end">10<tspan font-size="16" dy="-9">3</tspan></text>
<text x="1799.5" y="1720.0" font-size="24.8" text-anchor="end">10<tspan font-size="16" dy="-9">2</tspan></text>
<text x="1799.5" y="1804.7" font-size="24.8" text-anchor="end">10<tspan font-size="16" dy="-9">1</tspan></text>
<text x="1799.5" y="1889.3" font-size="24.8" text-anchor="end">10<tspan font-size="16" dy="-9">0</tspan></text>
<text x="1739.0" y="1750.0" font-size="24.8" text-anchor="middle" transform="rotate(-90 1739.0 1750.0)">Average bout length (s)</text>
<text x="1876.2" y="1614.5" font-size="24.8" text-anchor="middle">a</text>
<text x="1979.3" y="1614.5" font-size="24.8" text-anchor="middle">a</text>
<text x="2069.4" y="1614.5" font-size="24.8" text-anchor="middle">b</text>
<circle cx="1870.8" cy="1646.1" r="9.6" fill="#808080" fill-opacity="0.5"/>
<circle cx="1882.6" cy="1646.1" r="9.6" fill="#808080" fill-opacity="0.5"/>
<circle cx="1876.2" cy="1671.9" r="9.6" fill="#808080" fill-opacity="0.5"/>
<circle cx="1894.1" cy="1697.8" r="9.6" fill="#808080" fill-opacity="0.5"/>
<circle cx="1860.0" cy="1699.9" r="9.6" fill="#808080" fill-opacity="0.5"/>
<circle cx="1870.8" cy="1699.9" r="9.6" fill="#808080" fill-opacity="0.5"/>
<circle cx="1836.7" cy="1715.0" r="9.6" fill="#808080" fill-opacity="0.5"/>
<circle cx="1849.2" cy="1716.8" r="9.6" fill="#808080" fill-opacity="0.5"/>
<circle cx="1860.0" cy="1717.9" r="9.6" fill="#808080" fill-opacity="0.5"/>
<circle cx="1883.4" cy="1711.4" r="9.6" fill="#808080" fill-opacity="0.5"/>
<circle cx="1894.1" cy="1716.8" r="9.6" fill="#808080" fill-opacity="0.5"/>
<circle cx="1917.5" cy="1721.5" r="9.6" fill="#808080" fill-opacity="0.5"/>
<circle cx="1904.9" cy="1725.1" r="9.6" fill="#808080" fill-opacity="0.5"/>
<circle cx="1849.2" cy="1726.5" r="9.6" fill="#808080" fill-opacity="0.5"/>
<circle cx="1860.0" cy="1730.1" r="9.6" fill="#808080" fill-opacity="0.5"/>
<circle cx="1870.8" cy="1725.8" r="9.6" fill="#808080" fill-opacity="0.5"/>
<circle cx="1883.4" cy="1727.6" r="9.6" fill="#808080" fill-opacity="0.5"/>
<circle cx="1894.1" cy="1730.1" r="9.6" fill="#808080" fill-opacity="0.5"/>
<circle cx="1860.0" cy="1742.0" r="9.6" fill="#808080" fill-opacity="0.5"/>
<circle cx="1870.8" cy="1739.5" r="9.6" fill="#808080" fill-opacity="0.5"/>
<circle cx="1883.4" cy="1743.8" r="9.6" fill="#808080" fill-opacity="0.5"/>
<circle cx="1894.1" cy="1742.0" r="9.6" fill="#808080" fill-opacity="0.5"/>
<circle cx="1870.8" cy="1756.3" r="9.6" fill="#808080" fill-opacity="0.5"/>
<circle cx="1883.4" cy="1747.4" r="9.6" fill="#808080" fill-opacity="0.5"/>
<line x1="1865.4" y1="1718.6" x2="1887.7" y2="1718.6" stroke="#000" stroke-width="2" stroke-linecap="butt"/>
<circle cx="1974.2" cy="1646.1" r="9.6" fill="#808080" fill-opacity="0.5"/>
<circle cx="1985.7" cy="1646.1" r="9.6" fill="#808080" fill-opacity="0.5"/>
<circle cx="1997.6" cy="1685.6" r="9.6" fill="#808080" fill-opacity="0.5"/>
<circle cx="1974.2" cy="1691.7" r="9.6" fill="#808080" fill-opacity="0.5"/>
<circle cx="1985.7" cy="1689.2" r="9.6" fill="#808080" fill-opacity="0.5"/>
<circle cx="1962.4" cy="1707.8" r="9.6" fill="#808080" fill-opacity="0.5"/>
<circle cx="1950.9" cy="1709.6" r="9.6" fill="#808080" fill-opacity="0.5"/>
<circle cx="1985.7" cy="1713.2" r="9.6" fill="#808080" fill-opacity="0.5"/>
<circle cx="1997.6" cy="1713.2" r="9.6" fill="#808080" fill-opacity="0.5"/>
<circle cx="2009.1" cy="1713.2" r="9.6" fill="#808080" fill-opacity="0.5"/>
<circle cx="1950.9" cy="1727.6" r="9.6" fill="#808080" fill-opacity="0.5"/>
<circle cx="1962.4" cy="1716.8" r="9.6" fill="#808080" fill-opacity="0.5"/>
<circle cx="1997.6" cy="1731.2" r="9.6" fill="#808080" fill-opacity="0.5"/>
<circle cx="2009.1" cy="1728.7" r="9.6" fill="#808080" fill-opacity="0.5"/>
<circle cx="1974.2" cy="1736.6" r="9.6" fill="#808080" fill-opacity="0.5"/>
<circle cx="1985.7" cy="1736.6" r="9.6" fill="#808080" fill-opacity="0.5"/>
<circle cx="1962.4" cy="1745.6" r="9.6" fill="#808080" fill-opacity="0.5"/>
<circle cx="1974.2" cy="1747.4" r="9.6" fill="#808080" fill-opacity="0.5"/>
<circle cx="1985.7" cy="1750.9" r="9.6" fill="#808080" fill-opacity="0.5"/>
<circle cx="1997.6" cy="1750.9" r="9.6" fill="#808080" fill-opacity="0.5"/>
<circle cx="1962.4" cy="1756.3" r="9.6" fill="#808080" fill-opacity="0.5"/>
<circle cx="1985.7" cy="1761.7" r="9.6" fill="#808080" fill-opacity="0.5"/>
<circle cx="1974.2" cy="1770.7" r="9.6" fill="#808080" fill-opacity="0.5"/>
<circle cx="1985.7" cy="1768.9" r="9.6" fill="#808080" fill-opacity="0.5"/>
<line x1="1968.9" y1="1728.0" x2="1990.4" y2="1728.0" stroke="#000" stroke-width="2" stroke-linecap="butt"/>
<circle cx="2069.4" cy="1692.8" r="9.6" fill="#808080" fill-opacity="0.5"/>
<circle cx="2052.2" cy="1745.6" r="9.6" fill="#808080" fill-opacity="0.5"/>
<circle cx="2064.0" cy="1743.8" r="9.6" fill="#808080" fill-opacity="0.5"/>
<circle cx="2075.5" cy="1743.8" r="9.6" fill="#808080" fill-opacity="0.5"/>
<circle cx="2087.4" cy="1745.6" r="9.6" fill="#808080" fill-opacity="0.5"/>
<circle cx="2040.7" cy="1761.7" r="9.6" fill="#808080" fill-opacity="0.5"/>
<circle cx="2052.2" cy="1765.3" r="9.6" fill="#808080" fill-opacity="0.5"/>
<circle cx="2064.0" cy="1759.9" r="9.6" fill="#808080" fill-opacity="0.5"/>
<circle cx="2098.9" cy="1759.9" r="9.6" fill="#808080" fill-opacity="0.5"/>
<circle cx="2040.7" cy="1770.7" r="9.6" fill="#808080" fill-opacity="0.5"/>
<circle cx="2087.4" cy="1768.9" r="9.6" fill="#808080" fill-opacity="0.5"/>
<circle cx="2098.9" cy="1772.5" r="9.6" fill="#808080" fill-opacity="0.5"/>
<circle cx="2040.7" cy="1781.5" r="9.6" fill="#808080" fill-opacity="0.5"/>
<circle cx="2052.2" cy="1776.1" r="9.6" fill="#808080" fill-opacity="0.5"/>
<circle cx="2040.7" cy="1790.5" r="9.6" fill="#808080" fill-opacity="0.5"/>
<circle cx="2052.2" cy="1788.7" r="9.6" fill="#808080" fill-opacity="0.5"/>
<circle cx="2064.0" cy="1785.1" r="9.6" fill="#808080" fill-opacity="0.5"/>
<circle cx="2075.5" cy="1785.1" r="9.6" fill="#808080" fill-opacity="0.5"/>
<circle cx="2087.4" cy="1783.3" r="9.6" fill="#808080" fill-opacity="0.5"/>
<circle cx="2098.9" cy="1792.3" r="9.6" fill="#808080" fill-opacity="0.5"/>
<circle cx="2052.2" cy="1795.8" r="9.6" fill="#808080" fill-opacity="0.5"/>
<circle cx="2064.0" cy="1795.8" r="9.6" fill="#808080" fill-opacity="0.5"/>
<circle cx="2075.5" cy="1797.6" r="9.6" fill="#808080" fill-opacity="0.5"/>
<circle cx="2087.4" cy="1794.1" r="9.6" fill="#808080" fill-opacity="0.5"/>
<circle cx="2064.0" cy="1804.8" r="9.6" fill="#808080" fill-opacity="0.5"/>
<circle cx="2075.5" cy="1804.8" r="9.6" fill="#808080" fill-opacity="0.5"/>
<circle cx="2069.4" cy="1829.3" r="9.6" fill="#808080" fill-opacity="0.5"/>
<line x1="2058.6" y1="1775.4" x2="2080.2" y2="1775.4" stroke="#000" stroke-width="2" stroke-linecap="butt"/>
<text x="1879.8" y="1889.5" font-size="24.8" text-anchor="end" transform="rotate(-45 1879.8 1889.5)">&gt;Kir Ctrl</text>
<text x="1979.3" y="1889.5" font-size="24.8" text-anchor="end" transform="rotate(-45 1979.3 1889.5)">Fru<tspan style="font-family:'Noto Sans CJK JP',sans-serif" font-size="0.9em" dx="-2.5" letter-spacing="-3.6">∩</tspan>P1&gt;Kir</text>
<text x="2070.2" y="1889.5" font-size="24.8" text-anchor="end" transform="rotate(-45 2070.2 1889.5)">Dsx<tspan style="font-family:'Noto Sans CJK JP',sans-serif" font-size="0.9em" dx="-2.5" letter-spacing="-3.6">∩</tspan>P1&gt;Kir</text>
<text x="-9.9" y="8.0" font-size="62" font-weight="200" style="font-family:'DejaVu Sans',sans-serif" transform="translate(1782.2 1943.2) translate(8.0 -8.0) rotate(5) scale(0.95) translate(-8.0 8.0)">♂</text></svg></body></html>
